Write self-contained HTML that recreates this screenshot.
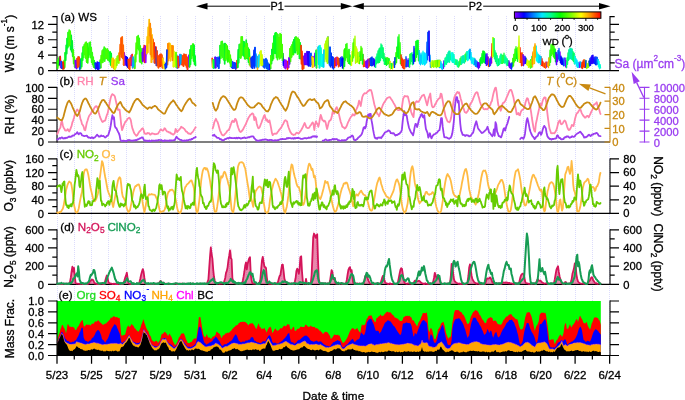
<!DOCTYPE html>
<html lang="en"><head><meta charset="utf-8"><title>Time series</title>
<style>html,body{margin:0;padding:0;background:#fff}svg{display:block}svg text{font-family:"Liberation Sans",sans-serif}</style></head>
<body>
<svg width="685" height="400" viewBox="0 0 685 400" font-family="'Liberation Sans', sans-serif" font-size="12px">
<rect width="685" height="400" fill="#fff"/>
<path d="M57.5,16V355M74.5,16V355M91.5,16V355M108.5,16V355M126.5,16V355M143.5,16V355M160.5,16V355M177.5,16V355M195.5,16V355M212.5,16V355M229.5,16V355M246.5,16V355M264.5,16V355M281.5,16V355M298.5,16V355M316.5,16V355M333.5,16V355M350.5,16V355M367.5,16V355M385.5,16V355M402.5,16V355M419.5,16V355M436.5,16V355M454.5,16V355M471.5,16V355M488.5,16V355M506.5,16V355M523.5,16V355M540.5,16V355M557.5,16V355M575.5,16V355M592.5,16V355M609.5,16V355" stroke="#dcdcfc" stroke-width="1" stroke-dasharray="1,1" fill="none"/>
<g shape-rendering="auto">
<rect x="57.0" y="301.0" width="543.8" height="54.5" fill="#00ff00"/>
<path d="M57.0,355.5 L57.2,341.7 58.0,337.9 58.8,335.0 59.6,332.9 60.4,329.6 61.2,327.6 62.0,324.9 62.8,325.0 63.6,327.2 64.4,328.6 65.2,330.3 66.0,333.6 66.8,329.4 67.6,324.2 68.4,324.4 69.2,326.3 70.0,326.9 70.8,326.4 71.6,327.2 72.4,326.6 73.2,327.4 74.0,327.2 74.8,329.2 75.6,330.2 76.4,329.5 77.2,327.8 78.0,326.6 78.8,325.7 79.6,323.7 80.4,322.6 81.2,321.2 82.0,320.0 82.8,320.5 83.6,325.3 84.4,326.7 85.2,325.6 86.0,325.3 86.8,324.1 87.6,324.9 88.4,324.7 89.2,324.4 90.0,325.4 90.8,325.3 91.6,324.0 92.4,323.5 93.2,324.1 94.0,323.0 94.8,321.7 95.6,321.3 96.4,321.9 97.2,320.6 98.0,321.1 98.8,320.2 99.6,321.9 100.4,322.6 101.2,323.2 102.0,324.1 102.8,324.7 103.6,324.7 104.4,324.0 105.2,323.6 106.0,323.7 106.8,322.6 107.6,322.0 108.4,321.0 109.2,320.2 110.0,319.4 110.8,317.5 111.6,317.8 112.4,317.6 113.2,316.3 114.0,316.5 114.8,316.6 115.6,317.5 116.4,317.1 117.2,317.1 118.0,317.9 118.8,318.1 119.6,317.8 120.4,325.5 121.2,334.4 122.0,336.1 122.8,335.3 123.6,334.9 124.4,334.9 125.2,334.2 126.0,331.6 126.8,327.8 127.6,326.5 128.4,325.3 129.2,327.1 130.0,326.5 130.8,325.4 131.6,323.7 132.4,325.0 133.2,325.6 134.0,326.7 134.8,328.6 135.6,328.8 136.4,330.3 137.2,330.8 138.0,331.5 138.8,331.5 139.6,329.7 140.4,327.9 141.2,325.0 142.0,323.2 142.8,321.1 143.6,319.1 144.4,322.7 145.2,324.8 146.0,327.4 146.8,329.1 147.6,330.5 148.4,331.3 149.2,333.9 150.0,335.6 150.8,336.4 151.6,339.2 152.4,340.6 153.2,341.2 154.0,341.6 154.8,341.9 155.6,340.5 156.4,340.9 157.2,341.3 158.0,343.0 158.8,341.8 159.6,340.8 160.4,338.7 161.2,335.5 162.0,333.6 162.8,334.1 163.6,332.9 164.4,332.0 165.2,331.7 166.0,333.3 166.8,333.5 167.6,335.5 168.4,335.8 169.2,333.7 170.0,334.2 170.8,335.9 171.6,336.9 172.4,339.4 173.2,341.8 174.0,343.0 174.8,344.7 175.6,345.0 176.4,343.8 177.2,342.2 178.0,340.1 178.8,337.7 179.6,336.7 180.4,335.4 181.2,333.8 182.0,333.2 182.8,333.7 183.6,333.0 184.4,334.4 185.2,336.7 186.0,339.3 186.8,340.7 187.6,342.8 188.4,343.0 189.2,343.2 190.0,342.5 190.8,342.1 191.6,341.9 192.4,340.7 193.2,339.6 194.0,338.8 194.8,338.2 195.6,338.6 196.4,338.4 197.2,332.6 198.0,327.1 198.8,317.4 199.6,317.0 200.4,317.0 201.2,322.0 202.0,326.9 202.8,331.3 203.6,334.9 204.4,336.4 205.2,337.3 206.0,336.3 206.8,333.8 207.6,336.4 208.4,337.8 209.2,337.3 210.0,337.9 210.8,338.8 211.6,338.4 212.4,336.8 213.2,336.8 214.0,336.0 214.8,335.7 215.6,334.5 216.4,332.0 217.2,331.5 218.0,333.0 218.8,333.0 219.6,333.9 220.4,335.3 221.2,338.1 222.0,337.4 222.8,335.6 223.6,335.3 224.4,335.0 225.2,333.3 226.0,333.8 226.8,333.0 227.6,332.5 228.4,333.0 229.2,332.5 230.0,331.7 230.8,331.1 231.6,330.2 232.4,328.7 233.2,328.5 234.0,327.0 234.8,327.1 235.6,325.4 236.4,325.6 237.2,325.1 238.0,324.5 238.8,322.9 239.6,322.8 240.4,321.9 241.2,321.9 242.0,321.9 242.8,321.6 243.6,322.0 244.4,321.7 245.2,321.9 246.0,322.5 246.8,323.2 247.6,324.2 248.4,325.5 249.2,323.9 250.0,323.8 250.8,323.3 251.6,323.5 252.4,323.1 253.2,323.9 254.0,325.1 254.8,326.6 255.6,327.9 256.4,329.3 257.2,326.7 258.0,324.7 258.8,323.2 259.6,326.8 260.4,327.0 261.2,328.5 262.0,329.2 262.8,328.2 263.6,328.9 264.4,327.5 265.2,329.7 266.0,330.7 266.8,332.8 267.6,329.8 268.4,328.8 269.2,327.0 270.0,327.4 270.8,326.6 271.6,329.7 272.4,333.3 273.2,332.1 274.0,330.5 274.8,329.0 275.6,328.6 276.4,329.9 277.2,330.7 278.0,330.4 278.8,330.3 279.6,329.3 280.4,328.1 281.2,328.7 282.0,327.7 282.8,327.5 283.6,326.1 284.4,325.6 285.2,326.4 286.0,325.9 286.8,325.3 287.6,324.0 288.4,324.8 289.2,323.9 290.0,327.9 290.8,329.8 291.6,329.4 292.4,328.2 293.2,326.8 294.0,327.0 294.8,330.7 295.6,331.0 296.4,330.3 297.2,328.9 298.0,328.7 298.8,328.7 299.6,328.0 300.4,326.8 301.2,326.6 302.0,327.0 302.8,327.1 303.6,327.0 304.4,326.9 305.2,324.9 306.0,324.5 306.8,325.6 307.6,326.3 308.4,327.1 309.2,326.4 310.0,326.7 310.8,325.2 311.6,326.4 312.4,326.8 313.2,327.0 314.0,327.1 314.8,326.8 315.6,328.4 316.4,327.9 317.2,328.4 318.0,328.7 318.8,329.7 319.6,330.8 320.4,330.4 321.2,332.0 322.0,332.3 322.8,334.0 323.6,333.5 324.4,332.6 325.2,331.5 326.0,332.3 326.8,331.8 327.6,332.4 328.4,333.4 329.2,334.7 330.0,335.9 330.8,338.9 331.6,338.4 332.4,337.4 333.2,336.3 334.0,334.8 334.8,334.6 335.6,335.1 336.4,335.1 337.2,335.0 338.0,334.6 338.8,335.7 339.6,335.4 340.4,337.7 341.2,340.0 342.0,341.2 342.8,342.9 343.6,342.8 344.4,341.9 345.2,341.0 346.0,339.7 346.8,338.4 347.6,337.1 348.4,335.1 349.2,333.0 350.0,330.9 350.8,330.0 351.6,328.7 352.4,328.2 353.2,328.2 354.0,328.7 354.8,329.8 355.6,329.3 356.4,328.7 357.2,327.8 358.0,329.7 358.8,330.7 359.6,331.9 360.4,332.6 361.2,327.2 362.0,324.0 362.8,325.6 363.6,325.1 364.4,325.1 365.2,324.1 366.0,321.3 366.8,318.6 367.6,318.0 368.4,316.0 369.2,315.7 370.0,315.6 370.8,315.5 371.6,315.6 372.4,317.7 373.2,319.7 374.0,320.1 374.8,322.1 375.6,322.0 376.4,318.2 377.2,317.9 378.0,317.2 378.8,316.2 379.6,316.1 380.4,314.2 381.2,315.4 382.0,316.3 382.8,315.5 383.6,315.7 384.4,314.3 385.2,313.4 386.0,312.5 386.8,312.0 387.6,311.5 388.4,312.5 389.2,312.0 390.0,312.8 390.8,312.3 391.6,313.7 392.4,314.8 393.2,315.0 394.0,316.3 394.8,317.5 395.6,317.8 396.4,318.0 397.2,318.8 398.0,318.5 398.8,319.9 399.6,320.4 400.4,321.1 401.2,321.0 402.0,321.1 402.8,319.6 403.6,316.9 404.4,316.9 405.2,316.1 406.0,315.7 406.8,316.2 407.6,315.6 408.4,316.3 409.2,315.5 410.0,316.6 410.8,316.9 411.6,317.7 412.4,320.5 413.2,320.2 414.0,320.8 414.8,322.9 415.6,323.7 416.4,325.2 417.2,326.6 418.0,323.7 418.8,322.0 419.6,321.0 420.4,319.2 421.2,316.9 422.0,315.4 422.8,313.1 423.6,312.9 424.4,312.9 425.2,313.2 426.0,312.9 426.8,312.2 427.6,317.6 428.4,328.5 429.2,332.6 430.0,330.1 430.8,327.8 431.6,328.7 432.4,330.6 433.2,334.2 434.0,338.1 434.8,339.5 435.6,338.7 436.4,336.3 437.2,333.7 438.0,329.2 438.8,328.8 439.6,327.3 440.4,325.8 441.2,323.1 442.0,323.0 442.8,321.7 443.6,321.9 444.4,324.9 445.2,329.0 446.0,332.8 446.8,335.1 447.6,337.0 448.4,338.7 449.2,337.5 450.0,337.1 450.8,336.6 451.6,330.1 452.4,322.8 453.2,318.6 454.0,313.3 454.8,310.8 455.6,310.1 456.4,309.9 457.2,310.3 458.0,310.0 458.8,310.3 459.6,311.3 460.4,311.7 461.2,312.0 462.0,312.9 462.8,314.8 463.6,314.8 464.4,316.5 465.2,318.3 466.0,320.4 466.8,322.8 467.6,324.2 468.4,323.4 469.2,323.1 470.0,319.4 470.8,316.7 471.6,315.2 472.4,313.5 473.2,312.0 474.0,311.5 474.8,310.8 475.6,309.7 476.4,310.7 477.2,310.6 478.0,311.8 478.8,312.9 479.6,315.1 480.4,315.6 481.2,317.3 482.0,318.8 482.8,319.9 483.6,320.7 484.4,322.4 485.2,323.1 486.0,323.2 486.8,320.3 487.6,319.0 488.4,318.2 489.2,317.8 490.0,317.6 490.8,317.0 491.6,317.7 492.4,317.9 493.2,321.1 494.0,321.1 494.8,320.2 495.6,320.7 496.4,321.5 497.2,323.2 498.0,324.3 498.8,324.3 499.6,324.5 500.4,324.8 501.2,324.5 502.0,323.4 502.8,321.4 503.6,319.8 504.4,319.6 505.2,317.4 506.0,317.4 506.8,316.1 507.6,316.4 508.4,315.2 509.2,314.6 510.0,314.5 510.8,313.9 511.6,314.5 512.4,315.9 513.2,316.7 514.0,317.2 514.8,318.0 515.6,319.0 516.4,319.2 517.2,318.9 518.0,321.2 518.8,324.9 519.6,327.5 520.4,329.2 521.2,329.5 522.0,329.2 522.8,328.4 523.6,326.2 524.4,321.6 525.2,317.6 526.0,315.0 526.8,312.5 527.6,312.4 528.4,312.2 529.2,312.1 530.0,313.0 530.8,314.7 531.6,316.7 532.4,319.9 533.2,323.1 534.0,327.2 534.8,331.1 535.6,328.2 536.4,325.9 537.2,324.9 538.0,323.2 538.8,320.9 539.6,314.7 540.4,313.8 541.2,312.7 542.0,312.6 542.8,313.1 543.6,312.4 544.4,313.2 545.2,312.4 546.0,314.8 546.8,320.3 547.6,325.4 548.4,332.2 549.2,339.7 550.0,340.0 550.8,339.8 551.6,339.2 552.4,339.8 553.2,338.8 554.0,341.4 554.8,344.3 555.6,342.3 556.4,340.5 557.2,339.7 558.0,338.6 558.8,336.8 559.6,335.5 560.4,334.6 561.2,335.5 562.0,336.9 562.8,335.5 563.6,332.8 564.4,326.1 565.2,323.6 566.0,323.2 566.8,328.4 567.6,329.1 568.4,328.1 569.2,325.9 570.0,324.2 570.8,326.2 571.6,327.4 572.4,325.5 573.2,324.8 574.0,323.4 574.8,322.5 575.6,320.4 576.4,318.9 577.2,319.8 578.0,322.1 578.8,319.1 579.6,316.2 580.4,315.9 581.2,318.0 582.0,318.9 582.8,321.1 583.6,323.0 584.4,323.2 585.2,323.6 586.0,322.6 586.8,322.0 587.6,324.9 588.4,327.0 589.2,328.2 590.0,329.4 590.8,327.4 591.6,323.7 592.4,322.3 593.2,320.0 594.0,317.9 594.8,317.3 595.6,317.5 596.4,317.2 597.2,317.9 598.0,318.0 598.8,319.9 599.6,320.6 600.4,323.3 600.8,325.0 L600.8,355.5 Z" fill="#ff0000"/>
<path d="M57.0,355.5 L57.2,342.0 58.0,340.8 58.8,338.5 59.6,336.4 60.4,335.3 61.2,332.8 62.0,331.5 62.8,333.1 63.6,334.8 64.4,336.5 65.2,338.7 66.0,339.1 66.8,340.7 67.6,341.1 68.4,341.1 69.2,341.4 70.0,342.5 70.8,342.3 71.6,342.5 72.4,341.5 73.2,341.9 74.0,341.6 74.8,340.4 75.6,340.5 76.4,339.6 77.2,337.8 78.0,336.5 78.8,334.8 79.6,332.5 80.4,331.3 81.2,328.6 82.0,327.4 82.8,328.1 83.6,337.3 84.4,339.2 85.2,340.5 86.0,341.0 86.8,340.9 87.6,341.7 88.4,341.7 89.2,341.0 90.0,340.6 90.8,340.5 91.6,338.7 92.4,337.7 93.2,337.5 94.0,336.0 94.8,334.8 95.6,332.8 96.4,331.5 97.2,330.4 98.0,330.1 98.8,330.4 99.6,331.4 100.4,333.6 101.2,335.6 102.0,338.9 102.8,339.7 103.6,340.2 104.4,341.6 105.2,342.7 106.0,341.3 106.8,339.9 107.6,338.9 108.4,337.2 109.2,335.0 110.0,332.8 110.8,330.9 111.6,328.7 112.4,327.5 113.2,326.3 114.0,325.1 114.8,324.1 115.6,324.9 116.4,325.5 117.2,327.9 118.0,329.6 118.8,331.7 119.6,333.2 120.4,337.5 121.2,341.8 122.0,343.1 122.8,342.5 123.6,341.8 124.4,341.6 125.2,340.8 126.0,340.0 126.8,338.9 127.6,336.9 128.4,335.7 129.2,334.5 130.0,336.5 130.8,338.0 131.6,339.6 132.4,340.8 133.2,341.4 134.0,342.1 134.8,342.2 135.6,342.6 136.4,343.4 137.2,342.7 138.0,342.9 138.8,343.1 139.6,342.3 140.4,342.2 141.2,339.5 142.0,336.1 142.8,332.9 143.6,328.6 144.4,330.2 145.2,331.4 146.0,332.0 146.8,333.5 147.6,335.0 148.4,337.5 149.2,339.1 150.0,341.6 150.8,343.3 151.6,344.2 152.4,344.9 153.2,345.5 154.0,346.0 154.8,346.2 155.6,346.2 156.4,346.6 157.2,346.3 158.0,346.2 158.8,344.9 159.6,343.6 160.4,342.2 161.2,340.3 162.0,339.2 162.8,338.1 163.6,338.7 164.4,337.9 165.2,337.9 166.0,338.4 166.8,340.5 167.6,341.9 168.4,342.7 169.2,343.7 170.0,343.6 170.8,344.8 171.6,344.8 172.4,345.8 173.2,346.5 174.0,347.3 174.8,347.1 175.6,346.3 176.4,345.5 177.2,344.7 178.0,342.9 178.8,341.6 179.6,340.3 180.4,339.0 181.2,338.4 182.0,339.5 182.8,340.2 183.6,341.8 184.4,342.7 185.2,343.8 186.0,345.1 186.8,345.5 187.6,346.7 188.4,346.8 189.2,346.6 190.0,346.9 190.8,347.2 191.6,346.4 192.4,346.5 193.2,345.9 194.0,345.2 194.8,344.5 195.6,343.4 196.4,340.9 197.2,337.0 198.0,332.3 198.8,327.4 199.6,326.8 200.4,326.9 201.2,329.6 202.0,333.7 202.8,337.0 203.6,340.6 204.4,342.7 205.2,343.0 206.0,344.4 206.8,344.5 207.6,343.7 208.4,343.4 209.2,342.8 210.0,342.3 210.8,342.3 211.6,341.4 212.4,340.9 213.2,339.6 214.0,338.5 214.8,338.2 215.6,336.5 216.4,337.3 217.2,337.9 218.0,339.4 218.8,340.5 219.6,341.4 220.4,343.2 221.2,344.7 222.0,345.8 222.8,346.0 223.6,344.9 224.4,344.3 225.2,344.3 226.0,344.2 226.8,343.9 227.6,342.9 228.4,343.0 229.2,342.1 230.0,341.6 230.8,341.1 231.6,340.6 232.4,339.4 233.2,338.0 234.0,336.6 234.8,335.2 235.6,334.3 236.4,334.9 237.2,336.6 238.0,338.8 238.8,340.8 239.6,341.3 240.4,342.0 241.2,342.5 242.0,341.8 242.8,341.5 243.6,341.5 244.4,341.9 245.2,340.7 246.0,340.6 246.8,340.6 247.6,340.4 248.4,339.8 249.2,339.7 250.0,339.6 250.8,337.4 251.6,337.2 252.4,337.0 253.2,337.8 254.0,339.7 254.8,341.2 255.6,340.8 256.4,342.1 257.2,342.3 258.0,342.4 258.8,342.4 259.6,342.9 260.4,342.9 261.2,342.7 262.0,342.2 262.8,341.3 263.6,341.2 264.4,341.1 265.2,341.9 266.0,339.9 266.8,338.7 267.6,337.2 268.4,335.9 269.2,335.3 270.0,335.6 270.8,337.1 271.6,339.0 272.4,341.9 273.2,342.7 274.0,343.1 274.8,342.5 275.6,342.8 276.4,343.4 277.2,343.4 278.0,343.4 278.8,343.4 279.6,342.3 280.4,342.3 281.2,341.2 282.0,341.2 282.8,339.9 283.6,339.2 284.4,338.5 285.2,337.8 286.0,336.4 286.8,335.7 287.6,334.0 288.4,333.6 289.2,332.8 290.0,337.7 290.8,341.4 291.6,341.9 292.4,342.5 293.2,342.2 294.0,343.4 294.8,343.7 295.6,342.7 296.4,342.6 297.2,341.0 298.0,340.6 298.8,339.7 299.6,339.9 300.4,339.2 301.2,338.5 302.0,337.8 302.8,337.0 303.6,336.4 304.4,335.7 305.2,335.7 306.0,335.4 306.8,335.7 307.6,336.5 308.4,337.3 309.2,337.9 310.0,339.7 310.8,340.5 311.6,341.0 312.4,340.9 313.2,341.9 314.0,341.3 314.8,341.5 315.6,341.1 316.4,340.5 317.2,341.1 318.0,341.6 318.8,342.0 319.6,341.3 320.4,341.5 321.2,341.6 322.0,342.6 322.8,343.3 323.6,344.1 324.4,344.7 325.2,344.8 326.0,345.8 326.8,345.8 327.6,345.7 328.4,346.2 329.2,346.3 330.0,346.4 330.8,345.5 331.6,344.3 332.4,343.5 333.2,342.2 334.0,341.9 334.8,341.7 335.6,341.0 336.4,341.0 337.2,339.9 338.0,340.5 338.8,340.7 339.6,340.9 340.4,341.9 341.2,344.8 342.0,346.6 342.8,347.4 343.6,347.1 344.4,346.7 345.2,346.1 346.0,344.8 346.8,344.8 347.6,344.0 348.4,343.0 349.2,341.9 350.0,341.3 350.8,340.2 351.6,339.8 352.4,338.8 353.2,339.4 354.0,340.9 354.8,342.2 355.6,341.3 356.4,340.4 357.2,339.6 358.0,339.7 358.8,339.1 359.6,338.2 360.4,334.6 361.2,332.2 362.0,333.6 362.8,334.1 363.6,335.3 364.4,334.4 365.2,332.4 366.0,328.3 366.8,322.8 367.6,321.4 368.4,320.3 369.2,319.3 370.0,319.1 370.8,318.8 371.6,319.6 372.4,321.8 373.2,323.3 374.0,325.2 374.8,327.9 375.6,330.5 376.4,331.0 377.2,330.7 378.0,330.7 378.8,331.4 379.6,333.7 380.4,332.2 381.2,331.4 382.0,329.3 382.8,327.6 383.6,325.9 384.4,323.8 385.2,322.7 386.0,321.8 386.8,321.4 387.6,320.3 388.4,320.5 389.2,320.8 390.0,321.4 390.8,321.6 391.6,322.9 392.4,324.1 393.2,325.4 394.0,325.9 394.8,327.0 395.6,328.2 396.4,329.7 397.2,331.0 398.0,332.3 398.8,333.2 399.6,334.5 400.4,335.0 401.2,333.7 402.0,329.8 402.8,324.1 403.6,323.3 404.4,323.5 405.2,323.1 406.0,322.8 406.8,322.3 407.6,323.0 408.4,322.9 409.2,323.2 410.0,323.0 410.8,323.9 411.6,326.2 412.4,330.8 413.2,335.4 414.0,336.7 414.8,332.8 415.6,333.5 416.4,334.4 417.2,332.4 418.0,330.0 418.8,328.0 419.6,326.1 420.4,324.2 421.2,322.8 422.0,321.0 422.8,320.5 423.6,320.1 424.4,320.6 425.2,321.0 426.0,322.5 426.8,322.5 427.6,328.8 428.4,338.7 429.2,341.6 430.0,336.8 430.8,333.9 431.6,334.9 432.4,336.0 433.2,339.7 434.0,341.9 434.8,342.9 435.6,342.8 436.4,341.6 437.2,339.1 438.0,335.1 438.8,332.5 439.6,330.9 440.4,329.5 441.2,327.3 442.0,325.5 442.8,324.7 443.6,327.5 444.4,331.1 445.2,335.1 446.0,338.7 446.8,341.0 447.6,344.2 448.4,345.1 449.2,344.8 450.0,345.2 450.8,344.4 451.6,340.3 452.4,329.4 453.2,324.6 454.0,321.9 454.8,320.3 455.6,318.9 456.4,318.7 457.2,318.7 458.0,318.7 458.8,318.0 459.6,318.8 460.4,319.3 461.2,321.0 462.0,321.7 462.8,323.5 463.6,325.0 464.4,327.4 465.2,329.5 466.0,332.5 466.8,335.5 467.6,338.0 468.4,336.5 469.2,335.2 470.0,329.7 470.8,325.2 471.6,322.1 472.4,320.3 473.2,318.0 474.0,317.6 474.8,317.8 475.6,317.8 476.4,319.2 477.2,320.9 478.0,321.9 478.8,323.1 479.6,324.9 480.4,326.0 481.2,327.6 482.0,329.7 482.8,331.0 483.6,333.4 484.4,335.1 485.2,334.1 486.0,333.6 486.8,331.2 487.6,328.7 488.4,330.8 489.2,333.0 490.0,331.5 490.8,330.4 491.6,331.4 492.4,335.4 493.2,337.8 494.0,335.5 494.8,333.4 495.6,332.6 496.4,331.9 497.2,335.1 498.0,337.3 498.8,337.3 499.6,336.3 500.4,334.9 501.2,332.8 502.0,331.2 502.8,329.6 503.6,328.5 504.4,327.3 505.2,325.9 506.0,323.9 506.8,322.8 507.6,322.3 508.4,321.5 509.2,320.1 510.0,320.1 510.8,320.0 511.6,319.5 512.4,320.2 513.2,321.7 514.0,322.3 514.8,325.1 515.6,326.8 516.4,328.8 517.2,332.3 518.0,334.7 518.8,339.0 519.6,342.9 520.4,344.8 521.2,344.1 522.0,342.4 522.8,340.7 523.6,335.6 524.4,331.3 525.2,328.3 526.0,325.5 526.8,323.1 527.6,323.1 528.4,322.9 529.2,325.1 530.0,328.0 530.8,329.8 531.6,331.7 532.4,332.9 533.2,334.3 534.0,336.0 534.8,337.9 535.6,341.3 536.4,343.1 537.2,342.0 538.0,338.5 538.8,332.2 539.6,324.5 540.4,323.9 541.2,324.3 542.0,322.9 542.8,322.0 543.6,320.7 544.4,319.6 545.2,319.3 546.0,321.7 546.8,327.7 547.6,334.2 548.4,341.1 549.2,344.3 550.0,346.5 550.8,347.4 551.6,347.3 552.4,347.8 553.2,347.2 554.0,347.5 554.8,347.7 555.6,346.6 556.4,346.0 557.2,344.1 558.0,342.7 558.8,342.3 559.6,341.9 560.4,341.2 561.2,340.2 562.0,339.8 562.8,341.5 563.6,340.4 564.4,339.4 565.2,339.2 566.0,340.6 566.8,343.3 567.6,344.9 568.4,344.1 569.2,343.0 570.0,343.1 570.8,342.1 571.6,341.6 572.4,341.5 573.2,340.7 574.0,339.9 574.8,339.2 575.6,338.1 576.4,336.2 577.2,334.4 578.0,331.8 578.8,329.0 579.6,327.5 580.4,326.6 581.2,327.9 582.0,330.5 582.8,335.4 583.6,339.9 584.4,340.3 585.2,341.5 586.0,341.7 586.8,341.2 587.6,340.7 588.4,341.1 589.2,341.6 590.0,341.6 590.8,340.1 591.6,337.7 592.4,334.9 593.2,332.7 594.0,331.0 594.8,330.2 595.6,329.1 596.4,329.4 597.2,330.5 598.0,330.6 598.8,332.2 599.6,333.1 600.4,334.0 600.8,334.7 L600.8,355.5 Z" fill="#0000ff"/>
<path d="M57.0,355.5 L57.2,342.6 58.0,340.8 58.8,339.3 59.6,337.4 60.4,335.9 61.2,334.2 62.0,333.7 62.8,334.4 63.6,336.8 64.4,340.1 65.2,341.8 66.0,342.3 66.8,343.0 67.6,343.2 68.4,343.5 69.2,343.9 70.0,344.3 70.8,344.1 71.6,344.2 72.4,344.0 73.2,344.3 74.0,343.8 74.8,344.0 75.6,343.5 76.4,341.7 77.2,341.8 78.0,342.5 78.8,342.2 79.6,342.8 80.4,343.1 81.2,342.9 82.0,343.3 82.8,344.0 83.6,344.1 84.4,344.2 85.2,344.6 86.0,344.6 86.8,344.1 87.6,343.8 88.4,344.0 89.2,344.0 90.0,343.8 90.8,343.1 91.6,343.1 92.4,343.0 93.2,342.8 94.0,342.3 94.8,342.8 95.6,342.9 96.4,343.3 97.2,343.3 98.0,343.2 98.8,343.5 99.6,344.0 100.4,344.1 101.2,344.3 102.0,344.7 102.8,344.8 103.6,344.6 104.4,344.3 105.2,344.3 106.0,344.5 106.8,344.3 107.6,344.3 108.4,344.1 109.2,343.9 110.0,343.8 110.8,343.5 111.6,343.4 112.4,343.6 113.2,343.4 114.0,343.5 114.8,343.3 115.6,343.5 116.4,343.3 117.2,343.8 118.0,344.0 118.8,344.0 119.6,343.8 120.4,343.5 121.2,343.5 122.0,344.3 122.8,344.1 123.6,343.0 124.4,342.3 125.2,341.7 126.0,340.2 126.8,339.5 127.6,338.1 128.4,336.5 129.2,335.3 130.0,337.2 130.8,338.6 131.6,339.8 132.4,341.5 133.2,342.7 134.0,343.1 134.8,343.4 135.6,344.5 136.4,344.4 137.2,344.7 138.0,344.6 138.8,344.3 139.6,343.9 140.4,342.4 141.2,340.1 142.0,337.0 142.8,334.2 143.6,330.3 144.4,330.7 145.2,332.2 146.0,333.3 146.8,334.4 147.6,336.1 148.4,338.1 149.2,340.3 150.0,341.8 150.8,343.2 151.6,345.3 152.4,345.8 153.2,346.5 154.0,346.7 154.8,347.7 155.6,347.8 156.4,347.4 157.2,347.0 158.0,346.6 158.8,345.8 159.6,344.9 160.4,342.8 161.2,341.2 162.0,340.1 162.8,338.9 163.6,339.5 164.4,339.5 165.2,339.2 166.0,339.2 166.8,341.5 167.6,342.7 168.4,344.0 169.2,345.1 170.0,345.4 170.8,346.3 171.6,346.7 172.4,347.5 173.2,348.0 174.0,348.7 174.8,348.2 175.6,347.5 176.4,346.7 177.2,345.4 178.0,343.5 178.8,342.6 179.6,341.1 180.4,339.9 181.2,339.6 182.0,340.3 182.8,341.4 183.6,342.8 184.4,344.4 185.2,345.4 186.0,346.3 186.8,347.4 187.6,348.1 188.4,348.5 189.2,348.5 190.0,348.6 190.8,348.6 191.6,347.9 192.4,348.1 193.2,347.3 194.0,346.9 194.8,346.3 195.6,346.0 196.4,344.2 197.2,342.4 198.0,341.6 198.8,341.8 199.6,342.2 200.4,342.4 201.2,343.3 202.0,344.3 202.8,344.8 203.6,345.3 204.4,346.2 205.2,346.6 206.0,346.9 206.8,346.7 207.6,346.6 208.4,346.2 209.2,346.1 210.0,346.2 210.8,346.0 211.6,345.7 212.4,345.1 213.2,345.2 214.0,344.7 214.8,343.9 215.6,343.0 216.4,343.5 217.2,343.7 218.0,344.2 218.8,344.7 219.6,345.5 220.4,345.8 221.2,346.9 222.0,348.3 222.8,347.9 223.6,347.4 224.4,347.1 225.2,346.5 226.0,346.2 226.8,346.4 227.6,346.3 228.4,345.6 229.2,345.2 230.0,344.5 230.8,344.3 231.6,343.6 232.4,343.4 233.2,343.0 234.0,343.0 234.8,343.0 235.6,343.2 236.4,343.5 237.2,343.6 238.0,343.9 238.8,344.4 239.6,344.3 240.4,344.2 241.2,344.2 242.0,344.3 242.8,343.8 243.6,344.0 244.4,343.9 245.2,343.7 246.0,343.2 246.8,343.2 247.6,342.8 248.4,342.7 249.2,342.9 250.0,342.4 250.8,342.3 251.6,342.1 252.4,342.5 253.2,342.4 254.0,342.7 254.8,343.2 255.6,343.0 256.4,343.3 257.2,343.8 258.0,344.2 258.8,344.0 259.6,344.3 260.4,344.4 261.2,344.3 262.0,344.1 262.8,343.9 263.6,343.4 264.4,343.8 265.2,343.6 266.0,342.6 266.8,341.3 267.6,339.5 268.4,338.4 269.2,339.7 270.0,341.5 270.8,343.0 271.6,344.0 272.4,345.2 273.2,345.7 274.0,345.3 274.8,345.4 275.6,345.3 276.4,344.9 277.2,344.6 278.0,344.5 278.8,344.2 279.6,344.3 280.4,343.7 281.2,343.5 282.0,343.5 282.8,343.0 283.6,342.6 284.4,342.1 285.2,341.5 286.0,341.3 286.8,341.8 287.6,342.6 288.4,342.8 289.2,343.6 290.0,344.0 290.8,344.4 291.6,344.5 292.4,344.6 293.2,345.1 294.0,344.9 294.8,345.5 295.6,345.1 296.4,344.6 297.2,344.1 298.0,343.4 298.8,343.7 299.6,343.4 300.4,343.2 301.2,342.8 302.0,342.0 302.8,341.7 303.6,341.3 304.4,341.3 305.2,341.1 306.0,342.2 306.8,343.4 307.6,343.8 308.4,343.7 309.2,344.5 310.0,344.7 310.8,344.5 311.6,344.3 312.4,344.7 313.2,344.3 314.0,344.7 314.8,344.2 315.6,344.1 316.4,344.1 317.2,344.6 318.0,344.8 318.8,344.8 319.6,345.0 320.4,344.3 321.2,345.0 322.0,345.5 322.8,345.8 323.6,346.2 324.4,346.7 325.2,347.2 326.0,347.4 326.8,347.4 327.6,347.3 328.4,347.7 329.2,347.2 330.0,347.0 330.8,347.0 331.6,346.4 332.4,346.3 333.2,345.7 334.0,345.7 334.8,345.5 335.6,344.8 336.4,345.1 337.2,344.5 338.0,344.5 338.8,344.9 339.6,344.9 340.4,345.2 341.2,347.1 342.0,348.4 342.8,348.8 343.6,349.1 344.4,348.6 345.2,347.4 346.0,346.8 346.8,346.1 347.6,345.6 348.4,345.2 349.2,344.7 350.0,344.8 350.8,344.1 351.6,344.0 352.4,343.6 353.2,343.8 354.0,344.5 354.8,344.6 355.6,344.7 356.4,345.0 357.2,345.0 358.0,345.7 358.8,345.7 359.6,345.7 360.4,346.0 361.2,346.0 362.0,345.8 362.8,346.0 363.6,345.7 364.4,346.0 365.2,346.3 366.0,346.0 366.8,345.4 367.6,344.9 368.4,344.3 369.2,344.1 370.0,344.1 370.8,343.7 371.6,343.8 372.4,344.4 373.2,344.5 374.0,344.9 374.8,345.4 375.6,344.8 376.4,344.6 377.2,344.4 378.0,344.6 378.8,344.3 379.6,344.3 380.4,343.7 381.2,344.0 382.0,343.9 382.8,343.6 383.6,343.5 384.4,343.6 385.2,343.1 386.0,343.3 386.8,343.2 387.6,342.8 388.4,342.5 389.2,342.8 390.0,343.2 390.8,343.5 391.6,343.3 392.4,344.0 393.2,344.0 394.0,344.0 394.8,344.6 395.6,344.6 396.4,344.5 397.2,344.7 398.0,344.6 398.8,345.0 399.6,344.7 400.4,344.6 401.2,344.4 402.0,344.3 402.8,344.2 403.6,344.2 404.4,344.0 405.2,343.8 406.0,343.9 406.8,343.3 407.6,343.1 408.4,343.2 409.2,343.3 410.0,343.7 410.8,343.6 411.6,343.7 412.4,344.1 413.2,344.7 414.0,344.9 414.8,345.5 415.6,345.3 416.4,345.4 417.2,345.7 418.0,346.0 418.8,345.4 419.6,344.6 420.4,344.3 421.2,343.0 422.0,340.1 422.8,342.8 423.6,342.6 424.4,343.0 425.2,342.9 426.0,342.8 426.8,342.6 427.6,343.2 428.4,345.7 429.2,346.1 430.0,346.7 430.8,346.4 431.6,346.8 432.4,347.2 433.2,347.4 434.0,347.1 434.8,347.2 435.6,346.8 436.4,346.4 437.2,345.4 438.0,343.8 438.8,343.4 439.6,342.9 440.4,342.5 441.2,341.6 442.0,342.4 442.8,343.4 443.6,344.4 444.4,345.7 445.2,346.8 446.0,348.1 446.8,348.1 447.6,348.8 448.4,348.5 449.2,348.3 450.0,347.9 450.8,346.7 451.6,345.6 452.4,345.0 453.2,344.2 454.0,343.8 454.8,343.4 455.6,343.2 456.4,343.2 457.2,343.2 458.0,342.9 458.8,342.5 459.6,343.0 460.4,342.9 461.2,343.5 462.0,343.5 462.8,344.1 463.6,343.9 464.4,344.0 465.2,344.1 466.0,344.6 466.8,344.6 467.6,344.2 468.4,344.6 469.2,344.0 470.0,343.3 470.8,343.0 471.6,342.5 472.4,342.2 473.2,342.4 474.0,341.6 474.8,341.9 475.6,341.8 476.4,341.5 477.2,341.9 478.0,341.9 478.8,342.2 479.6,342.6 480.4,343.5 481.2,343.9 482.0,343.8 482.8,344.6 483.6,344.3 484.4,344.5 485.2,344.6 486.0,344.6 486.8,345.0 487.6,344.9 488.4,345.1 489.2,345.3 490.0,345.0 490.8,345.3 491.6,345.0 492.4,344.8 493.2,344.6 494.0,344.7 494.8,344.4 495.6,344.3 496.4,344.4 497.2,344.9 498.0,344.7 498.8,345.0 499.6,345.1 500.4,344.6 501.2,344.6 502.0,344.6 502.8,344.0 503.6,343.9 504.4,343.4 505.2,343.1 506.0,342.8 506.8,342.4 507.6,342.3 508.4,342.0 509.2,342.4 510.0,342.2 510.8,342.5 511.6,342.8 512.4,343.3 513.2,343.3 514.0,343.7 514.8,344.1 515.6,344.4 516.4,344.5 517.2,345.1 518.0,345.4 518.8,345.7 519.6,346.4 520.4,346.7 521.2,346.1 522.0,345.8 522.8,345.3 523.6,344.2 524.4,343.4 525.2,342.6 526.0,342.4 526.8,342.4 527.6,342.1 528.4,342.8 529.2,342.7 530.0,343.8 530.8,344.2 531.6,345.2 532.4,345.7 533.2,346.1 534.0,346.5 534.8,347.1 535.6,345.8 536.4,344.1 537.2,343.3 538.0,343.3 538.8,342.8 539.6,343.0 540.4,343.1 541.2,342.6 542.0,342.6 542.8,342.3 543.6,342.2 544.4,341.8 545.2,342.5 546.0,342.7 546.8,343.7 547.6,345.1 548.4,346.9 549.2,348.8 550.0,349.2 550.8,348.7 551.6,349.1 552.4,348.8 553.2,349.0 554.0,349.6 554.8,349.8 555.6,348.6 556.4,347.8 557.2,347.3 558.0,346.3 558.8,345.8 559.6,344.7 560.4,344.0 561.2,342.1 562.0,341.5 562.8,344.0 563.6,345.9 564.4,345.1 565.2,344.4 566.0,344.9 566.8,345.7 567.6,345.9 568.4,345.0 569.2,344.5 570.0,344.3 570.8,343.9 571.6,343.9 572.4,343.9 573.2,343.1 574.0,342.9 574.8,342.8 575.6,343.0 576.4,342.7 577.2,342.5 578.0,342.5 578.8,342.8 579.6,342.5 580.4,342.6 581.2,342.9 582.0,342.9 582.8,343.3 583.6,343.7 584.4,343.8 585.2,343.9 586.0,344.6 586.8,345.0 587.6,344.7 588.4,345.1 589.2,345.1 590.0,345.4 590.8,345.2 591.6,344.6 592.4,344.8 593.2,344.3 594.0,344.1 594.8,344.4 595.6,344.1 596.4,344.1 597.2,344.1 598.0,344.5 598.8,344.0 599.6,344.6 600.4,344.7 600.8,344.8 L600.8,355.5 Z" fill="#ffa500"/>
<path d="M57.0,355.5 L57.2,342.8 58.0,341.5 58.8,338.5 59.6,337.9 60.4,335.7 61.2,334.2 62.0,334.2 62.8,335.6 63.6,338.0 64.4,341.2 65.2,343.1 66.0,343.8 66.8,344.8 67.6,346.5 68.4,348.7 69.2,350.2 70.0,350.7 70.8,350.9 71.6,350.7 72.4,351.2 73.2,350.1 74.0,349.5 74.8,348.9 75.6,348.0 76.4,346.2 77.2,346.6 78.0,347.3 78.8,348.1 79.6,348.0 80.4,349.0 81.2,349.0 82.0,349.5 82.8,349.5 83.6,350.4 84.4,350.6 85.2,351.0 86.0,350.4 86.8,350.8 87.6,350.5 88.4,350.0 89.2,350.1 90.0,350.5 90.8,349.5 91.6,349.3 92.4,349.7 93.2,348.8 94.0,349.0 94.8,348.6 95.6,349.5 96.4,349.5 97.2,349.9 98.0,349.8 98.8,349.7 99.6,350.6 100.4,350.4 101.2,350.9 102.0,350.4 102.8,350.7 103.6,351.4 104.4,351.2 105.2,351.4 106.0,351.1 106.8,350.4 107.6,351.1 108.4,350.9 109.2,351.5 110.0,350.7 110.8,351.3 111.6,351.4 112.4,350.6 113.2,351.6 114.0,350.7 114.8,351.1 115.6,350.6 116.4,350.7 117.2,351.5 118.0,351.5 118.8,351.2 119.6,351.2 120.4,349.0 121.2,347.0 122.0,347.3 122.8,346.4 123.6,346.2 124.4,344.8 125.2,343.3 126.0,342.8 126.8,341.8 127.6,340.6 128.4,338.7 129.2,337.7 130.0,338.7 130.8,341.5 131.6,342.7 132.4,344.3 133.2,345.7 134.0,345.6 134.8,346.4 135.6,346.8 136.4,346.8 137.2,346.9 138.0,347.4 138.8,347.2 139.6,346.1 140.4,345.1 141.2,342.3 142.0,339.6 142.8,335.1 143.6,331.7 144.4,332.9 145.2,332.9 146.0,334.8 146.8,335.1 147.6,337.3 148.4,339.4 149.2,341.5 150.0,344.0 150.8,345.3 151.6,347.0 152.4,348.2 153.2,349.1 154.0,349.9 154.8,350.6 155.6,350.2 156.4,350.5 157.2,349.6 158.0,349.6 158.8,348.7 159.6,348.1 160.4,345.7 161.2,344.1 162.0,342.9 162.8,342.8 163.6,342.2 164.4,343.1 165.2,342.4 166.0,343.0 166.8,345.0 167.6,346.6 168.4,347.6 169.2,349.9 170.0,350.1 170.8,350.5 171.6,351.4 172.4,351.5 173.2,351.1 174.0,351.6 174.8,351.5 175.6,350.2 176.4,349.1 177.2,346.9 178.0,345.8 178.8,344.1 179.6,341.9 180.4,341.5 181.2,340.8 182.0,342.3 182.8,344.2 183.6,345.6 184.4,346.9 185.2,348.5 186.0,349.5 186.8,350.4 187.6,350.1 188.4,350.8 189.2,350.2 190.0,350.0 190.8,350.7 191.6,349.6 192.4,349.6 193.2,350.3 194.0,349.7 194.8,348.8 195.6,348.5 196.4,348.6 197.2,349.3 198.0,348.4 198.8,348.9 199.6,349.2 200.4,349.9 201.2,350.2 202.0,350.6 202.8,350.5 203.6,350.9 204.4,351.0 205.2,351.7 206.0,351.2 206.8,352.1 207.6,351.7 208.4,351.0 209.2,350.8 210.0,350.9 210.8,349.6 211.6,349.3 212.4,349.0 213.2,347.6 214.0,347.5 214.8,346.7 215.6,346.7 216.4,346.5 217.2,346.4 218.0,347.2 218.8,347.6 219.6,349.5 220.4,349.6 221.2,350.2 222.0,351.4 222.8,352.7 223.6,352.8 224.4,352.7 225.2,351.7 226.0,351.1 226.8,352.0 227.6,351.2 228.4,350.7 229.2,350.6 230.0,350.4 230.8,350.1 231.6,349.8 232.4,348.7 233.2,349.1 234.0,348.3 234.8,348.2 235.6,349.2 236.4,349.3 237.2,348.8 238.0,349.6 238.8,349.9 239.6,350.6 240.4,351.1 241.2,351.5 242.0,350.7 242.8,351.2 243.6,350.5 244.4,350.5 245.2,350.2 246.0,349.7 246.8,349.7 247.6,349.4 248.4,350.1 249.2,350.2 250.0,349.7 250.8,349.9 251.6,350.3 252.4,349.5 253.2,349.5 254.0,349.5 254.8,349.7 255.6,349.1 256.4,349.4 257.2,350.2 258.0,349.6 258.8,350.0 259.6,350.9 260.4,350.8 261.2,349.7 262.0,348.9 262.8,348.7 263.6,348.5 264.4,348.4 265.2,348.7 266.0,345.8 266.8,344.7 267.6,342.2 268.4,341.0 269.2,342.7 270.0,344.1 270.8,346.1 271.6,348.3 272.4,350.1 273.2,351.2 274.0,350.3 274.8,351.1 275.6,350.0 276.4,349.9 277.2,350.1 278.0,350.0 278.8,349.6 279.6,348.8 280.4,349.3 281.2,349.3 282.0,348.7 282.8,348.5 283.6,347.1 284.4,347.2 285.2,346.8 286.0,345.6 286.8,346.4 287.6,347.4 288.4,348.0 289.2,348.5 290.0,349.3 290.8,349.7 291.6,350.0 292.4,350.3 293.2,350.8 294.0,350.2 294.8,350.6 295.6,349.9 296.4,349.8 297.2,349.8 298.0,349.1 298.8,349.4 299.6,348.7 300.4,347.9 301.2,347.5 302.0,347.6 302.8,347.3 303.6,346.1 304.4,346.0 305.2,346.8 306.0,347.5 306.8,348.3 307.6,348.7 308.4,349.0 309.2,349.1 310.0,349.8 310.8,350.1 311.6,350.2 312.4,349.5 313.2,349.8 314.0,349.9 314.8,350.4 315.6,350.3 316.4,349.9 317.2,349.8 318.0,350.1 318.8,350.4 319.6,349.5 320.4,349.3 321.2,349.5 322.0,350.3 322.8,350.6 323.6,351.0 324.4,350.9 325.2,350.8 326.0,351.4 326.8,351.4 327.6,352.3 328.4,352.3 329.2,352.0 330.0,351.5 330.8,351.0 331.6,350.9 332.4,350.5 333.2,350.1 334.0,349.0 334.8,349.2 335.6,349.6 336.4,349.3 337.2,348.3 338.0,348.6 338.8,348.3 339.6,348.5 340.4,349.2 341.2,350.0 342.0,350.9 342.8,351.0 343.6,351.3 344.4,351.4 345.2,350.2 346.0,350.7 346.8,350.1 347.6,349.5 348.4,349.3 349.2,349.8 350.0,349.1 350.8,349.7 351.6,349.2 352.4,348.4 353.2,349.2 354.0,349.9 354.8,350.1 355.6,350.4 356.4,350.5 357.2,350.8 358.0,350.5 358.8,351.5 359.6,350.9 360.4,351.5 361.2,351.8 362.0,352.3 362.8,352.2 363.6,352.1 364.4,352.1 365.2,353.0 366.0,352.3 366.8,352.4 367.6,352.2 368.4,351.7 369.2,352.3 370.0,352.1 370.8,351.9 371.6,351.4 372.4,351.7 373.2,352.1 374.0,351.9 374.8,352.0 375.6,352.6 376.4,352.6 377.2,353.3 378.0,352.2 378.8,352.5 379.6,351.8 380.4,352.5 381.2,351.8 382.0,351.8 382.8,352.3 383.6,352.1 384.4,351.7 385.2,351.3 386.0,351.7 386.8,351.6 387.6,351.4 388.4,350.6 389.2,350.6 390.0,351.1 390.8,350.9 391.6,351.4 392.4,351.2 393.2,351.2 394.0,351.3 394.8,351.9 395.6,352.3 396.4,351.5 397.2,351.9 398.0,352.2 398.8,351.7 399.6,351.6 400.4,352.4 401.2,352.0 402.0,352.1 402.8,352.2 403.6,351.8 404.4,351.0 405.2,351.7 406.0,351.6 406.8,351.8 407.6,351.4 408.4,351.0 409.2,351.7 410.0,351.4 410.8,351.8 411.6,351.4 412.4,351.9 413.2,351.7 414.0,351.4 414.8,351.6 415.6,351.9 416.4,352.1 417.2,351.4 418.0,351.7 418.8,352.1 419.6,351.2 420.4,351.5 421.2,350.1 422.0,347.0 422.8,350.6 423.6,350.9 424.4,351.8 425.2,351.4 426.0,351.6 426.8,352.0 427.6,351.4 428.4,352.1 429.2,351.1 430.0,352.0 430.8,351.1 431.6,351.5 432.4,351.8 433.2,351.7 434.0,352.1 434.8,351.3 435.6,350.8 436.4,351.2 437.2,350.1 438.0,349.2 438.8,349.9 439.6,349.3 440.4,346.8 441.2,346.8 442.0,348.5 442.8,349.7 443.6,350.2 444.4,351.2 445.2,351.7 446.0,352.4 446.8,351.8 447.6,351.7 448.4,351.9 449.2,351.5 450.0,351.0 450.8,350.7 451.6,350.3 452.4,350.5 453.2,350.7 454.0,351.8 454.8,352.0 455.6,351.9 456.4,351.7 457.2,351.4 458.0,352.1 458.8,352.5 459.6,352.7 460.4,352.5 461.2,352.1 462.0,352.5 462.8,351.7 463.6,351.6 464.4,352.1 465.2,352.2 466.0,352.3 466.8,352.2 467.6,351.4 468.4,351.5 469.2,351.2 470.0,350.7 470.8,350.8 471.6,351.1 472.4,351.0 473.2,350.6 474.0,351.0 474.8,351.0 475.6,351.2 476.4,351.0 477.2,351.7 478.0,350.9 478.8,351.2 479.6,351.7 480.4,351.7 481.2,352.0 482.0,351.5 482.8,351.6 483.6,351.6 484.4,351.4 485.2,352.4 486.0,351.8 486.8,351.7 487.6,352.4 488.4,351.8 489.2,352.6 490.0,352.1 490.8,352.5 491.6,351.6 492.4,351.5 493.2,351.9 494.0,351.3 494.8,350.5 495.6,349.9 496.4,351.9 497.2,352.3 498.0,351.8 498.8,352.2 499.6,352.5 500.4,352.5 501.2,352.0 502.0,352.1 502.8,351.6 503.6,351.5 504.4,351.7 505.2,351.1 506.0,351.4 506.8,351.4 507.6,350.6 508.4,350.3 509.2,350.2 510.0,350.9 510.8,350.9 511.6,351.1 512.4,351.0 513.2,351.5 514.0,351.9 514.8,351.7 515.6,352.3 516.4,351.6 517.2,352.5 518.0,351.8 518.8,351.6 519.6,351.9 520.4,351.7 521.2,352.0 522.0,351.6 522.8,350.9 523.6,350.5 524.4,350.2 525.2,349.7 526.0,350.3 526.8,351.3 527.6,351.4 528.4,351.5 529.2,351.5 530.0,351.8 530.8,351.9 531.6,352.2 532.4,351.7 533.2,352.5 534.0,352.5 534.8,352.4 535.6,351.9 536.4,351.1 537.2,351.4 538.0,351.9 538.8,351.2 539.6,351.8 540.4,351.3 541.2,351.1 542.0,350.3 542.8,351.0 543.6,349.8 544.4,349.9 545.2,350.8 546.0,351.1 546.8,351.5 547.6,351.3 548.4,351.9 549.2,351.8 550.0,351.5 550.8,352.4 551.6,351.8 552.4,352.5 553.2,351.5 554.0,351.5 554.8,352.1 555.6,350.3 556.4,349.2 557.2,348.0 558.0,347.4 558.8,347.5 559.6,347.2 560.4,346.5 561.2,344.3 562.0,344.4 562.8,346.7 563.6,348.2 564.4,349.8 565.2,349.9 566.0,350.9 566.8,351.4 567.6,351.2 568.4,351.3 569.2,351.5 570.0,351.1 570.8,351.0 571.6,350.4 572.4,351.3 573.2,351.0 574.0,350.9 574.8,350.4 575.6,350.2 576.4,350.2 577.2,349.9 578.0,350.0 578.8,350.8 579.6,351.1 580.4,350.7 581.2,351.8 582.0,351.2 582.8,351.8 583.6,351.1 584.4,351.5 585.2,352.1 586.0,351.1 586.8,352.2 587.6,351.5 588.4,352.2 589.2,351.2 590.0,351.8 590.8,352.1 591.6,351.7 592.4,351.1 593.2,350.8 594.0,350.7 594.8,351.5 595.6,351.1 596.4,351.2 597.2,351.6 598.0,352.1 598.8,352.1 599.6,351.4 600.4,352.2 600.8,351.7 L600.8,355.5 Z" fill="#000000"/>
<polyline points="57.2,342.7 59.5,337.7 61.7,333.2 63.2,334.7 64.7,341.5 67.0,343.0 70.0,344.5 73.0,344.2 75.7,343.7 76.3,341.8 79.0,342.5 82.0,343.4 85.0,344.5 89.5,343.7 94.0,342.5 98.5,343.4 103.0,344.8 107.5,344.2 112.0,343.4 116.5,343.4 120.2,344.2 120.7,343.0 122.5,344.5 124.7,342.2 127.0,339.2 129.2,335.5 130.7,338.5 133.0,342.2 136.0,344.5 139.0,344.5 140.8,342.2 142.7,334.7 143.8,329.5 145.0,331.7 147.2,334.7 149.5,340.7 151.7,345.2 154.0,346.7 154.5,347.5 156.7,347.5 159.0,346.0 161.2,341.5 162.7,338.8 164.2,339.7 165.7,338.8 167.2,342.2 169.5,345.2 171.7,346.7 174.0,348.7 176.2,347.2 178.5,343.0 180.7,339.2 182.2,340.3 184.5,344.5 187.5,348.2 190.5,348.7 193.5,347.5 195.7,345.7 197.2,342.2 198.7,341.5 201.0,343.0 203.2,345.2 205.5,346.7 208.5,346.3 211.5,345.7 213.7,344.8 216.0,343.0 218.2,344.2 220.5,346.0 222.0,348.2 225.0,346.7 228.0,346.0 231.7,343.7 234.0,343.0 237.0,343.7 240.0,344.5 244.5,343.7 247.5,343.0 250.0,342.7 251.0,342.2 254.0,342.7 257.0,343.7 260.0,344.5 263.0,343.7 265.2,343.7 267.5,340.0 268.5,338.2 269.7,340.7 271.2,343.7 272.7,345.7 275.0,345.2 278.0,344.5 281.0,343.7 284.0,342.2 286.2,341.5 288.5,343.0 290.7,344.2 293.0,344.8 295.2,345.7 297.5,343.7 300.5,343.0 303.5,341.5 305.0,340.7 306.5,343.0 309.5,344.5 313.2,344.5 316.2,344.2 318.5,345.2 320.7,344.5 323.0,346.0 325.2,347.2 328.2,347.5 330.5,347.2 332.7,346.0 335.0,345.2 338.0,344.5 340.2,344.8 341.7,348.2 344.0,349.0 346.0,346.7 348.2,345.2 350.5,344.5 352.7,343.7 355.0,344.8 357.2,345.2 359.5,345.7 362.5,346.0 365.5,346.0 368.5,344.5 371.5,343.7 374.5,345.2 377.5,344.5 381.2,343.7 385.0,343.3 388.7,342.7 392.5,343.7 396.2,344.8 400.0,344.8 403.7,344.2 407.5,343.3 411.2,343.7 415.0,345.2 418.0,346.0 421.0,343.7 422.2,340.0 422.9,343.0 425.5,342.7 427.7,343.0 428.5,346.0 431.5,346.7 434.5,347.5 436.7,346.0 438.2,343.7 440.0,343.0 441.3,341.8 443.2,343.7 445.5,347.5 447.7,348.7 450.0,348.2 451.8,345.2 453.7,343.7 456.7,343.0 459.7,342.7 462.7,343.7 465.7,344.5 468.7,344.5 471.0,343.0 474.0,341.8 477.0,341.5 480.0,343.0 483.0,344.5 486.7,344.8 490.5,345.2 494.2,344.5 496.5,344.5 499.5,345.2 502.5,344.2 505.5,343.0 508.5,342.2 511.5,342.7 514.5,343.7 517.5,345.2 520.5,346.7 522.7,345.2 525.0,343.0 527.2,342.2 529.5,343.0 531.7,345.2 534.0,346.7 535.0,347.5 536.7,343.7 539.0,343.0 542.0,342.7 544.2,341.8 546.5,343.0 548.0,346.0 549.5,349.0 552.5,349.0 554.7,349.7 556.7,347.5 558.5,346.0 560.7,343.7 561.8,340.7 562.7,343.7 563.7,346.0 565.2,344.5 567.2,346.0 569.3,344.8 572.0,343.7 575.0,343.0 578.0,342.7 581.0,342.7 584.0,343.7 587.0,344.8 590.0,345.2 593.0,344.5 596.0,344.2 599.0,344.2 600.8,344.8" fill="none" stroke="#e040e0" stroke-width="0.6" opacity="0.7"/>
</g>
<path d="M57.0,16.1V71.1" stroke="#000" stroke-width="1.1" fill="none"/>
<path d="M57.0,70.60h-9.0M57.0,55.17h-9.0M57.0,39.74h-9.0M57.0,24.31h-9.0M57.0,62.89h-4.7M57.0,47.46h-4.7M57.0,32.03h-4.7M57.0,16.60h-4.7" stroke="#000" stroke-width="1.2" fill="none"/>
<text x="43.9" y="74.8" text-anchor="end" fill="#000" font-size="11.2px" stroke="#000" stroke-width="0.3">0</text>
<text x="43.9" y="59.4" text-anchor="end" fill="#000" font-size="11.2px" stroke="#000" stroke-width="0.3">4</text>
<text x="43.9" y="43.9" text-anchor="end" fill="#000" font-size="11.2px" stroke="#000" stroke-width="0.3">8</text>
<text x="43.9" y="28.5" text-anchor="end" fill="#000" font-size="11.2px" stroke="#000" stroke-width="0.3">12</text>
<path d="M610.0,16.1V71.1" stroke="#000" stroke-width="1.1" fill="none"/>
<path d="M610.0,70.60h9.0M610.0,55.17h9.0M610.0,39.74h9.0M610.0,24.31h9.0M610.0,62.89h4.7M610.0,47.46h4.7M610.0,32.03h4.7M610.0,16.60h4.7" stroke="#000" stroke-width="1.2" fill="none"/>
<path d="M57,70.6H610.0" stroke="#000" stroke-width="1.2"/>
<path d="M57.0,86.9V142.5" stroke="#000" stroke-width="1.1" fill="none"/>
<path d="M57.0,142.00h-9.0M57.0,131.08h-9.0M57.0,120.16h-9.0M57.0,109.24h-9.0M57.0,98.32h-9.0M57.0,87.40h-9.0" stroke="#000" stroke-width="1.2" fill="none"/>
<text x="43.9" y="146.2" text-anchor="end" fill="#000" font-size="11.2px" stroke="#000" stroke-width="0.3">0</text>
<text x="43.9" y="135.3" text-anchor="end" fill="#000" font-size="11.2px" stroke="#000" stroke-width="0.3">20</text>
<text x="43.9" y="124.4" text-anchor="end" fill="#000" font-size="11.2px" stroke="#000" stroke-width="0.3">40</text>
<text x="43.9" y="113.4" text-anchor="end" fill="#000" font-size="11.2px" stroke="#000" stroke-width="0.3">60</text>
<text x="43.9" y="102.5" text-anchor="end" fill="#000" font-size="11.2px" stroke="#000" stroke-width="0.3">80</text>
<text x="43.9" y="91.6" text-anchor="end" fill="#000" font-size="11.2px" stroke="#000" stroke-width="0.3">100</text>
<path d="M57,142.0H610.0" stroke="#000" stroke-width="1.2"/>
<path d="M610.0,86.9V142.5" stroke="#c98a12" stroke-width="1.1" fill="none"/>
<path d="M610.0,142.00h-5.5M610.0,128.35h-5.5M610.0,114.70h-5.5M610.0,101.05h-5.5M610.0,87.40h-5.5" stroke="#c98a12" stroke-width="1.2" fill="none"/>
<text x="612.3" y="146.2" text-anchor="start" fill="#c98a12" font-size="11.2px" stroke="#c98a12" stroke-width="0.3">0</text>
<text x="612.3" y="132.5" text-anchor="start" fill="#c98a12" font-size="11.2px" stroke="#c98a12" stroke-width="0.3">10</text>
<text x="612.3" y="118.9" text-anchor="start" fill="#c98a12" font-size="11.2px" stroke="#c98a12" stroke-width="0.3">20</text>
<text x="612.3" y="105.3" text-anchor="start" fill="#c98a12" font-size="11.2px" stroke="#c98a12" stroke-width="0.3">30</text>
<text x="612.3" y="91.6" text-anchor="start" fill="#c98a12" font-size="11.2px" stroke="#c98a12" stroke-width="0.3">40</text>
<path d="M644.5,86.9V142.5" stroke="#9a3df0" stroke-width="1.1"/>
<text x="653.8" y="146.5" fill="#9a3df0" font-size="11.2px" stroke="#9a3df0" stroke-width="0.3">0</text>
<text x="653.8" y="135.6" fill="#9a3df0" font-size="11.2px" stroke="#9a3df0" stroke-width="0.3">2000</text>
<text x="653.8" y="124.7" fill="#9a3df0" font-size="11.2px" stroke="#9a3df0" stroke-width="0.3">4000</text>
<text x="653.8" y="113.7" fill="#9a3df0" font-size="11.2px" stroke="#9a3df0" stroke-width="0.3">6000</text>
<text x="653.8" y="102.8" fill="#9a3df0" font-size="11.2px" stroke="#9a3df0" stroke-width="0.3">8000</text>
<text x="653.8" y="91.9" fill="#9a3df0" font-size="11.2px" stroke="#9a3df0" stroke-width="0.3">10000</text>
<path d="M639.5,142.00h10M639.5,131.08h10M639.5,120.16h10M639.5,109.24h10M639.5,98.32h10M639.5,87.40h10" stroke="#9a3df0" stroke-width="1.1"/>
<path d="M57.0,158.4V213.9" stroke="#000" stroke-width="1.1" fill="none"/>
<path d="M57.0,213.40h-9.0M57.0,199.78h-9.0M57.0,186.15h-9.0M57.0,172.53h-9.0M57.0,158.90h-9.0M57.0,206.59h-4.7M57.0,192.96h-4.7M57.0,179.34h-4.7M57.0,165.71h-4.7" stroke="#000" stroke-width="1.2" fill="none"/>
<text x="43.9" y="217.6" text-anchor="end" fill="#000" font-size="11.2px" stroke="#000" stroke-width="0.3">0</text>
<text x="43.9" y="204.0" text-anchor="end" fill="#000" font-size="11.2px" stroke="#000" stroke-width="0.3">40</text>
<text x="43.9" y="190.3" text-anchor="end" fill="#000" font-size="11.2px" stroke="#000" stroke-width="0.3">80</text>
<text x="43.9" y="176.7" text-anchor="end" fill="#000" font-size="11.2px" stroke="#000" stroke-width="0.3">120</text>
<text x="43.9" y="163.1" text-anchor="end" fill="#000" font-size="11.2px" stroke="#000" stroke-width="0.3">160</text>
<path d="M57,213.4H610.0" stroke="#000" stroke-width="1.2"/>
<path d="M610.0,158.4V213.9" stroke="#000" stroke-width="1.1" fill="none"/>
<path d="M610.0,213.40h9.0M610.0,199.78h9.0M610.0,186.15h9.0M610.0,172.53h9.0M610.0,158.90h9.0" stroke="#000" stroke-width="1.2" fill="none"/>
<text x="623.2" y="217.3" text-anchor="start" fill="#000" font-size="11.2px" stroke="#000" stroke-width="0.3">0</text>
<text x="623.2" y="203.7" text-anchor="start" fill="#000" font-size="11.2px" stroke="#000" stroke-width="0.3">20</text>
<text x="623.2" y="190.1" text-anchor="start" fill="#000" font-size="11.2px" stroke="#000" stroke-width="0.3">40</text>
<text x="623.2" y="176.4" text-anchor="start" fill="#000" font-size="11.2px" stroke="#000" stroke-width="0.3">60</text>
<text x="623.2" y="162.8" text-anchor="start" fill="#000" font-size="11.2px" stroke="#000" stroke-width="0.3">80</text>
<path d="M57.0,229.3V284.8" stroke="#000" stroke-width="1.1" fill="none"/>
<path d="M57.0,284.30h-9.0M57.0,266.13h-9.0M57.0,247.97h-9.0M57.0,229.80h-9.0M57.0,275.22h-4.7M57.0,257.05h-4.7M57.0,238.88h-4.7" stroke="#000" stroke-width="1.2" fill="none"/>
<text x="43.9" y="288.5" text-anchor="end" fill="#000" font-size="11.2px" stroke="#000" stroke-width="0.3">0</text>
<text x="43.9" y="270.3" text-anchor="end" fill="#000" font-size="11.2px" stroke="#000" stroke-width="0.3">200</text>
<text x="43.9" y="252.2" text-anchor="end" fill="#000" font-size="11.2px" stroke="#000" stroke-width="0.3">400</text>
<text x="43.9" y="234.0" text-anchor="end" fill="#000" font-size="11.2px" stroke="#000" stroke-width="0.3">600</text>
<path d="M57,284.3H610.0" stroke="#000" stroke-width="1.2"/>
<path d="M610.0,229.3V284.8" stroke="#000" stroke-width="1.1" fill="none"/>
<path d="M610.0,284.30h9.0M610.0,266.13h9.0M610.0,247.97h9.0M610.0,229.80h9.0M610.0,275.22h4.7M610.0,257.05h4.7M610.0,238.88h4.7" stroke="#000" stroke-width="1.2" fill="none"/>
<text x="623.2" y="288.5" text-anchor="start" fill="#000" font-size="11.2px" stroke="#000" stroke-width="0.3">0</text>
<text x="623.2" y="270.3" text-anchor="start" fill="#000" font-size="11.2px" stroke="#000" stroke-width="0.3">200</text>
<text x="623.2" y="252.2" text-anchor="start" fill="#000" font-size="11.2px" stroke="#000" stroke-width="0.3">400</text>
<text x="623.2" y="234.0" text-anchor="start" fill="#000" font-size="11.2px" stroke="#000" stroke-width="0.3">600</text>
<path d="M57.0,300.5V356.0" stroke="#000" stroke-width="1.1" fill="none"/>
<path d="M57.0,355.50h-9.0M57.0,344.60h-9.0M57.0,333.70h-9.0M57.0,322.80h-9.0M57.0,311.90h-9.0M57.0,301.00h-9.0" stroke="#000" stroke-width="1.2" fill="none"/>
<text x="43.9" y="359.7" text-anchor="end" fill="#000" font-size="11.2px" stroke="#000" stroke-width="0.3">0.0</text>
<text x="43.9" y="348.8" text-anchor="end" fill="#000" font-size="11.2px" stroke="#000" stroke-width="0.3">0.2</text>
<text x="43.9" y="337.9" text-anchor="end" fill="#000" font-size="11.2px" stroke="#000" stroke-width="0.3">0.4</text>
<text x="43.9" y="327.0" text-anchor="end" fill="#000" font-size="11.2px" stroke="#000" stroke-width="0.3">0.6</text>
<text x="43.9" y="316.1" text-anchor="end" fill="#000" font-size="11.2px" stroke="#000" stroke-width="0.3">0.8</text>
<text x="43.9" y="305.2" text-anchor="end" fill="#000" font-size="11.2px" stroke="#000" stroke-width="0.3">1.0</text>
<path d="M610.0,300.5V356.0" stroke="#000" stroke-width="1.1" fill="none"/>
<path d="M610.0,355.50h9.0M610.0,344.60h9.0M610.0,333.70h9.0M610.0,322.80h9.0M610.0,311.90h9.0M610.0,301.00h9.0" stroke="#000" stroke-width="1.2" fill="none"/>
<path d="M57,355.5H610.0" stroke="#000" stroke-width="1.2"/>
<text x="57.0" y="379.2" text-anchor="middle" font-size="11.5px" stroke="#000" stroke-width="0.3">5/23</text>
<text x="91.5" y="379.2" text-anchor="middle" font-size="11.5px" stroke="#000" stroke-width="0.3">5/25</text>
<text x="126.1" y="379.2" text-anchor="middle" font-size="11.5px" stroke="#000" stroke-width="0.3">5/27</text>
<text x="160.6" y="379.2" text-anchor="middle" font-size="11.5px" stroke="#000" stroke-width="0.3">5/29</text>
<text x="195.2" y="379.2" text-anchor="middle" font-size="11.5px" stroke="#000" stroke-width="0.3">5/31</text>
<text x="229.7" y="379.2" text-anchor="middle" font-size="11.5px" stroke="#000" stroke-width="0.3">6/2</text>
<text x="264.2" y="379.2" text-anchor="middle" font-size="11.5px" stroke="#000" stroke-width="0.3">6/4</text>
<text x="298.8" y="379.2" text-anchor="middle" font-size="11.5px" stroke="#000" stroke-width="0.3">6/6</text>
<text x="333.3" y="379.2" text-anchor="middle" font-size="11.5px" stroke="#000" stroke-width="0.3">6/8</text>
<text x="367.9" y="379.2" text-anchor="middle" font-size="11.5px" stroke="#000" stroke-width="0.3">6/10</text>
<text x="402.4" y="379.2" text-anchor="middle" font-size="11.5px" stroke="#000" stroke-width="0.3">6/12</text>
<text x="436.9" y="379.2" text-anchor="middle" font-size="11.5px" stroke="#000" stroke-width="0.3">6/14</text>
<text x="471.5" y="379.2" text-anchor="middle" font-size="11.5px" stroke="#000" stroke-width="0.3">6/16</text>
<text x="506.0" y="379.2" text-anchor="middle" font-size="11.5px" stroke="#000" stroke-width="0.3">6/18</text>
<text x="540.6" y="379.2" text-anchor="middle" font-size="11.5px" stroke="#000" stroke-width="0.3">6/20</text>
<text x="575.1" y="379.2" text-anchor="middle" font-size="11.5px" stroke="#000" stroke-width="0.3">6/22</text>
<text x="609.6" y="379.2" text-anchor="middle" font-size="11.5px" stroke="#000" stroke-width="0.3">6/24</text>
<path d="M57.00,355.5v8.2M74.27,355.5v4M91.54,355.5v8.2M108.81,355.5v4M126.08,355.5v8.2M143.35,355.5v4M160.62,355.5v8.2M177.89,355.5v4M195.16,355.5v8.2M212.43,355.5v4M229.70,355.5v8.2M246.97,355.5v4M264.24,355.5v8.2M281.51,355.5v4M298.78,355.5v8.2M316.05,355.5v4M333.32,355.5v8.2M350.59,355.5v4M367.86,355.5v8.2M385.13,355.5v4M402.40,355.5v8.2M419.67,355.5v4M436.94,355.5v8.2M454.21,355.5v4M471.48,355.5v8.2M488.75,355.5v4M506.02,355.5v8.2M523.29,355.5v4M540.56,355.5v8.2M557.83,355.5v4M575.10,355.5v8.2M592.37,355.5v4M609.64,355.5v8.2" stroke="#000" stroke-width="1.25" fill="none"/>
<text x="333.4" y="400.2" text-anchor="middle" font-size="11.8px" stroke="#000" stroke-width="0.3">Date &amp; time</text>
<polyline points="57.2,134.0 58.0,132.7 58.8,130.3 59.6,128.9 60.4,127.6 61.2,122.6 62.0,120.8 62.8,125.2 63.6,127.8 64.4,128.8 65.2,130.5 66.0,130.7 66.8,130.5 67.6,129.1 68.4,130.1 69.2,131.5 70.0,130.1 70.8,127.9 71.6,125.9 72.4,122.3 73.2,120.3 74.0,117.8 74.8,114.5 75.6,112.4 76.4,110.9 77.2,109.5 78.0,110.4 78.8,111.7 79.6,114.5 80.4,118.8 81.2,120.8 82.0,124.1 82.8,125.0 83.6,126.6 84.4,129.7 85.2,130.3 86.0,126.7 86.8,122.8 87.6,120.5 88.4,117.8 89.2,115.7 90.0,114.7 90.8,113.9 91.6,111.9 92.4,110.8 93.2,110.6 94.0,108.5 94.8,107.3 95.6,106.4 96.4,106.2 97.2,107.0 98.0,109.4 98.8,112.8 99.6,115.5 100.4,117.9 101.2,119.7 102.0,121.5 102.8,122.0 103.6,121.1 104.4,120.9 105.2,120.4 106.0,117.7 106.8,115.2 107.6,113.4 108.4,109.6 109.2,105.3 110.0,101.1 110.8,97.4 111.6,95.2 112.4,94.1 113.2,94.7 114.0,95.3 114.8,96.3 115.6,99.8 116.4,103.2 117.2,107.1 118.0,109.9 118.8,109.6 119.6,109.6 120.4,116.8 121.2,124.6 122.0,130.2 122.8,128.2 123.6,125.7 124.4,124.0 125.2,122.0 126.0,121.2 126.8,120.4 127.6,118.8 128.4,118.3 129.2,117.7 130.0,118.5 130.8,120.1 131.6,124.7 132.4,128.4 133.2,130.4 134.0,132.7 134.8,134.0 135.6,134.9 136.4,135.9 137.2,135.3 138.0,133.8 138.8,132.4 139.6,131.2 140.4,130.9 141.2,129.6 142.0,128.7 142.8,128.2 143.6,130.0 144.4,133.2 145.2,133.8 146.0,133.6 146.8,133.8 147.6,132.9 148.4,133.3 149.2,133.2 150.0,134.6 150.8,134.5 151.6,133.5 152.4,133.4 153.2,133.7 154.0,133.9 154.8,134.3 155.6,134.1 156.4,134.2 157.2,133.8 158.0,133.7 158.8,132.4 159.6,131.1 160.4,129.7 161.2,129.5 162.0,130.3 162.8,130.7 163.6,130.1 164.4,128.3 165.2,128.6 166.0,130.2 166.8,131.3 167.6,131.6 168.4,131.9 169.2,132.6 170.0,132.3 170.8,133.5 171.6,133.5 172.4,134.3 173.2,134.7 174.0,134.0 174.8,133.1 175.6,128.9 176.4,130.1 177.2,132.1 178.0,130.9 178.8,130.1 179.6,129.2 180.4,128.2 181.2,126.7 182.0,127.5 182.8,127.6 183.6,128.4 184.4,129.0 185.2,130.2 186.0,131.5 186.8,131.6 187.6,132.8 188.4,133.5 189.2,133.4 190.0,133.9 190.8,134.1 191.6,132.7 192.4,132.4 193.2,131.1 194.0,129.7 194.8,128.7 195.6,127.2 195.7,127.5" fill="none" stroke="#ff85ad" stroke-width="1.80" stroke-linejoin="round" stroke-linecap="round"/>
<polyline points="212.7,128.6 213.5,126.1 214.3,122.3 215.1,120.5 215.9,118.8 216.7,120.6 217.5,121.9 218.3,124.2 219.1,127.2 219.9,130.3 220.7,132.0 221.5,133.9 222.3,135.1 223.1,135.3 223.9,135.3 224.7,134.1 225.5,133.5 226.3,132.5 227.1,131.1 227.9,130.3 228.7,130.2 229.5,128.5 230.3,126.1 231.1,123.8 231.9,121.6 232.7,120.6 233.5,122.0 234.3,121.8 235.1,118.8 235.9,119.5 236.7,121.6 237.5,125.4 238.3,127.8 239.1,130.0 239.9,131.5 240.7,132.0 241.5,131.4 242.3,130.4 243.1,129.4 243.9,127.7 244.7,126.1 245.5,124.8 246.3,122.9 247.1,121.0 247.9,119.1 248.7,117.3 249.5,116.4 250.3,114.8 251.1,114.5 251.9,113.7 252.7,113.4 253.5,114.6 254.3,120.1 255.1,117.0 255.9,118.5 256.7,123.4 257.5,126.2 258.3,128.3 259.1,127.9 259.9,126.7 260.7,124.5 261.5,122.5 262.3,120.1 263.1,118.4 263.9,116.1 264.7,114.9 265.5,118.1 266.3,120.7 267.1,119.5 267.9,121.8 268.7,122.1 269.5,120.4 270.3,124.1 271.1,128.1 271.9,132.9 272.7,135.1 273.5,134.3 274.3,133.7 275.1,133.5 275.9,133.8 276.7,133.5 277.5,132.3 278.3,131.3 279.1,130.0 279.9,129.2 280.7,128.1 281.5,127.0 282.3,125.3 283.1,124.2 283.9,122.4 284.7,120.7 285.5,120.1 286.3,120.9 287.1,121.5 287.9,125.4 288.7,127.8 289.5,129.9 290.3,131.9 291.1,133.0 291.9,134.1 292.7,134.3 293.5,135.1 294.3,134.6 295.1,134.7 295.9,133.4 296.7,132.6 297.5,133.0 298.3,133.5 299.1,133.1 299.9,131.8 300.7,130.9 301.5,129.5 302.3,128.0 303.1,126.4 303.9,124.7 304.7,123.0 305.5,125.0 306.3,127.4 307.1,127.8 307.9,128.2 308.7,128.0 309.5,127.2 310.3,125.6 311.1,124.8 311.9,123.4 312.7,122.4 313.5,124.2 314.3,130.0 315.1,124.9 315.9,121.4 316.7,123.0 317.5,124.1 318.3,126.8 319.1,123.7 319.9,118.5 320.7,114.9 321.5,117.0 322.3,120.0 323.1,120.4 323.9,121.5 324.7,120.7 325.5,121.9 326.3,125.7 327.1,129.0 327.9,125.9 328.7,122.4 329.5,120.7 330.3,120.5 331.1,119.0 331.9,115.8 332.7,111.8 333.5,112.3 334.3,113.5 335.1,110.3 335.9,108.5 336.7,107.1 337.5,109.1 338.3,111.9 339.1,114.9 339.9,118.5 340.7,121.8 341.5,123.8 342.3,126.7 343.1,127.1 343.9,127.6 344.7,128.6 345.5,128.0 346.3,126.8 347.1,124.9 347.9,122.7 348.7,121.2 349.5,119.4 350.3,117.9 351.1,116.6 351.9,115.9 352.7,114.2 353.5,114.8 354.3,115.5 355.1,114.6 355.9,110.1 356.7,108.7 357.5,107.0 358.3,104.2 359.1,100.7 359.9,102.9 360.7,106.0 361.5,101.5 362.3,97.0 363.1,95.1 363.9,93.9 364.7,93.2 365.5,93.3 366.3,93.3 367.1,92.2 367.9,91.3 368.7,90.9 369.5,89.9 370.3,90.0 371.1,90.2 371.9,92.8 372.7,96.6 373.5,100.4 374.3,104.2 375.1,106.9 375.9,110.1 376.7,112.5 377.5,114.0 378.3,114.5 379.1,116.3 379.9,114.0 380.7,111.7 381.5,108.6 382.3,106.5 383.1,104.4 383.9,102.9 384.7,101.9 385.5,100.5 386.3,99.2 387.1,98.1 387.9,97.7 388.7,97.3 389.5,97.1 390.3,97.6 391.1,98.9 391.9,100.1 392.7,101.4 393.5,102.9 394.3,104.2 395.1,105.7 395.9,107.6 396.7,108.6 397.5,109.7 398.3,110.1 399.1,110.1 399.9,109.5 400.7,109.7 401.5,110.2 402.3,104.5 403.1,98.9 403.9,97.2 404.7,95.9 405.5,96.3 406.3,96.5 407.1,96.2 407.9,96.5 408.7,99.9 409.5,103.1 410.3,107.9 411.1,111.7 411.9,114.0 412.7,115.6 413.5,117.1 414.3,109.3 415.1,103.3 415.9,102.0 416.7,101.1 417.5,101.8 418.3,101.9 419.1,101.0 419.9,99.7 420.7,98.0 421.5,96.8 422.3,95.4 423.1,95.4 423.9,94.7 424.7,96.8 425.5,99.5 426.3,102.6 427.1,105.3 427.9,102.1 428.7,98.0 429.5,95.9 430.3,93.5 431.1,101.0 431.9,105.9 432.7,107.3 433.5,107.1 434.3,106.3 435.1,104.4 435.9,103.4 436.7,101.4 437.5,100.3 438.3,99.1 439.1,98.3 439.9,98.1 440.7,93.7 441.5,94.0 442.3,98.3 443.1,103.2 443.9,108.6 444.7,112.2 445.5,116.4 446.3,118.3 447.1,120.5 447.9,121.7 448.7,122.0 449.5,122.3 450.3,120.9 451.1,117.8 451.9,112.8 452.7,107.1 453.5,101.4 454.3,97.7 455.1,95.7 455.9,94.3 456.7,92.8 457.5,91.9 458.3,93.0 459.1,92.4 459.9,95.3 460.7,98.8 461.5,101.1 462.3,104.6 463.1,107.2 463.9,109.4 464.7,111.9 465.5,112.4 466.3,112.9 467.1,111.7 467.9,110.8 468.7,108.6 469.5,106.6 470.3,103.9 471.1,102.9 471.9,101.7 472.7,99.9 473.5,97.8 474.3,95.8 475.1,94.0 475.9,92.7 476.7,92.2 477.5,92.5 478.3,95.7 479.1,98.3 479.9,101.8 480.7,104.0 481.5,105.8 482.3,106.8 483.1,108.1 483.9,109.2 484.7,109.4 485.5,108.9 486.3,109.1 487.1,109.4 487.9,108.7 488.7,107.8 489.5,105.9 490.3,105.0 491.1,102.3 491.9,101.0 492.7,96.9 493.5,93.3 494.3,90.5 495.1,88.0 495.9,87.6 496.7,92.7 497.5,99.5 498.3,105.0 499.1,106.7 499.9,108.6 500.7,110.7 501.5,108.5 502.3,104.5 503.1,102.9 503.9,102.6 504.7,101.7 505.5,100.4 506.3,98.4 507.1,96.3 507.9,94.6 508.7,92.5 509.5,90.9 510.3,89.8 511.1,89.9 511.9,91.6 512.7,94.7 513.5,97.6 514.3,102.2 515.1,105.5 515.9,109.7 516.7,114.3 517.5,114.1 518.3,113.0 519.1,114.9 519.9,115.3 520.7,112.2 521.5,110.6 522.3,109.8 523.1,109.5 523.9,108.2 524.7,106.2 525.5,102.5 526.3,100.1 527.1,98.1 527.9,98.7 528.7,101.9 529.5,104.6 530.3,107.5 531.1,112.1 531.9,118.0 532.7,123.0 533.5,127.5 534.3,130.6 535.1,131.7 535.9,123.7 536.7,120.3 537.5,116.2 538.3,112.5 539.1,108.7 539.9,104.2 540.7,103.6 541.5,105.7 542.3,102.1 543.1,99.6 543.9,98.0 544.7,97.3 545.5,97.5 546.3,102.9 547.1,110.9 547.9,117.7 548.7,123.6 549.5,128.6 550.3,130.7 551.1,133.2 551.9,133.4 552.7,133.1 553.5,133.1 554.3,133.3 555.1,132.4 555.9,131.0 556.7,129.2 557.5,126.0 558.3,122.5 559.1,121.1 559.9,120.3 560.7,123.8 561.5,124.3 562.3,123.8 563.1,122.7 563.9,121.1 564.7,120.5 565.5,121.4 566.3,123.8 567.1,126.6 567.9,128.8 568.7,130.0 569.5,129.9 570.3,128.8 571.1,127.0 571.9,124.9 572.7,125.6 573.5,126.0 574.3,122.4 575.1,118.5 575.9,115.7 576.7,113.4 577.5,113.0 578.3,111.7 579.1,110.4 579.9,109.5 580.7,110.0 581.5,112.6 582.3,114.1 583.1,115.5 583.9,116.3 584.7,117.6 585.5,117.7 586.3,116.5 587.1,115.9 587.9,115.8 588.7,117.3 589.5,115.7 590.3,114.2 591.1,112.1 591.9,110.6 592.7,109.1 593.5,105.4 594.3,104.4 595.1,104.0 595.9,103.4 596.7,102.3 597.5,105.5 598.3,107.1 599.1,109.3 599.9,112.2 600.5,114.0" fill="none" stroke="#ff85ad" stroke-width="1.80" stroke-linejoin="round" stroke-linecap="round"/>
<polyline points="57.2,139.3 58.0,139.5 58.8,138.6 59.6,138.0 60.4,138.5 61.2,137.7 62.0,137.3 62.8,138.3 63.6,138.5 64.4,137.9 65.2,138.4 66.0,137.7 66.8,138.0 67.6,137.5 68.4,136.9 69.2,136.5 70.0,137.0 70.8,136.6 71.6,136.6 72.4,135.5 73.2,135.7 74.0,135.4 74.8,134.2 75.6,134.1 76.4,133.4 77.2,132.1 78.0,133.5 78.8,134.3 79.6,133.2 80.4,133.2 81.2,133.5 82.0,135.3 82.8,135.5 83.6,136.0 84.4,136.2 85.2,135.8 86.0,135.9 86.8,135.6 87.6,136.8 88.4,137.5 89.2,137.5 90.0,137.7 90.8,138.1 91.6,137.3 92.4,137.4 93.2,138.3 94.0,137.6 94.8,137.5 95.6,136.5 96.4,135.6 97.2,134.7 98.0,135.7 98.8,136.5 99.6,136.5 100.4,136.4 101.2,135.4 102.0,136.1 102.8,136.1 103.6,136.0 104.4,136.9 105.2,137.5 106.0,137.0 106.8,135.9 107.6,135.8 108.4,134.7 109.2,132.0 110.0,129.4 110.8,125.2 111.6,119.3 112.4,115.2 113.2,118.8 114.0,117.3 114.8,125.9 115.6,127.8 116.4,128.0 117.2,130.2 118.0,131.7 118.8,133.1 119.6,135.4 120.4,139.9 121.2,140.6 122.0,141.2 122.8,140.6 123.6,140.6 124.4,140.9 125.2,140.8 126.0,141.0 126.8,141.0 127.6,140.1 128.4,140.1 129.2,140.0 130.0,140.4 130.8,140.4 131.6,140.8 132.4,140.8 133.2,140.4 134.0,140.6 134.8,140.2 135.6,140.0 136.4,140.5 137.2,139.5 138.0,139.5 138.8,139.2 139.6,138.4 140.4,138.4 141.2,137.8 142.0,137.4 142.8,137.6 143.6,139.3 144.4,140.8 145.2,140.6 146.0,140.4 146.8,140.9 147.6,140.7 148.4,141.1 149.2,140.4 150.0,141.2 150.8,141.2 151.6,140.5 152.4,140.6 153.2,140.6 154.0,140.6 154.8,140.8 155.6,140.5 156.4,140.5 157.2,140.3 158.0,140.6 158.8,139.8 159.6,140.0 160.4,140.3 161.2,140.0 162.0,140.6 162.8,140.9 163.6,141.2 164.4,140.2 165.2,140.6 166.0,140.5 166.8,140.7 167.6,140.7 168.4,140.7 169.2,140.9 170.0,140.2 170.8,140.8 171.6,140.3 172.4,140.5 173.2,140.3 174.0,140.2 174.8,140.2 175.6,138.4 176.4,136.8 177.2,137.7 178.0,138.5 178.8,139.0 179.6,139.6 180.4,140.0 181.2,139.8 182.0,140.8 182.8,140.6 183.6,140.9 184.4,140.5 185.2,140.6 186.0,140.8 186.8,140.1 187.6,140.3 188.4,140.3 189.2,139.7 190.0,139.7 190.8,139.8 191.6,139.0 192.4,139.0 193.2,138.4 194.0,137.8 194.8,137.6 195.6,136.8 195.7,137.2" fill="none" stroke="#9a3df0" stroke-width="1.80" stroke-linejoin="round" stroke-linecap="round"/>
<polyline points="212.7,135.4 213.5,135.6 214.3,134.7 215.1,135.9 215.9,136.4 216.7,137.4 217.5,137.9 218.3,137.8 219.1,138.2 219.9,139.3 220.7,139.1 221.5,139.5 222.3,140.5 223.1,140.1 223.9,140.2 224.7,139.2 225.5,139.2 226.3,138.9 227.1,138.3 227.9,138.0 228.7,138.5 229.5,137.6 230.3,137.7 231.1,138.1 231.9,138.0 232.7,138.2 233.5,138.2 234.3,138.2 235.1,137.9 235.9,138.4 236.7,137.7 237.5,138.4 238.3,137.7 239.1,138.0 239.9,138.0 240.7,138.6 241.5,138.4 242.3,137.9 243.1,138.0 243.9,137.6 244.7,137.5 245.5,138.2 246.3,138.0 247.1,137.8 247.9,137.4 248.7,137.2 249.5,137.4 250.3,136.6 251.1,136.7 251.9,136.4 252.7,136.4 253.5,136.7 254.3,138.3 255.1,138.9 255.9,140.1 256.7,140.2 257.5,140.9 258.3,140.7 259.1,140.5 259.9,140.5 260.7,140.2 261.5,140.1 262.3,139.7 263.1,139.9 263.9,139.6 264.7,139.6 265.5,139.3 266.3,139.6 267.1,140.1 267.9,140.0 268.7,140.5 269.5,140.0 270.3,140.0 271.1,139.8 271.9,140.1 272.7,140.6 273.5,140.7 274.3,140.3 275.1,140.2 275.9,140.5 276.7,140.4 277.5,140.2 278.3,140.2 279.1,139.7 279.9,139.5 280.7,139.1 281.5,139.1 282.3,138.9 283.1,139.2 283.9,139.1 284.7,139.2 285.5,139.2 286.3,138.8 287.1,138.0 287.9,138.5 288.7,137.9 289.5,138.1 290.3,138.1 291.1,138.4 291.9,138.5 292.7,138.2 293.5,138.7 294.3,137.9 295.1,138.6 295.9,138.0 296.7,138.1 297.5,138.0 298.3,138.0 299.1,138.1 299.9,138.3 300.7,138.9 301.5,138.9 302.3,138.9 303.1,138.6 303.9,138.4 304.7,138.2 305.5,138.1 306.3,138.5 307.1,138.1 307.9,138.1 308.7,137.5 309.5,137.9 310.3,137.4 311.1,137.7 311.9,136.8 312.7,136.4 313.5,136.6 314.3,136.1 315.1,136.9 315.9,136.1 316.7,137.0 317.0,136.5" fill="none" stroke="#9a3df0" stroke-width="1.80" stroke-linejoin="round" stroke-linecap="round"/>
<polyline points="322.7,140.7 323.5,140.8 324.3,140.3 325.1,139.6 325.9,139.4 326.7,140.1 327.5,140.3 328.3,140.6 329.1,139.9 329.9,140.0 330.7,139.8 331.5,139.8 332.3,139.3 333.1,138.8 333.9,139.6 334.7,139.0 335.5,139.4 336.3,139.0 337.1,139.2 337.9,140.2 338.7,140.1 339.5,140.6 340.3,140.8 341.1,140.5 341.9,140.1 342.7,140.5 343.5,140.6 344.3,140.1 345.1,140.5 345.9,140.1 346.7,139.6 347.5,138.6 348.3,137.6 349.1,137.4 349.9,137.1 350.7,136.8 351.5,135.9 352.3,135.5 353.1,136.4 353.9,139.7 354.7,140.0 355.5,140.4 356.3,139.5 357.1,139.1 357.9,138.1 358.7,137.2 359.5,136.7 360.3,135.8 361.1,135.1 361.9,133.8 362.7,131.2 363.5,127.9 364.3,127.0 365.1,128.5 365.9,126.6 366.7,121.3 367.5,117.7 368.3,114.3 369.1,116.3 369.9,113.8 370.7,113.9 371.5,120.2 372.3,124.3 373.1,129.7 373.9,133.9 374.7,137.4 375.5,138.3 376.3,138.0 377.1,138.9 377.9,137.7 378.7,137.5 379.5,137.8 380.3,137.4 381.1,138.2 381.9,137.0 382.7,135.9 383.5,134.7 384.3,133.5 385.1,132.3 385.9,132.0 386.7,131.5 387.5,131.3 388.3,130.4 389.1,130.7 389.9,131.2 390.7,133.2 391.5,133.2 392.3,133.5 393.1,133.1 393.9,133.4 394.7,134.9 395.5,135.5 396.3,134.8 397.1,135.1 397.9,134.5 398.7,133.8 399.5,133.9 400.3,132.5 401.1,131.9 401.9,129.4 402.7,121.1 403.5,115.0 404.3,111.1 405.1,115.3 405.9,114.3 406.7,115.6 407.5,120.7 408.3,124.6 409.1,128.0 409.9,129.8 410.7,131.7 411.5,132.9 412.3,134.0 413.1,135.4 413.9,131.5 414.7,126.9 415.5,123.8 416.3,124.2 417.1,127.1 417.9,124.2 418.7,120.7 419.5,118.1 420.3,116.6 421.1,114.7 421.9,114.0 422.7,116.8 423.5,117.6 424.3,115.1 425.1,122.8 425.9,128.8 426.7,130.8 427.5,132.8 428.3,137.7 429.1,135.6 429.9,133.3 430.7,136.5 431.5,138.3 432.3,136.5 433.1,135.3 433.9,134.4 434.7,134.1 435.5,133.7 436.3,132.8 437.1,132.7 437.9,131.4 438.7,130.5 439.5,130.1 440.3,124.8 441.1,118.2 441.9,118.2 442.7,126.9 443.5,132.4 444.3,137.1 445.1,137.3 445.9,137.3 446.7,137.4 447.5,137.9 448.3,138.4 449.1,138.8 449.9,138.1 450.7,137.9 451.5,136.2 452.3,133.3 453.1,127.8 453.9,120.7 454.7,108.5 455.5,101.9 456.3,97.2 457.1,97.1 457.9,102.7 458.7,101.0 459.5,113.7 460.3,124.0 461.1,130.7 461.9,132.6 462.7,134.9 463.5,134.8 464.3,135.1 465.1,136.0 465.9,135.1 466.7,135.1 467.5,135.5 468.3,135.5 469.1,136.4 469.9,136.1 470.7,135.9 471.5,134.5 472.3,133.5 473.1,132.7 473.9,129.5 474.7,126.3 475.5,123.5 476.3,121.3 477.1,124.4 477.9,127.8 478.7,129.3 479.5,130.3 480.3,131.3 481.1,132.3 481.9,133.0 482.7,132.8 483.5,132.1 484.3,131.5 485.1,130.6 485.9,129.8 486.7,128.9 487.5,126.8 488.3,129.2 489.1,132.6 489.9,132.9 490.7,134.1 491.5,135.2 492.3,136.2 493.1,134.6 493.9,129.5 494.7,135.8 495.5,122.2 496.3,124.5 497.1,131.7 497.9,133.4 498.7,136.0 499.5,136.1 500.3,137.0 501.1,137.4 501.9,135.1 502.7,132.6 503.5,129.0 504.3,128.1 505.1,130.6 505.9,127.7 506.7,125.0 507.5,123.3 508.3,120.2 509.1,117.6 509.2,117.0" fill="none" stroke="#9a3df0" stroke-width="1.80" stroke-linejoin="round" stroke-linecap="round"/>
<polyline points="520.2,139.0 521.0,138.0 521.8,137.7 522.6,137.8 523.4,138.9 524.2,137.2 525.0,133.7 525.8,126.9 526.6,120.7 527.4,118.1 528.2,121.4 529.0,125.4 529.8,129.6 530.6,132.0 531.4,134.0 532.2,135.7 533.0,136.7 533.8,137.6 534.6,139.1 535.4,138.2 536.2,136.8 537.0,136.4 537.8,135.7 538.6,133.3 539.4,132.4 540.2,132.2 541.0,134.9 541.8,133.4 542.6,130.1 543.4,127.4 544.2,125.9 545.0,127.0 545.8,128.2 546.6,133.0 547.4,136.2 548.2,137.5 549.0,138.3 549.8,139.0 550.6,138.8 551.4,139.7 552.2,138.9 553.0,139.2 553.8,138.9 554.6,138.7 555.4,138.6 556.2,138.2 557.0,135.7 557.8,135.4 558.6,137.2 559.4,138.0 560.2,138.0 561.0,139.1 561.8,139.3 562.6,139.1 563.4,139.2 564.2,137.8 565.0,137.1 565.8,137.3 566.6,136.4 567.4,136.5 568.2,136.5 569.0,137.2 569.8,137.8 570.6,137.2 571.4,137.1 572.2,136.2 573.0,136.6 573.8,136.8 574.6,136.5 575.4,135.2 576.2,134.2 577.0,133.8 577.8,133.3 578.6,132.9 579.4,132.3 580.2,131.6 581.0,132.6 581.8,133.8 582.6,134.5 583.4,135.9 584.2,137.6 585.0,137.1 585.8,137.4 586.6,136.7 587.4,136.4 588.2,135.3 589.0,134.6 589.8,135.5 590.6,136.1 591.4,135.2 592.2,134.5 593.0,134.5 593.8,133.8 594.6,133.7 595.4,133.6 596.2,132.8 597.0,133.1 597.8,134.0 598.6,135.6 599.4,136.0 600.2,136.2 600.5,136.2" fill="none" stroke="#9a3df0" stroke-width="1.80" stroke-linejoin="round" stroke-linecap="round"/>
<polyline points="57.2,117.5 58.0,118.1 58.8,118.8 59.6,119.5 60.4,119.9 61.2,120.3 62.0,120.0 62.8,118.5 63.6,116.3 64.4,112.9 65.2,109.9 66.0,107.1 66.8,104.8 67.6,102.5 68.4,101.5 69.2,100.7 70.0,101.9 70.8,103.1 71.6,104.7 72.4,106.8 73.2,108.6 74.0,110.3 74.8,112.5 75.6,113.7 76.4,114.9 77.2,116.0 78.0,114.9 78.8,113.3 79.6,111.9 80.4,109.1 81.2,106.1 82.0,103.4 82.8,101.5 83.6,99.9 84.4,99.1 85.2,98.5 86.0,98.7 86.8,99.8 87.6,101.3 88.4,103.2 89.2,104.5 90.0,106.4 90.8,107.7 91.6,109.2 92.4,110.8 93.2,111.9 94.0,113.1 94.8,113.6 95.6,113.6 96.4,112.4 97.2,110.8 98.0,109.3 98.8,107.2 99.6,105.3 100.4,103.3 101.2,102.1 102.0,100.4 102.8,100.1 103.6,99.9 104.4,100.5 105.2,102.0 106.0,102.8 106.8,104.2 107.6,105.4 108.4,106.7 109.2,107.9 110.0,108.9 110.8,109.9 111.6,111.0 112.4,112.2 113.2,112.9 114.0,113.0 114.8,111.9 115.6,109.8 116.4,107.8 117.2,106.5 118.0,104.7 118.8,103.5 119.6,102.9 120.4,101.9 121.2,103.5 122.0,105.4 122.8,106.9 123.6,107.5 124.4,108.6 125.2,109.5 126.0,110.3 126.8,110.9 127.6,111.4 128.4,111.8 129.2,112.5 130.0,111.0 130.8,109.7 131.6,107.7 132.4,105.8 133.2,103.8 134.0,102.5 134.8,100.9 135.6,100.1 136.4,99.2 137.2,98.9 138.0,99.0 138.8,99.7 139.6,100.8 140.4,101.5 141.2,102.9 142.0,104.0 142.8,105.1 143.6,105.7 144.4,106.5 145.2,107.1 146.0,107.8 146.8,108.3 147.6,109.0 148.4,108.1 149.2,107.4 150.0,107.3 150.8,107.6 151.6,108.2 152.4,107.3 153.2,106.6 154.0,106.4 154.8,105.8 155.6,106.3 156.4,106.7 157.2,107.9 158.0,109.2 158.8,109.9 159.6,110.7 160.4,111.0 161.2,111.9 162.0,112.5 162.8,113.1 163.6,113.7 164.4,113.7 165.2,113.0 166.0,111.2 166.8,109.3 167.6,107.7 168.4,106.5 169.2,104.9 170.0,103.9 170.8,102.8 171.6,102.0 172.4,101.4 173.2,100.3 174.0,101.1 174.8,102.2 175.6,103.6 176.4,105.1 177.2,105.9 178.0,107.2 178.8,108.2 179.6,109.4 180.4,110.4 181.2,111.2 182.0,110.5 182.8,109.2 183.6,107.2 184.4,105.7 185.2,104.2 186.0,102.9 186.8,101.8 187.6,100.6 188.4,99.7 189.2,98.8 190.0,98.5 190.8,99.7 191.6,101.4 192.4,102.7 193.2,103.4 194.0,103.8 194.8,104.8 195.6,105.5 195.7,105.7" fill="none" stroke="#c98a12" stroke-width="1.80" stroke-linejoin="round" stroke-linecap="round"/>
<polyline points="212.7,102.8 213.5,105.7 214.3,108.2 215.1,109.9 215.9,110.7 216.7,109.4 217.5,108.2 218.3,105.3 219.1,102.5 219.9,100.5 220.7,98.8 221.5,97.5 222.3,96.9 223.1,96.2 223.9,96.4 224.7,96.8 225.5,97.5 226.3,98.4 227.1,99.7 227.9,100.9 228.7,102.4 229.5,103.4 230.3,104.9 231.1,106.1 231.9,107.5 232.7,108.6 233.5,109.8 234.3,109.9 235.1,109.5 235.9,108.1 236.7,105.1 237.5,102.5 238.3,100.6 239.1,98.7 239.9,97.9 240.7,97.3 241.5,97.4 242.3,97.8 243.1,98.2 243.9,99.7 244.7,100.6 245.5,101.8 246.3,102.8 247.1,104.3 247.9,105.3 248.7,105.9 249.5,106.7 250.3,107.2 251.1,107.7 251.9,107.7 252.7,107.6 253.5,107.4 254.3,107.1 255.1,106.0 255.9,105.2 256.7,104.6 257.5,103.6 258.3,103.0 259.1,103.2 259.9,103.6 260.7,104.0 261.5,105.0 262.3,106.5 263.1,107.5 263.9,108.2 264.7,109.3 265.5,110.3 266.3,111.1 267.1,111.3 267.9,111.5 268.7,110.1 269.5,109.1 270.3,106.6 271.1,104.1 271.9,102.4 272.7,100.5 273.5,99.2 274.3,98.1 275.1,97.7 275.9,97.0 276.7,97.6 277.5,97.6 278.3,99.1 279.1,100.5 279.9,102.1 280.7,103.4 281.5,104.7 282.3,105.7 283.1,107.2 283.9,108.7 284.7,109.4 285.5,110.7 286.3,109.6 287.1,108.0 287.9,106.0 288.7,103.0 289.5,100.0 290.3,97.1 291.1,94.3 291.9,92.4 292.7,91.5 293.5,91.7 294.3,92.1 295.1,92.8 295.9,94.4 296.7,95.8 297.5,97.2 298.3,98.0 299.1,99.4 299.9,100.7 300.7,102.4 301.5,103.6 302.3,104.9 303.1,106.0 303.9,105.8 304.7,105.1 305.5,104.1 306.3,102.7 307.1,101.6 307.9,100.5 308.7,99.9 309.5,99.3 310.3,99.2 311.1,99.7 311.9,100.2 312.7,99.7 313.5,99.6 314.3,99.0 315.1,100.2 315.9,101.3 316.7,102.5 317.5,102.7 318.3,103.6 319.1,105.5 319.9,108.5 320.7,107.9 321.5,107.4 322.3,106.5 323.1,104.6 323.9,103.3 324.7,101.8 325.5,101.4 326.3,100.8 327.1,100.1 327.9,100.1 328.7,101.9 329.5,105.3 330.3,106.7 331.1,107.5 331.9,108.5 332.7,109.8 333.5,111.0 334.3,111.4 335.1,111.7 335.9,111.7 336.7,112.6 337.5,113.1 338.3,111.9 339.1,110.3 339.9,108.7 340.7,107.2 341.5,105.3 342.3,104.0 343.1,102.9 343.9,101.9 344.7,101.6 345.5,101.2 346.3,102.0 347.1,102.9 347.9,103.5 348.7,103.8 349.5,104.6 350.3,105.3 351.1,105.5 351.9,106.4 352.7,107.2 353.5,107.9 354.3,109.7 355.1,111.2 355.9,112.7 356.7,113.7 357.5,113.5 358.3,112.8 359.1,112.2 359.9,112.1 360.7,112.8 361.5,114.7 362.3,116.4 363.1,116.7 363.9,116.8 364.7,116.6 365.5,116.5 366.3,116.1 367.1,116.7 367.9,117.5 368.7,117.8 369.5,118.3 370.3,118.3 371.1,118.0 371.9,117.5 372.7,116.5 373.5,115.2 374.3,114.0 375.1,112.8 375.9,111.5 376.7,109.9 377.5,108.8 378.3,108.4 379.1,107.7 379.9,108.5 380.7,109.4 381.5,110.6 382.3,111.5 383.1,112.5 383.9,113.7 384.7,114.0 385.5,114.7 386.3,114.9 387.1,115.3 387.9,115.7 388.7,115.9 389.5,115.4 390.3,115.3 391.1,114.8 391.9,114.5 392.7,113.5 393.5,112.4 394.3,110.9 395.1,109.9 395.9,109.2 396.7,108.2 397.5,108.1 398.3,108.0 399.1,107.6 399.9,108.4 400.7,108.9 401.5,109.3 402.3,110.3 403.1,111.2 403.9,111.7 404.7,112.3 405.5,113.1 406.3,113.3 407.1,112.7 407.9,111.9 408.7,110.3 409.5,108.2 410.3,106.2 411.1,104.4 411.9,103.0 412.7,102.5 413.5,102.2 414.3,106.4 415.1,108.9 415.9,109.1 416.7,109.4 417.5,109.5 418.3,109.1 419.1,109.2 419.9,110.0 420.7,111.0 421.5,111.5 422.3,111.8 423.1,112.3 423.9,112.7 424.7,112.7 425.5,113.2 426.3,112.5 427.1,111.9 427.9,113.0 428.7,114.9 429.5,116.0 430.3,114.1 431.1,112.7 431.9,112.0 432.7,111.8 433.5,112.3 434.3,112.6 435.1,113.0 435.9,113.9 436.7,114.0 437.5,114.9 438.3,115.0 439.1,115.2 439.9,115.3 440.7,115.1 441.5,114.3 442.3,112.8 443.1,110.5 443.9,108.1 444.7,106.6 445.5,104.9 446.3,103.2 447.1,102.2 447.9,101.2 448.7,101.3 449.5,101.4 450.3,103.0 451.1,105.8 451.9,108.0 452.7,110.2 453.5,111.9 454.3,112.7 455.1,113.2 455.9,114.1 456.7,114.1 457.5,114.1 458.3,114.1 459.1,113.0 459.9,111.8 460.7,110.4 461.5,108.9 462.3,107.3 463.1,106.2 463.9,105.3 464.7,104.3 465.5,103.9 466.3,103.5 467.1,104.2 467.9,105.9 468.7,107.1 469.5,108.2 470.3,109.1 471.1,110.4 471.9,111.0 472.7,111.9 473.5,112.6 474.3,113.4 475.1,113.8 475.9,113.9 476.7,113.7 477.5,113.4 478.3,112.1 479.1,111.1 479.9,109.8 480.7,108.1 481.5,107.2 482.3,105.6 483.1,104.5 483.9,103.7 484.7,103.3 485.5,103.3 486.3,103.3 487.1,104.2 487.9,105.5 488.7,105.9 489.5,107.2 490.3,107.7 491.1,108.6 491.9,109.2 492.7,110.1 493.5,113.2 494.3,114.2 495.1,113.1 495.9,112.2 496.7,111.1 497.5,109.6 498.3,108.4 499.1,107.5 499.9,107.0 500.7,106.5 501.5,105.8 502.3,105.7 503.1,106.7 503.9,107.3 504.7,108.1 505.5,109.0 506.3,109.4 507.1,110.3 507.9,111.2 508.7,111.9 509.5,111.9 510.3,112.1 511.1,111.8 511.9,110.7 512.7,109.0 513.5,107.6 514.3,105.8 515.1,103.6 515.9,102.2 516.7,101.1 517.5,100.2 518.3,99.7 519.1,100.7 519.9,103.0 520.7,104.2 521.5,104.9 522.3,105.3 523.1,106.1 523.9,106.7 524.7,107.7 525.5,108.0 526.3,108.5 527.1,109.1 527.9,109.1 528.7,109.0 529.5,108.5 530.3,107.1 531.1,104.7 531.9,102.8 532.7,100.5 533.5,97.7 534.3,96.8 535.1,96.3 535.9,97.5 536.7,99.1 537.5,100.9 538.3,102.6 539.1,104.7 539.9,106.9 540.7,107.6 541.5,108.3 542.3,109.0 543.1,110.1 543.9,110.1 544.7,109.5 545.5,107.7 546.3,105.2 547.1,103.0 547.9,100.6 548.7,98.2 549.5,97.0 550.3,96.1 551.1,94.8 551.9,94.4 552.7,94.4 553.5,94.8 554.3,95.3 555.1,96.7 555.9,98.2 556.7,100.0 557.5,101.3 558.3,102.9 559.1,104.4 559.9,105.4 560.7,106.2 561.5,106.9 562.3,107.0 563.1,106.8 563.9,106.3 564.7,104.2 565.5,102.3 566.3,100.3 567.1,98.7 567.9,97.4 568.7,96.1 569.5,95.9 570.3,96.0 571.1,96.6 571.9,97.9 572.7,98.8 573.5,100.2 574.3,101.5 575.1,102.9 575.9,104.2 576.7,105.4 577.5,106.3 578.3,107.2 579.1,107.7 579.9,108.0 580.7,107.7 581.5,107.0 582.3,105.9 583.1,105.1 583.9,104.0 584.7,103.5 585.5,103.1 586.3,102.7 587.1,102.3 587.9,102.5 588.7,102.7 589.5,102.9 590.3,104.1 591.1,104.9 591.9,106.0 592.7,106.7 593.5,107.7 594.3,108.3 595.1,109.1 595.9,109.6 596.7,109.3 597.5,108.7 598.3,107.2 599.1,105.8 599.9,104.1 600.5,102.7" fill="none" stroke="#c98a12" stroke-width="1.80" stroke-linejoin="round" stroke-linecap="round"/>
<polyline points="57.2,212.5 58.0,213.0 58.8,212.4 59.6,212.0 60.4,212.3 61.2,211.4 62.0,210.0 62.8,208.8 63.6,205.8 64.4,201.1 65.2,196.7 66.0,190.5 66.8,187.5 67.6,184.6 68.4,182.9 69.2,181.5 70.0,182.2 70.8,182.6 71.6,185.6 72.4,190.6 73.2,197.9 74.0,205.1 74.8,208.3 75.6,212.1 76.4,212.6 77.2,212.4 78.0,210.8 78.8,208.2 79.6,203.3 80.4,199.2 81.2,195.0 82.0,192.0 82.8,181.7 83.6,174.8 84.4,171.0 85.2,169.6 86.0,169.4 86.8,169.5 87.6,171.9 88.4,175.3 89.2,179.8 90.0,185.0 90.8,189.3 91.6,192.4 92.4,195.8 93.2,199.1 94.0,200.2 94.8,201.2 95.6,200.1 96.4,198.5 97.2,195.9 98.0,193.2 98.8,186.8 99.6,179.5 100.4,173.9 101.2,167.5 102.0,161.2 102.8,162.9 103.6,167.2 104.4,172.3 105.2,177.0 106.0,180.8 106.8,185.5 107.6,189.7 108.4,192.3 109.2,194.1 110.0,196.0 110.8,198.0 111.6,199.9 112.4,204.0 113.2,207.0 114.0,202.7 114.8,198.6 115.6,194.1 116.4,189.1 117.2,184.6 118.0,180.5 118.8,178.2 119.6,177.2 120.4,178.2 121.2,184.7 122.0,192.8 122.8,196.6 123.6,197.7 124.4,199.4 125.2,201.0 126.0,204.7 126.8,208.7 127.6,210.2 128.4,212.3 129.2,211.2 130.0,210.2 130.8,206.1 131.6,202.1 132.4,197.3 133.2,192.6 134.0,189.7 134.8,187.2 135.6,185.9 136.4,186.0 137.2,184.8 138.0,184.6 138.8,184.4 139.6,186.5 140.4,189.9 141.2,194.1 142.0,198.7 142.8,203.6 143.6,208.3 144.4,212.3 145.2,209.0 146.0,203.8 146.8,200.2 147.6,197.2 148.4,195.6 149.2,194.2 150.0,194.7 150.8,194.5 151.6,194.0 152.4,194.4 153.2,194.7 154.0,194.7 154.8,194.8 155.6,196.1 156.4,198.0 157.2,199.5 158.0,202.5 158.8,206.3 159.6,210.0 160.4,212.5 161.2,211.7 162.0,211.7 162.8,211.1 163.6,211.3 164.4,210.2 165.2,208.1 166.0,204.2 166.8,198.2 167.6,194.2 168.4,192.0 169.2,191.5 170.0,189.9 170.8,190.3 171.6,189.6 172.4,189.7 173.2,190.7 174.0,191.9 174.8,195.4 175.6,199.3 176.4,203.1 177.2,208.1 178.0,210.9 178.8,212.1 179.6,212.7 180.4,212.8 181.2,210.9 182.0,207.7 182.8,200.2 183.6,194.8 184.4,190.6 185.2,187.1 186.0,186.3 186.8,184.6 187.6,184.0 188.4,183.4 189.2,182.3 190.0,181.4 190.8,180.5 191.6,180.5 192.4,182.9 193.2,185.4 194.0,188.5 194.8,199.3 195.6,206.1 196.4,211.4 197.2,212.8 198.0,210.6 198.8,204.7 199.6,198.2 200.4,189.2 201.2,180.5 202.0,174.9 202.8,170.6 203.6,168.9 204.4,167.9 205.2,168.0 206.0,169.6 206.8,168.2 207.6,169.9 208.4,172.6 209.2,176.5 210.0,180.7 210.8,186.1 211.6,190.9 212.4,196.7 213.2,201.9 214.0,207.8 214.8,211.9 215.6,211.9 216.4,211.3 217.2,206.7 218.0,200.9 218.8,193.8 219.6,186.2 220.4,180.6 221.2,176.2 222.0,177.6 222.8,176.5 223.6,173.2 224.4,171.8 225.2,172.4 226.0,175.0 226.8,178.0 227.6,180.5 228.4,184.0 229.2,186.4 230.0,193.3 230.8,201.7 231.6,209.7 232.4,211.5 233.2,212.4 234.0,208.3 234.8,201.5 235.6,193.2 236.4,183.0 237.2,173.8 238.0,166.8 238.8,164.4 239.6,162.7 240.4,162.3 241.2,162.4 242.0,162.1 242.8,162.7 243.6,163.8 244.4,166.7 245.2,168.4 246.0,173.4 246.8,178.6 247.6,183.6 248.4,188.2 249.2,194.2 250.0,199.8 250.8,196.8 251.6,199.9 252.4,203.4 253.2,206.8 254.0,199.6 254.8,195.1 255.6,191.1 256.4,190.2 257.2,188.7 258.0,187.7 258.8,186.8 259.6,186.5 260.4,187.0 261.2,187.8 262.0,191.3 262.8,195.1 263.6,201.9 264.4,206.5 265.2,211.7 266.0,212.0 266.8,213.0 267.6,212.7 268.4,210.9 269.2,206.7 270.0,199.9 270.8,195.1 271.6,191.0 272.4,187.7 273.2,184.5 274.0,182.3 274.8,180.2 275.6,178.7 276.4,180.0 277.2,181.0 278.0,183.4 278.8,185.8 279.6,188.0 280.4,191.2 281.2,193.5 282.0,198.1 282.8,203.0 283.6,208.7 284.4,211.8 285.2,212.8 286.0,209.6 286.8,206.7 287.6,201.3 288.4,195.7 289.2,186.3 290.0,176.8 290.8,168.5 291.6,164.5 292.4,165.1 293.2,169.6 294.0,173.8 294.8,177.0 295.6,179.5 296.4,183.4 297.2,185.7 298.0,186.9 298.8,186.8 299.6,189.9 300.4,192.3 301.2,197.2 302.0,201.4 302.8,204.9 303.6,204.6 304.4,202.0 305.2,197.0 306.0,188.2 306.8,177.0 307.6,170.3 308.4,166.1 309.2,163.6 310.0,164.6 310.8,166.8 311.6,170.0 312.4,168.7 313.2,172.6 314.0,177.3 314.8,175.7 315.6,180.9 316.4,188.6 317.2,191.8 318.0,194.6 318.8,197.2 319.6,198.2 320.4,199.0 321.2,196.9 322.0,194.3 322.8,191.2 323.6,188.2 324.4,184.6 325.2,180.8 326.0,182.5 326.8,182.8 327.6,181.9 328.4,185.3 329.2,188.5 330.0,191.4 330.8,195.0 331.6,199.9 332.4,204.1 333.2,207.3 334.0,210.0 334.8,212.0 335.6,211.3 336.4,210.6 337.2,207.5 338.0,205.4 338.8,201.4 339.6,197.6 340.4,193.7 341.2,190.8 342.0,188.1 342.8,186.6 343.6,184.0 344.4,183.2 345.2,183.6 346.0,182.5 346.8,182.7 347.6,184.4 348.4,187.9 349.2,190.0 350.0,192.2 350.8,194.9 351.6,198.5 352.4,202.6 353.2,206.4 354.0,202.3 354.8,198.3 355.6,195.8 356.4,194.4 357.2,194.8 358.0,195.7 358.8,193.9 359.6,192.7 360.4,191.5 361.2,190.7 362.0,192.3 362.8,193.6 363.6,194.7 364.4,195.0 365.2,195.4 366.0,196.9 366.8,197.5 367.6,201.2 368.4,204.3 369.2,207.5 370.0,209.7 370.8,210.5 371.6,210.7 372.4,209.7 373.2,205.5 374.0,200.6 374.8,196.1 375.6,191.1 376.4,186.7 377.2,183.1 378.0,181.2 378.8,178.4 379.6,177.5 380.4,180.0 381.2,184.0 382.0,186.3 382.8,189.1 383.6,191.1 384.4,192.5 385.2,194.0 386.0,195.5 386.8,196.9 387.6,196.9 388.4,198.0 389.2,198.3 390.0,198.6 390.8,196.8 391.6,195.2 392.4,193.4 393.2,191.7 394.0,188.9 394.8,185.4 395.6,182.2 396.4,180.2 397.2,179.3 398.0,181.2 398.8,183.3 399.6,186.3 400.4,192.8 401.2,200.0 402.0,205.1 402.8,209.1 403.6,211.0 404.4,213.0 405.2,211.9 406.0,210.8 406.8,207.2 407.6,203.8 408.4,196.3 409.2,188.0 410.0,178.3 410.8,172.0 411.6,167.8 412.4,166.2 413.2,169.4 414.0,176.2 414.8,182.9 415.6,186.5 416.4,188.6 417.2,193.2 418.0,198.8 418.8,201.4 419.6,203.3 420.4,202.2 421.2,201.3 422.0,200.0 422.8,199.1 423.6,197.2 424.4,196.1 425.2,193.7 426.0,192.0 426.8,191.9 427.6,193.8 428.4,194.3 429.2,194.9 430.0,194.1 430.8,194.1 431.6,193.7 432.4,192.1 433.2,192.5 434.0,194.4 434.8,198.0 435.6,203.6 436.4,206.9 437.2,209.6 438.0,211.2 438.8,212.4 439.6,212.7 440.4,212.3 441.2,210.5 442.0,205.6 442.8,200.6 443.6,194.2 444.4,187.6 445.2,182.5 446.0,178.5 446.8,175.6 447.6,174.0 448.4,175.6 449.2,176.6 450.0,178.4 450.8,180.9 451.6,185.1 452.4,189.4 453.2,193.0 454.0,194.5 454.8,195.9 455.6,196.0 456.4,197.1 457.2,197.1 458.0,196.8 458.8,195.7 459.6,195.4 460.4,191.0 461.2,187.6 462.0,182.7 462.8,179.0 463.6,174.9 464.4,171.9 465.2,169.5 466.0,168.9 466.8,171.6 467.6,176.2 468.4,182.8 469.2,189.4 470.0,192.8 470.8,196.5 471.6,197.9 472.4,199.9 473.2,200.4 474.0,200.9 474.8,203.1 475.6,204.6 476.4,202.8 477.2,200.5 478.0,197.0 478.8,193.5 479.6,189.0 480.4,183.4 481.2,178.3 482.0,174.5 482.8,171.5 483.6,170.5 484.4,170.8 485.2,170.5 486.0,172.7 486.8,175.6 487.6,181.4 488.4,185.8 489.2,188.5 490.0,190.5 490.8,192.9 491.6,194.6 492.4,196.9 493.2,198.3 494.0,197.1 494.8,194.6 495.6,192.3 496.4,190.3 497.2,188.2 498.0,185.4 498.8,183.9 499.6,182.5 500.4,180.8 501.2,179.9 502.0,179.8 502.8,181.8 503.6,184.5 504.4,189.6 505.2,195.1 506.0,199.9 506.8,205.1 507.6,208.6 508.4,211.4 509.2,211.9 510.0,211.6 510.8,209.8 511.6,205.1 512.4,198.3 513.2,189.7 514.0,181.1 514.8,176.0 515.6,171.9 516.4,170.5 517.2,170.3 518.0,169.2 518.8,172.3 519.6,176.1 520.4,180.6 521.2,187.2 522.0,192.6 522.8,197.0 523.6,200.5 524.4,204.8 525.2,205.6 526.0,205.0 526.8,202.2 527.6,200.1 528.4,195.6 529.2,191.6 530.0,187.5 530.8,182.9 531.6,179.3 532.4,176.1 533.2,174.7 534.0,175.3 534.8,177.6 535.6,178.3 536.4,181.2 537.2,183.2 538.0,185.6 538.8,187.3 539.6,189.7 540.4,190.7 541.2,189.5 542.0,191.9 542.8,199.9 543.6,208.9 544.4,211.6 545.2,210.0 546.0,202.9 546.8,196.9 547.6,191.2 548.4,188.4 549.2,184.7 550.0,183.3 550.8,182.6 551.6,182.1 552.4,182.8 553.2,183.8 554.0,186.4 554.8,190.5 555.6,196.2 556.4,203.9 557.2,211.0 558.0,212.1 558.8,208.9 559.6,200.6 560.4,199.5 561.2,205.3 562.0,210.6 562.8,208.5 563.6,198.0 564.4,187.0 565.2,174.6 566.0,172.4 566.8,169.9 567.6,167.1 568.4,166.8 569.2,171.2 570.0,173.9 570.8,170.1 571.6,161.0 572.4,169.8 573.2,184.3 574.0,190.4 574.8,192.0 575.6,196.2 576.4,202.5 577.2,211.3 578.0,211.5 578.8,211.4 579.6,209.2 580.4,206.0 581.2,201.0 582.0,195.2 582.8,188.1 583.6,184.8 584.4,182.4 585.2,181.8 586.0,181.1 586.8,180.0 587.6,178.8 588.4,179.5 589.2,183.4 590.0,184.8 590.8,187.0 591.6,187.3 592.4,187.0 593.2,187.0 594.0,188.0 594.8,191.0 595.6,189.9 596.4,186.6 597.2,186.4 598.0,184.3 598.8,182.4 599.6,176.5 600.4,172.8 600.5,173.0" fill="none" stroke="#ffbb44" stroke-width="1.80" stroke-linejoin="round" stroke-linecap="round"/>
<polyline points="57.2,187.5 57.8,185.8 58.4,185.6 59.0,186.1 59.6,185.2 60.2,185.4 60.8,188.3 61.4,192.1 62.0,188.4 62.6,183.4 63.2,185.2 63.8,181.8 64.4,181.4 65.0,194.3 65.6,201.1 66.2,205.2 66.8,205.1 67.4,207.2 68.0,205.4 68.6,208.2 69.2,205.8 69.8,206.3 70.4,204.5 71.0,204.4 71.6,206.4 72.2,203.5 72.8,203.3 73.4,200.6 74.0,193.2 74.6,184.8 75.2,180.7 75.8,175.1 76.4,169.9 77.0,173.0 77.6,176.3 78.2,175.1 78.8,177.3 79.4,185.6 80.0,187.2 80.6,183.5 81.2,179.6 81.8,174.2 82.4,172.0 83.0,179.0 83.6,196.1 84.2,200.6 84.8,206.9 85.4,204.3 86.0,205.1 86.6,206.0 87.2,204.5 87.8,202.6 88.4,201.1 89.0,203.0 89.6,201.5 90.2,205.3 90.8,204.4 91.4,205.1 92.0,205.0 92.6,201.2 93.2,201.3 93.8,200.8 94.4,199.7 95.0,199.4 95.6,197.8 96.2,189.5 96.8,184.6 97.4,178.2 98.0,180.2 98.6,188.4 99.2,182.1 99.8,180.9 100.4,192.4 101.0,201.0 101.6,201.2 102.2,205.4 102.8,204.3 103.4,203.8 104.0,204.5 104.6,205.1 105.2,206.5 105.8,205.0 106.4,205.2 107.0,202.7 107.6,202.8 108.2,201.1 108.8,202.7 109.4,204.9 110.0,201.7 110.6,199.8 111.2,201.4 111.8,197.8 112.4,186.7 113.0,183.0 113.6,180.8 114.2,185.9 114.8,190.2 115.4,190.2 116.0,191.2 116.6,194.9 117.2,197.2 117.8,201.1 118.4,203.6 119.0,205.6 119.6,206.8 120.2,206.6 120.8,203.5 121.4,203.9 122.0,205.2 122.6,204.2 123.2,204.9 123.8,206.5 124.4,205.1 125.0,203.5 125.6,204.7 126.2,197.8 126.8,190.7 127.4,185.4 128.0,183.8 128.6,185.2 129.2,184.4 129.8,184.9 130.4,188.4 131.0,190.0 131.6,195.7 132.2,200.7 132.8,201.1 133.4,202.8 134.0,206.9 134.6,205.2 135.2,205.8 135.8,208.5 136.4,207.4 137.0,206.9 137.6,207.2 138.2,205.7 138.8,205.0 139.4,203.3 140.0,200.2 140.6,196.4 141.2,194.2 141.8,194.8 142.4,196.4 143.0,198.3 143.6,195.7 144.2,187.4 144.8,184.7 145.4,195.1 146.0,199.4 146.6,198.4 147.2,197.2 147.8,198.1 148.4,206.3 149.0,206.4 149.6,209.4 150.2,210.1 150.8,210.3 151.4,210.6 152.0,211.6 152.6,210.3 153.2,209.4 153.8,210.0 154.4,211.0 155.0,210.3 155.6,208.8 156.2,208.0 156.8,204.8 157.4,202.5 158.0,197.3 158.6,194.8 159.2,185.7 159.8,184.3 160.4,187.7 161.0,189.1 161.6,185.2 162.2,189.4 162.8,194.7 163.4,193.1 164.0,191.6 164.6,191.6 165.2,192.9 165.8,198.6 166.4,201.4 167.0,206.5 167.6,208.2 168.2,206.4 168.8,210.8 169.4,208.7 170.0,209.5 170.6,209.6 171.2,207.1 171.8,208.0 172.4,206.7 173.0,209.5 173.6,207.9 174.2,205.3 174.8,202.0 175.4,192.1 176.0,183.6 176.6,174.5 177.2,176.4 177.8,179.6 178.4,178.5 179.0,178.5 179.6,180.2 180.2,178.6 180.8,176.9 181.4,186.0 182.0,190.9 182.6,192.5 183.2,195.7 183.8,199.5 184.4,202.8 185.0,204.9 185.6,208.4 186.2,206.5 186.8,206.1 187.4,208.9 188.0,205.9 188.6,207.4 189.2,206.6 189.8,208.2 190.4,207.7 191.0,204.1 191.6,205.0 192.2,203.9 192.8,202.6 193.4,204.6 194.0,204.9 194.6,196.3 195.2,187.3 195.8,177.4 196.4,170.4 197.0,167.8 197.6,174.5 198.2,177.9 198.8,180.0 199.4,186.0 200.0,187.4 200.6,193.2 201.2,195.9 201.8,196.2 202.4,198.1 203.0,203.3 203.6,202.6 204.2,205.0 204.8,207.3 205.4,207.0 206.0,209.1 206.6,208.8 207.2,206.0 207.8,206.2 208.4,205.6 209.0,203.3 209.6,202.1 210.2,201.2 210.8,201.7 211.4,198.7 212.0,186.9 212.6,177.8 213.2,170.0 213.8,163.2 214.4,164.0 215.0,165.9 215.6,170.5 216.2,170.8 216.8,172.8 217.4,170.3 218.0,170.8 218.6,176.8 219.2,184.8 219.8,193.5 220.4,199.7 221.0,203.6 221.6,204.8 222.2,207.3 222.8,206.9 223.4,206.1 224.0,207.3 224.6,206.9 225.2,207.2 225.8,204.4 226.4,206.5 227.0,203.2 227.6,203.0 228.2,204.2 228.8,202.6 229.4,200.7 230.0,191.6 230.6,184.0 231.2,168.4 231.8,168.1 232.4,174.3 233.0,170.3 233.6,167.1 234.2,170.6 234.8,174.7 235.4,179.7 236.0,184.3 236.6,189.3 237.2,197.5 237.8,203.0 238.4,206.5 239.0,207.3 239.6,209.1 240.2,210.0 240.8,209.4 241.4,210.3 242.0,209.6 242.6,209.1 243.2,208.6 243.8,206.4 244.4,205.0 245.0,207.6 245.6,206.9 246.2,204.5 246.8,203.9 247.4,205.6 248.0,204.4 248.6,203.3 249.2,200.8 249.8,201.1 250.4,200.4 251.0,196.3 251.6,187.3 252.2,183.6 252.8,176.6 253.4,191.9 254.0,190.2 254.6,197.4 255.2,202.7 255.8,205.8 256.4,206.6 257.0,207.0 257.6,209.6 258.2,209.5 258.8,208.2 259.4,204.1 260.0,202.6 260.6,202.3 261.2,202.9 261.8,203.1 262.4,198.1 263.0,194.2 263.6,187.3 264.2,183.4 264.8,179.5 265.4,180.5 266.0,185.7 266.6,181.4 267.2,179.8 267.8,187.1 268.4,187.2 269.0,182.0 269.6,181.7 270.2,182.7 270.8,188.1 271.4,191.8 272.0,197.2 272.6,204.9 273.2,207.3 273.8,206.5 274.4,208.3 275.0,209.2 275.6,208.6 276.2,207.2 276.8,207.1 277.4,207.8 278.0,206.2 278.6,205.3 279.2,205.3 279.8,204.2 280.4,202.2 281.0,204.2 281.6,203.3 282.2,200.6 282.8,200.4 283.4,193.1 284.0,186.0 284.6,179.3 285.2,176.9 285.8,179.7 286.4,186.1 287.0,187.0 287.6,184.9 288.2,176.5 288.8,171.6 289.4,182.3 290.0,192.2 290.6,201.2 291.2,203.2 291.8,205.1 292.4,207.1 293.0,203.4 293.6,202.3 294.2,203.7 294.8,202.8 295.4,201.9 296.0,201.4 296.6,200.9 297.2,202.8 297.8,201.5 298.4,204.7 299.0,203.8 299.6,203.0 300.2,205.4 300.8,203.6 301.4,205.1 302.0,192.8 302.6,180.9 303.2,175.3 303.8,176.0 304.4,177.5 305.0,174.8 305.6,174.1 306.2,183.8 306.8,197.3 307.4,200.3 308.0,205.5 308.6,203.6 309.2,205.8 309.8,204.9 310.4,201.7 311.0,201.3 311.6,198.6 312.2,197.8 312.8,194.1 313.4,200.2 314.0,195.5 314.6,192.6 315.2,198.7 315.8,194.9 316.4,188.3 317.0,190.3 317.6,198.5 318.2,201.9 318.8,206.6 319.4,209.7 320.0,209.4 320.6,205.2 321.2,205.7 321.8,202.4 322.4,202.4 323.0,204.9 323.6,207.0 324.2,205.1 324.8,206.8 325.4,208.1 326.0,207.1 326.6,209.4 327.2,206.1 327.8,206.4 328.4,205.4 329.0,203.5 329.6,202.4 330.2,199.9 330.8,196.2 331.4,195.9 332.0,194.6 332.6,190.4 333.2,194.6 333.8,194.7 334.4,186.4 335.0,185.2 335.6,190.3 336.2,192.4 336.8,194.0 337.4,191.1 338.0,193.2 338.6,197.1 339.2,204.0 339.8,204.3 340.4,207.0 341.0,208.6 341.6,206.2 342.2,207.9 342.8,206.5 343.4,208.8 344.0,206.2 344.6,206.8 345.2,208.1 345.8,206.7 346.4,205.2 347.0,207.2 347.6,205.8 348.2,203.1 348.8,204.3 349.4,201.4 350.0,202.2 350.6,201.5 351.2,197.3 351.8,195.9 352.4,188.8 353.0,190.7 353.6,198.9 354.2,191.7 354.8,205.0 355.4,208.1 356.0,207.8 356.6,207.5 357.2,202.8 357.8,202.0 358.4,204.4 359.0,205.6 359.6,205.6 360.2,204.9 360.8,205.6 361.4,204.6 362.0,205.4 362.6,204.9 363.2,206.4 363.8,204.5 364.4,200.8 365.0,197.6 365.6,198.8 366.2,199.5 366.8,197.6 367.4,199.3 368.0,199.2 368.6,196.0 369.2,193.6 369.8,191.5 370.4,191.5 371.0,190.5 371.6,190.6 372.2,195.0 372.8,198.4 373.4,205.0 374.0,205.3 374.6,208.7 375.2,208.3 375.8,205.6 376.4,205.1 377.0,204.0 377.6,205.4 378.2,205.0 378.8,206.4 379.4,206.5 380.0,205.4 380.6,204.3 381.2,205.3 381.8,204.6 382.4,205.6 383.0,202.3 383.6,202.6 384.2,199.5 384.8,200.3 385.4,205.0 386.0,202.3 386.6,202.8 387.2,202.2 387.8,203.9 388.4,200.1 389.0,201.3 389.6,201.1 390.2,200.4 390.8,200.9 391.4,200.5 392.0,203.1 392.6,202.2 393.2,201.9 393.8,202.2 394.4,201.3 395.0,204.5 395.6,207.1 396.2,206.6 396.8,209.9 397.4,206.0 398.0,204.3 398.6,205.8 399.2,204.4 399.8,200.2 400.4,196.5 401.0,192.8 401.6,185.4 402.2,175.0 402.8,174.5 403.4,179.6 404.0,175.6 404.6,172.4 405.2,177.0 405.8,180.2 406.4,184.1 407.0,184.5 407.6,185.7 408.2,189.1 408.8,196.4 409.4,196.3 410.0,199.8 410.6,203.8 411.2,206.4 411.8,209.4 412.4,206.3 413.0,206.6 413.6,206.8 414.2,201.1 414.8,199.5 415.4,197.6 416.0,191.5 416.6,190.0 417.2,184.8 417.8,187.9 418.4,190.6 419.0,188.5 419.6,187.0 420.2,189.6 420.8,193.4 421.4,197.1 422.0,200.4 422.6,200.0 423.2,197.8 423.8,196.1 424.4,200.9 425.0,201.0 425.6,202.0 426.2,200.6 426.8,201.4 427.4,202.9 428.0,205.7 428.6,205.6 429.2,204.6 429.8,205.0 430.4,204.7 431.0,205.3 431.6,203.6 432.2,203.0 432.8,201.8 433.4,198.7 434.0,197.3 434.6,195.2 435.2,193.7 435.8,188.6 436.4,185.6 437.0,185.5 437.6,185.2 438.2,182.8 438.8,179.6 439.4,179.2 440.0,180.2 440.6,188.9 441.2,190.4 441.8,188.7 442.4,193.8 443.0,197.9 443.6,197.9 444.2,198.4 444.8,201.3 445.4,201.2 446.0,205.0 446.6,203.0 447.2,207.0 447.8,205.3 448.4,203.7 449.0,203.9 449.6,201.4 450.2,202.0 450.8,199.4 451.4,200.0 452.0,200.0 452.6,201.3 453.2,199.2 453.8,201.9 454.4,203.9 455.0,202.5 455.6,200.6 456.2,200.1 456.8,203.5 457.4,206.4 458.0,199.5 458.6,195.9 459.2,195.9 459.8,199.3 460.4,203.0 461.0,203.9 461.6,203.5 462.2,204.8 462.8,206.3 463.4,205.8 464.0,204.7 464.6,206.2 465.2,204.6 465.8,205.5 466.4,201.6 467.0,200.9 467.6,199.1 468.2,201.0 468.8,198.7 469.4,199.5 470.0,198.5 470.6,198.1 471.2,199.1 471.8,202.1 472.4,200.8 473.0,200.1 473.6,200.1 474.2,202.3 474.8,201.4 475.4,198.9 476.0,198.7 476.6,198.6 477.2,202.1 477.8,202.3 478.4,200.0 479.0,201.1 479.6,198.6 480.2,201.0 480.8,201.6 481.4,203.9 482.0,205.2 482.6,207.7 483.2,207.1 483.8,206.6 484.4,207.1 485.0,206.3 485.6,200.8 486.2,197.5 486.8,194.3 487.4,195.9 488.0,197.6 488.6,199.0 489.2,193.0 489.8,193.2 490.4,189.3 491.0,189.6 491.6,201.5 492.2,193.9 492.8,196.2 493.4,208.9 494.0,191.8 494.6,188.9 495.2,206.1 495.8,199.2 496.4,195.5 497.0,199.2 497.6,203.8 498.2,205.7 498.8,207.2 499.4,205.9 500.0,207.0 500.6,208.0 501.2,205.4 501.8,207.3 502.4,202.9 503.0,202.4 503.6,202.5 504.2,201.5 504.8,199.8 505.4,200.6 506.0,199.6 506.6,197.7 507.2,200.6 507.8,199.4 508.4,191.8 509.0,190.4 509.6,185.5 510.2,186.8 510.8,190.9 511.4,192.9 512.0,193.8 512.6,194.2 513.2,196.1 513.8,199.2 514.4,201.7 515.0,204.0 515.6,208.2 516.2,208.8 516.8,209.6 517.4,207.5 518.0,210.1 518.6,209.0 519.2,207.9 519.8,206.4 520.4,206.4 521.0,202.3 521.6,202.3 522.2,198.4 522.8,195.8 523.4,193.7 524.0,191.9 524.6,187.7 525.2,192.2 525.8,196.2 526.4,194.2 527.0,195.4 527.6,196.4 528.2,200.1 528.8,202.6 529.4,201.1 530.0,200.8 530.6,201.1 531.2,200.3 531.8,204.4 532.4,203.6 533.0,205.6 533.6,207.3 534.2,205.9 534.8,208.7 535.4,208.5 536.0,207.4 536.6,205.0 537.2,203.7 537.8,201.9 538.4,201.7 539.0,203.4 539.6,204.1 540.2,205.0 540.8,207.8 541.4,206.9 542.0,207.2 542.6,205.7 543.2,199.8 543.8,189.6 544.4,187.4 545.0,193.8 545.6,196.5 546.2,196.7 546.8,199.3 547.4,198.2 548.0,199.8 548.6,202.0 549.2,203.7 549.8,206.6 550.4,207.2 551.0,208.4 551.6,207.1 552.2,205.3 552.8,206.3 553.4,205.3 554.0,205.2 554.6,200.8 555.2,199.6 555.8,195.1 556.4,182.1 557.0,169.7 557.6,165.9 558.2,175.8 558.8,188.0 559.4,194.1 560.0,188.2 560.6,182.7 561.2,179.4 561.8,181.9 562.4,179.2 563.0,185.2 563.6,193.6 564.2,198.0 564.8,202.3 565.4,202.7 566.0,204.5 566.6,207.6 567.2,206.5 567.8,207.3 568.4,205.6 569.0,207.6 569.6,206.5 570.2,206.7 570.8,204.1 571.4,204.2 572.0,203.0 572.6,200.8 573.2,201.8 573.8,200.5 574.4,197.4 575.0,198.7 575.6,198.6 576.2,199.8 576.8,190.3 577.4,181.1 578.0,174.4 578.6,180.1 579.2,187.3 579.8,180.4 580.4,181.0 581.0,185.1 581.6,187.3 582.2,194.1 582.8,201.5 583.4,201.8 584.0,205.8 584.6,204.8 585.2,201.8 585.8,202.3 586.4,200.3 587.0,200.2 587.6,199.6 588.2,199.2 588.8,196.7 589.4,193.0 590.0,184.8 590.6,184.6 591.2,189.1 591.8,196.2 592.4,198.1 593.0,204.3 593.6,203.7 594.2,206.2 594.8,205.6 595.4,206.8 596.0,206.0 596.6,202.0 597.2,202.1 597.8,203.1 598.4,203.2 599.0,203.7 599.6,203.8 600.2,203.6 600.5,203.0" fill="none" stroke="#66cc00" stroke-width="1.80" stroke-linejoin="round" stroke-linecap="round"/>
<polygon points="57.2,284.0 69.2,284.0 70.4,281.0 71.5,272.0 72.5,266.3 73.3,272.0 74.0,267.5 74.8,276.5 75.7,283.2 77.5,283.7 80.5,284.0 88.7,284.0 90.2,281.0 91.7,279.5 93.2,280.2 94.7,283.2 97.0,284.0 104.5,284.0 105.7,279.5 106.7,275.0 107.8,278.0 108.7,283.2 110.5,284.0 123.2,284.0 124.7,279.5 125.9,275.7 127.0,272.7 127.7,278.7 128.5,283.2 130.0,284.0 139.0,284.0 140.2,279.5 141.2,275.0 142.3,270.5 143.2,268.7 144.1,275.0 145.0,282.5 146.5,284.0 155.0,284.0 158.2,284.0 159.7,282.5 160.8,280.2 161.7,283.2 163.5,282.8 165.0,284.0 174.0,284.0 175.2,283.2 176.2,284.0 207.0,284.0 208.5,279.5 209.5,264.5 210.4,251.0 211.2,244.2 211.9,260.0 212.7,258.5 213.4,272.0 214.2,278.0 215.2,282.5 216.7,283.7 223.5,283.7 225.0,279.5 226.2,272.0 227.2,270.5 228.3,261.5 229.2,257.0 229.9,247.2 230.7,263.0 231.3,247.2 231.9,266.0 232.5,278.0 233.7,282.5 235.5,283.7 242.2,283.7 243.7,276.5 244.8,269.0 246.0,261.5 246.7,270.5 247.5,264.5 248.7,260.0 250.0,255.5 250.5,272.0 251.3,279.5 252.5,283.2 254.0,283.7 259.2,283.7 260.4,279.5 261.5,266.0 262.5,255.5 263.4,260.0 264.2,267.5 264.9,264.5 265.7,272.0 266.3,266.0 267.0,281.0 268.2,283.7 277.2,283.7 278.3,281.0 279.5,276.5 280.7,275.0 281.7,266.0 282.5,263.0 283.2,266.0 284.0,275.0 284.7,281.0 286.2,281.7 287.3,283.7 294.5,283.7 295.7,278.0 296.7,269.0 297.8,268.2 298.7,275.0 299.6,270.5 300.5,257.0 301.4,256.2 302.3,276.5 303.2,283.2 305.0,283.7 305.7,283.7 306.2,277.2 306.8,283.7 311.0,283.7 311.9,272.0 312.8,249.5 313.5,230.7 314.4,236.0 315.2,233.7 315.9,240.5 316.7,233.7 317.4,234.5 318.2,264.5 318.9,281.0 320.0,283.7 329.7,283.7 330.8,276.5 331.7,269.7 332.6,272.0 333.5,281.0 334.7,276.5 335.6,283.2 337.2,283.7 345.0,283.7 346.0,283.7 347.2,278.0 348.2,270.5 349.3,267.5 350.2,266.7 350.9,272.0 351.7,269.7 352.4,276.5 353.2,282.5 354.2,283.7 364.0,283.7 364.7,278.0 365.8,275.0 366.7,276.5 367.7,278.7 368.8,281.0 370.0,283.2 372.2,283.7 380.5,283.7 381.7,279.5 382.7,275.7 383.8,276.5 384.7,281.0 385.7,283.2 388.0,283.7 397.7,283.7 398.8,278.0 400.0,272.0 401.0,268.2 401.9,267.5 402.7,273.5 403.6,279.5 404.8,283.2 406.7,283.7 413.5,283.7 414.5,281.0 415.7,280.2 417.2,281.7 418.7,280.2 420.2,281.7 421.7,283.7 433.0,283.7 434.0,278.0 435.1,271.2 436.0,276.5 436.7,279.5 437.8,275.0 438.7,278.0 440.0,281.0 441.0,283.7 450.0,283.7 450.7,278.0 451.5,263.7 452.2,263.0 453.0,272.0 453.7,278.0 454.8,281.7 456.7,283.2 459.0,283.7 467.2,283.7 468.3,278.0 469.2,267.5 469.9,263.0 470.7,269.0 471.4,275.0 472.5,279.5 474.0,281.7 476.2,283.7 485.2,283.7 486.3,280.2 487.5,278.0 489.0,278.7 490.2,277.2 491.2,278.7 492.3,282.5 494.2,283.7 502.5,283.7 504.0,282.5 507.0,282.8 510.0,283.2 513.0,283.7 519.0,283.7 520.0,279.5 520.9,275.0 522.3,274.2 523.5,273.5 524.5,278.0 525.4,282.5 527.2,283.7 535.0,283.7 536.0,283.7 537.2,280.2 538.2,278.7 539.3,281.7 540.5,280.2 542.0,282.5 544.2,283.7 554.0,283.7 555.2,278.0 556.2,270.5 557.3,267.5 558.2,266.0 559.1,273.5 560.0,278.0 561.0,281.7 562.2,283.7 564.5,283.7 565.5,281.0 566.7,283.7 570.5,283.7 571.7,279.5 572.7,272.0 573.8,270.5 574.7,263.0 575.6,264.5 576.5,275.0 577.7,281.0 579.2,283.2 581.7,283.7 587.7,283.7 589.2,281.0 590.7,278.7 591.9,276.5 593.0,279.5 594.5,282.5 596.7,283.7 600.5,283.7 600.5,284 57.2,284" fill="#d4145a" fill-opacity="0.5" stroke="none"/>
<polyline points="57.2,284.0 58.0,283.8 58.8,284.0 59.6,284.0 60.4,284.0 61.2,284.0 62.0,284.0 62.8,284.0 63.6,283.7 64.4,283.6 65.2,284.0 66.0,284.0 66.8,283.7 67.6,283.6 68.4,284.0 69.2,283.6 70.0,281.9 70.8,277.7 71.6,271.4 72.4,266.6 73.2,271.7 74.0,267.9 74.8,276.9 75.6,282.9 76.4,283.6 77.2,283.6 78.0,283.7 78.8,283.8 79.6,283.8 80.4,284.0 81.2,283.7 82.0,284.0 82.8,283.9 83.6,284.0 84.4,283.8 85.2,283.9 86.0,284.0 86.8,284.0 87.6,284.0 88.4,283.8 89.2,283.2 90.0,281.2 90.8,280.7 91.6,279.6 92.4,279.7 93.2,280.0 94.0,281.9 94.8,283.6 95.6,283.5 96.4,284.0 97.2,284.0 98.0,284.0 98.8,284.0 99.6,283.8 100.4,283.6 101.2,283.7 102.0,283.7 102.8,284.0 103.6,284.0 104.4,284.0 105.2,281.1 106.0,278.1 106.8,275.5 107.6,277.9 108.4,282.0 109.2,283.1 110.0,283.4 110.8,283.7 111.6,283.7 112.4,284.0 113.2,284.0 114.0,283.6 114.8,284.0 115.6,284.0 116.4,283.9 117.2,284.0 118.0,284.0 118.8,283.6 119.6,284.0 120.4,283.6 121.2,284.0 122.0,284.0 122.8,284.0 123.6,282.4 124.4,280.6 125.2,277.7 126.0,275.7 126.8,272.7 127.6,278.1 128.4,283.0 129.2,283.8 130.0,283.9 130.8,284.0 131.6,284.0 132.4,283.7 133.2,283.6 134.0,283.6 134.8,284.0 135.6,283.8 136.4,284.0 137.2,283.6 138.0,284.0 138.8,284.0 139.6,281.4 140.4,278.2 141.2,274.4 142.0,271.5 142.8,269.1 143.6,271.8 144.4,277.9 145.2,282.9 146.0,284.0 146.8,283.7 147.6,284.0 148.4,283.9 149.2,283.8 150.0,284.0 150.8,284.0 151.6,284.0 152.4,284.0 153.2,284.0 154.0,284.0 154.8,283.8 155.6,284.0 156.4,283.7 157.2,284.0 158.0,283.6 158.8,283.4 159.6,282.4 160.4,280.9 161.2,281.4 162.0,282.8 162.8,283.3 163.6,283.2 164.4,283.2 165.2,284.0 166.0,283.9 166.8,283.7 167.6,284.0 168.4,283.8 169.2,284.0 170.0,283.7 170.8,284.0 171.6,284.0 172.4,284.0 173.2,283.8 174.0,283.8 174.8,283.7 175.6,283.3 176.4,284.0 177.2,283.9 178.0,284.0 178.8,283.7 179.6,283.9 180.4,283.7 181.2,283.9 182.0,283.6 182.8,283.7 183.6,284.0 184.4,284.0 185.2,284.0 186.0,283.6 186.8,283.8 187.6,284.0 188.4,284.0 189.2,284.0 190.0,283.6 190.8,283.7 191.6,284.0 192.4,283.6 193.2,284.0 194.0,283.6 194.8,284.0 195.6,284.0 196.4,284.0 197.2,284.0 198.0,284.0 198.8,283.8 199.6,284.0 200.4,283.6 201.2,283.9 202.0,284.0 202.8,284.0 203.6,284.0 204.4,284.0 205.2,283.7 206.0,284.0 206.8,284.0 207.6,281.8 208.4,279.5 209.2,268.1 210.0,256.8 210.8,247.5 211.6,254.0 212.4,258.6 213.2,269.3 214.0,277.0 214.8,280.7 215.6,283.1 216.4,283.2 217.2,283.3 218.0,283.7 218.8,283.7 219.6,283.8 220.4,283.7 221.2,283.4 222.0,283.7 222.8,283.3 223.6,283.1 224.4,281.1 225.2,278.0 226.0,272.8 226.8,270.9 227.6,267.1 228.4,260.3 229.2,255.7 230.0,250.4 230.8,258.1 231.6,259.2 232.4,278.2 233.2,281.0 234.0,282.5 234.8,283.3 235.6,283.3 236.4,283.9 237.2,283.5 238.0,283.3 238.8,283.3 239.6,283.9 240.4,284.0 241.2,283.5 242.0,283.5 242.8,280.7 243.6,276.4 244.4,271.5 245.2,265.5 246.0,262.4 246.8,269.3 247.6,264.1 248.4,261.1 249.2,258.2 250.0,257.2 250.8,274.7 251.6,280.3 252.4,283.4 253.2,283.1 254.0,283.7 254.8,283.6 255.6,283.5 256.4,283.9 257.2,284.0 258.0,283.6 258.8,283.4 259.6,282.3 260.4,279.6 261.2,268.8 262.0,260.1 262.8,256.8 263.6,262.0 264.4,266.5 265.2,267.2 266.0,268.1 266.8,277.1 267.6,282.6 268.4,283.5 269.2,283.9 270.0,283.9 270.8,283.4 271.6,283.9 272.4,283.5 273.2,283.8 274.0,283.6 274.8,284.0 275.6,283.6 276.4,283.5 277.2,283.7 278.0,281.9 278.8,278.8 279.6,276.1 280.4,275.0 281.2,269.9 282.0,264.9 282.8,264.6 283.6,271.2 284.4,278.5 285.2,281.3 286.0,281.7 286.8,282.9 287.6,283.3 288.4,283.5 289.2,283.5 290.0,283.4 290.8,283.6 291.6,283.3 292.4,283.6 293.2,283.9 294.0,284.0 294.8,281.8 295.6,278.3 296.4,271.0 297.2,268.7 298.0,270.0 298.8,273.8 299.6,269.1 300.4,257.1 301.2,256.3 302.0,271.6 302.8,281.2 303.6,283.5 304.4,283.3 305.2,283.9 306.0,279.0 306.8,283.5 307.6,283.7 308.4,283.6 309.2,283.4 310.0,283.8 310.8,283.4 311.6,275.1 312.4,257.0 313.2,237.3 314.0,233.6 314.8,235.0 315.6,237.8 316.4,236.0 317.2,234.3 318.0,259.8 318.8,279.3 319.6,282.6 320.4,283.7 321.2,283.7 322.0,283.6 322.8,283.4 323.6,283.7 324.4,283.3 325.2,283.5 326.0,283.4 326.8,283.9 327.6,283.4 328.4,283.6 329.2,283.7 330.0,281.1 330.8,275.6 331.6,270.1 332.4,271.8 333.2,279.3 334.0,279.0 334.8,278.0 335.6,283.5 336.4,283.5 337.2,283.5 338.0,283.3 338.8,283.5 339.6,284.0 340.4,283.4 341.2,283.4 342.0,284.0 342.8,283.4 343.6,283.6 344.4,283.9 345.2,283.8 346.0,283.3 346.8,280.0 347.6,274.5 348.4,269.8 349.2,268.0 350.0,267.2 350.8,271.7 351.6,270.1 352.4,276.4 353.2,282.8 354.0,283.5 354.8,283.7 355.6,283.6 356.4,283.7 357.2,283.3 358.0,283.9 358.8,283.9 359.6,283.5 360.4,284.0 361.2,283.9 362.0,283.4 362.8,283.6 363.6,283.8 364.4,280.2 365.2,276.1 366.0,275.7 366.8,276.9 367.6,278.3 368.4,280.3 369.2,282.1 370.0,283.4 370.8,283.7 371.6,283.6 372.4,284.0 373.2,283.8 374.0,283.9 374.8,283.7 375.6,283.5 376.4,284.0 377.2,283.7 378.0,283.4 378.8,283.3 379.6,283.5 380.4,284.0 381.2,281.3 382.0,278.4 382.8,276.0 383.6,276.5 384.4,279.9 385.2,282.4 386.0,283.2 386.8,283.3 387.6,283.9 388.4,284.0 389.2,283.6 390.0,283.3 390.8,284.0 391.6,283.9 392.4,283.9 393.2,283.8 394.0,283.6 394.8,283.6 395.6,283.8 396.4,283.8 397.2,283.6 398.0,282.0 398.8,277.8 399.6,273.8 400.4,269.9 401.2,268.2 402.0,268.9 402.8,274.5 403.6,279.5 404.4,282.6 405.2,283.4 406.0,283.4 406.8,283.9 407.6,283.4 408.4,283.5 409.2,283.4 410.0,283.8 410.8,283.7 411.6,283.5 412.4,283.7 413.2,283.7 414.0,282.1 414.8,280.6 415.6,280.6 416.4,281.0 417.2,281.3 418.0,281.1 418.8,280.7 419.6,281.0 420.4,281.9 421.2,282.8 422.0,283.3 422.8,283.3 423.6,284.0 424.4,284.0 425.2,283.3 426.0,283.9 426.8,283.8 427.6,284.0 428.4,284.0 429.2,283.8 430.0,283.3 430.8,283.5 431.6,283.4 432.4,283.7 433.2,281.7 434.0,277.9 434.8,272.9 435.6,274.8 436.4,278.2 437.2,277.2 438.0,275.7 438.8,278.5 439.6,280.1 440.4,281.9 441.2,283.5 442.0,283.6 442.8,283.9 443.6,284.0 444.4,283.8 445.2,283.8 446.0,283.8 446.8,283.5 447.6,283.9 448.4,283.4 449.2,283.7 450.0,283.2 450.8,276.2 451.6,263.8 452.4,265.1 453.2,273.8 454.0,279.4 454.8,281.6 455.6,282.1 456.4,282.7 457.2,283.1 458.0,283.4 458.8,283.9 459.6,283.4 460.4,284.0 461.2,283.4 462.0,284.0 462.8,283.3 463.6,283.6 464.4,283.6 465.2,283.8 466.0,283.9 466.8,284.0 467.6,281.4 468.4,276.0 469.2,267.4 470.0,264.3 470.8,270.3 471.6,275.7 472.4,279.1 473.2,280.5 474.0,281.9 474.8,282.7 475.6,283.0 476.4,283.8 477.2,283.5 478.0,283.4 478.8,283.7 479.6,284.0 480.4,283.7 481.2,283.9 482.0,283.5 482.8,283.9 483.6,284.0 484.4,283.8 485.2,283.9 486.0,281.3 486.8,278.8 487.6,278.4 488.4,278.7 489.2,278.3 490.0,277.4 490.8,278.4 491.6,280.1 492.4,282.6 493.2,282.8 494.0,283.5 494.8,284.0 495.6,283.3 496.4,283.7 497.2,283.7 498.0,283.6 498.8,283.4 499.6,283.3 500.4,283.9 501.2,283.9 502.0,283.4 502.8,283.0 503.6,282.4 504.4,282.7 505.2,282.8 506.0,282.3 506.8,282.8 507.6,282.6 508.4,283.3 509.2,282.8 510.0,283.5 510.8,283.3 511.6,283.3 512.4,283.8 513.2,283.8 514.0,283.8 514.8,283.8 515.6,283.7 516.4,283.9 517.2,283.5 518.0,283.5 518.8,284.0 519.6,280.7 520.4,277.3 521.2,275.0 522.0,274.0 522.8,273.7 523.6,274.4 524.4,277.8 525.2,281.7 526.0,282.9 526.8,283.4 527.6,283.3 528.4,283.8 529.2,284.0 530.0,283.7 530.8,283.7 531.6,283.8 532.4,283.7 533.2,283.7 534.0,283.7 534.8,283.3 535.6,283.7 536.4,282.0 537.2,279.9 538.0,279.2 538.8,280.8 539.6,280.9 540.4,280.5 541.2,281.5 542.0,282.3 542.8,282.7 543.6,283.2 544.4,283.6 545.2,283.4 546.0,283.4 546.8,283.6 547.6,283.8 548.4,283.6 549.2,283.6 550.0,283.5 550.8,283.7 551.6,283.5 552.4,283.4 553.2,283.8 554.0,283.1 554.8,279.2 555.6,274.5 556.4,269.9 557.2,267.8 558.0,266.2 558.8,271.9 559.6,276.4 560.4,279.3 561.2,281.8 562.0,283.5 562.8,283.9 563.6,283.5 564.4,284.0 565.2,282.0 566.0,282.2 566.8,283.3 567.6,283.7 568.4,284.0 569.2,283.6 570.0,283.8 570.8,282.1 571.6,279.6 572.4,274.1 573.2,271.2 574.0,268.3 574.8,263.5 575.6,265.2 576.4,274.3 577.2,278.7 578.0,281.5 578.8,282.4 579.6,283.2 580.4,283.3 581.2,283.7 582.0,283.7 582.8,283.5 583.6,283.9 584.4,283.8 585.2,283.8 586.0,284.0 586.8,283.5 587.6,283.3 588.4,282.2 589.2,281.1 590.0,280.1 590.8,278.3 591.6,277.2 592.4,277.6 593.2,280.4 594.0,281.4 594.8,282.5 595.6,283.5 596.4,283.1 597.2,283.9 598.0,283.7 598.8,283.4 599.6,283.4 600.4,283.4 600.5,283.7" fill="none" stroke="#d4145a" stroke-width="1.80" stroke-linejoin="round" stroke-linecap="round"/>
<polyline points="57.2,284.0 57.9,283.4 58.6,283.4 59.3,283.8 60.0,283.2 60.7,283.7 61.4,282.8 62.1,283.4 62.8,283.6 63.5,283.4 64.2,283.6 64.9,284.0 65.6,283.5 66.3,283.7 67.0,283.6 67.7,284.0 68.4,284.0 69.1,283.2 69.8,283.6 70.5,282.8 71.2,283.2 71.9,282.1 72.6,281.2 73.3,278.5 74.0,278.4 74.7,277.4 75.4,275.2 76.1,274.3 76.8,273.4 77.5,276.6 78.2,266.3 78.9,271.3 79.6,279.7 80.3,281.4 81.0,283.4 81.7,282.7 82.4,283.3 83.1,283.0 83.8,284.0 84.5,283.8 85.2,283.2 85.9,283.8 86.6,283.8 87.3,282.7 88.0,282.3 88.7,281.7 89.4,279.6 90.1,276.8 90.8,274.8 91.5,275.1 92.2,273.8 92.9,273.1 93.6,269.9 94.3,270.2 95.0,272.8 95.7,277.6 96.4,280.1 97.1,281.6 97.8,282.8 98.5,283.4 99.2,283.3 99.9,283.7 100.6,283.3 101.3,283.4 102.0,283.0 102.7,283.0 103.4,283.4 104.1,282.7 104.8,283.7 105.5,283.0 106.2,280.5 106.9,279.2 107.6,276.8 108.3,275.2 109.0,273.2 109.7,271.6 110.4,270.3 111.1,268.9 111.8,267.6 112.5,269.7 113.2,271.6 113.9,274.0 114.6,277.1 115.3,279.4 116.0,280.4 116.7,282.4 117.4,282.9 118.1,282.3 118.8,282.8 119.5,282.9 120.2,284.0 120.9,282.9 121.6,283.5 122.3,283.0 123.0,283.7 123.7,283.1 124.4,282.1 125.1,282.1 125.8,280.4 126.5,279.8 127.2,278.2 127.9,280.4 128.6,281.6 129.3,281.4 130.0,281.6 130.7,281.2 131.4,282.7 132.1,283.9 132.8,283.1 133.5,283.7 134.2,283.5 134.9,284.0 135.6,284.0 136.3,283.8 137.0,283.0 137.7,284.0 138.4,284.0 139.1,283.2 139.8,283.7 140.5,282.7 141.2,282.0 141.9,280.8 142.6,280.7 143.3,279.7 144.0,280.5 144.7,281.7 145.4,283.1 146.1,283.2 146.8,284.0 147.5,283.8 148.2,283.0 148.9,283.4 149.6,284.0 150.3,283.5 151.0,283.3 151.7,283.4 152.4,284.0 153.1,283.0 153.8,283.1 154.5,283.7 155.2,283.5 155.9,283.8 156.6,284.0 157.3,283.4 158.0,283.9 158.7,284.0 159.4,282.9 160.1,282.6 160.8,281.4 161.5,282.9 162.2,283.1 162.9,282.8 163.6,282.6 164.3,283.9 165.0,284.0 165.7,284.0 166.4,284.0 167.1,284.0 167.8,283.8 168.5,283.3 169.2,283.6 169.9,284.0 170.6,283.9 171.3,284.0 172.0,284.0 172.7,284.0 173.4,283.7 174.1,283.8 174.8,283.7 175.5,283.3 176.2,283.3 176.9,283.4 177.6,283.4 178.3,284.0 179.0,284.0 179.7,283.8 180.4,284.0 181.1,284.0 181.8,284.0 182.5,283.6 183.2,284.0 183.9,283.4 184.6,283.7 185.3,284.0 186.0,284.0 186.7,283.8 187.4,283.9 188.1,283.3 188.8,284.0 189.5,284.0 190.2,283.1 190.9,283.4 191.6,284.0 192.3,284.0 193.0,283.3 193.7,283.9 194.4,283.9 195.1,284.0 195.8,284.0 196.5,283.5 197.2,283.2 197.9,284.0 198.6,283.6 199.3,283.8 200.0,283.2 200.7,284.0 201.4,284.0 202.1,283.2 202.8,283.7 203.5,284.0 204.2,283.3 204.9,284.0 205.6,283.8 206.3,283.4 207.0,284.0 207.7,283.7 208.4,283.1 209.1,282.7 209.8,281.7 210.5,280.6 211.2,280.7 211.9,279.6 212.6,279.7 213.3,278.4 214.0,280.9 214.7,282.3 215.4,282.9 216.1,282.6 216.8,283.7 217.5,283.0 218.2,283.0 218.9,282.9 219.6,282.5 220.3,282.6 221.0,282.2 221.7,282.4 222.4,282.8 223.1,282.9 223.8,283.3 224.5,284.0 225.2,282.9 225.9,282.9 226.6,282.8 227.3,283.2 228.0,283.0 228.7,282.0 229.4,281.3 230.1,280.5 230.8,278.8 231.5,280.3 232.2,281.3 232.9,281.9 233.6,280.9 234.3,282.6 235.0,282.0 235.7,283.3 236.4,283.8 237.1,283.0 237.8,284.0 238.5,282.9 239.2,283.6 239.9,283.0 240.6,284.0 241.3,283.0 242.0,283.9 242.7,283.4 243.4,283.6 244.1,282.4 244.8,283.3 245.5,282.6 246.2,280.2 246.9,279.2 247.6,277.8 248.3,275.5 249.0,274.2 249.7,272.5 250.4,272.2 251.1,273.9 251.8,274.9 252.5,273.7 253.2,277.4 253.9,280.3 254.6,282.6 255.3,282.2 256.0,282.5 256.7,284.0 257.4,284.0 258.1,283.9 258.8,283.0 259.5,284.0 260.2,283.3 260.9,281.7 261.6,279.3 262.3,275.6 263.0,272.2 263.7,270.1 264.4,271.3 265.1,275.5 265.8,279.2 266.5,282.6 267.2,282.9 267.9,283.1 268.6,282.8 269.3,281.5 270.0,282.4 270.7,282.7 271.4,283.3 272.1,283.5 272.8,283.6 273.5,284.0 274.2,283.2 274.9,283.0 275.6,283.5 276.3,283.7 277.0,284.0 277.7,283.9 278.4,284.0 279.1,283.2 279.8,283.8 280.5,283.5 281.2,282.9 281.9,282.2 282.6,281.3 283.3,282.3 284.0,281.4 284.7,281.7 285.4,281.5 286.1,282.0 286.8,282.8 287.5,282.4 288.2,283.9 288.9,283.3 289.6,283.9 290.3,283.9 291.0,283.7 291.7,283.4 292.4,284.0 293.1,283.2 293.8,283.3 294.5,283.3 295.2,283.5 295.9,283.2 296.6,284.0 297.3,283.6 298.0,283.7 298.7,283.7 299.4,282.3 300.1,282.1 300.8,282.6 301.5,282.6 302.2,282.6 302.9,282.4 303.6,283.6 304.3,282.8 305.0,283.1 305.7,283.3 306.4,283.1 307.1,284.0 307.8,283.7 308.5,283.0 309.2,283.2 309.9,284.0 310.6,284.0 311.3,283.6 312.0,281.9 312.7,280.2 313.4,277.7 314.1,275.7 314.8,272.5 315.5,271.0 316.2,270.5 316.9,270.3 317.6,274.0 318.3,279.1 319.0,282.2 319.7,282.8 320.4,283.7 321.1,283.7 321.8,283.1 322.5,283.7 323.2,283.4 323.9,283.2 324.6,284.0 325.3,283.2 326.0,283.7 326.7,283.9 327.4,283.5 328.1,283.5 328.8,284.0 329.5,283.1 330.2,282.2 330.9,280.1 331.6,277.4 332.3,274.7 333.0,276.8 333.7,278.5 334.4,278.0 335.1,280.2 335.8,282.5 336.5,282.3 337.2,283.8 337.9,283.3 338.6,282.6 339.3,283.9 340.0,283.6 340.7,283.3 341.4,282.9 342.1,283.1 342.8,284.0 343.5,283.7 344.2,283.8 344.9,283.8 345.6,283.6 346.3,283.2 347.0,284.0 347.7,282.6 348.4,282.3 349.1,279.8 349.8,278.3 350.5,276.2 351.2,274.3 351.9,274.1 352.6,274.7 353.3,275.9 354.0,279.7 354.7,283.9 355.4,283.1 356.1,284.0 356.8,284.0 357.5,284.0 358.2,283.9 358.9,283.8 359.6,284.0 360.3,283.7 361.0,284.0 361.7,283.7 362.4,283.4 363.1,283.9 363.8,281.7 364.5,280.6 365.2,277.2 365.9,275.2 366.6,272.8 367.3,273.1 368.0,276.9 368.7,275.3 369.4,275.8 370.1,277.6 370.8,279.8 371.5,281.8 372.2,283.4 372.9,282.7 373.6,283.0 374.3,283.9 375.0,284.0 375.7,283.8 376.4,284.0 377.1,283.1 377.8,283.2 378.5,283.5 379.2,284.0 379.9,283.9 380.6,283.4 381.3,283.1 382.0,282.0 382.7,281.2 383.4,279.4 384.1,275.8 384.8,270.8 385.5,267.6 386.2,266.1 386.9,266.4 387.6,264.1 388.3,261.5 389.0,258.9 389.7,264.9 390.4,269.8 391.1,275.3 391.8,278.2 392.5,280.7 393.2,281.6 393.9,283.5 394.6,284.0 395.3,283.6 396.0,283.8 396.7,284.0 397.4,283.2 398.1,283.0 398.8,282.1 399.5,280.9 400.2,278.1 400.9,275.5 401.6,275.1 402.3,275.3 403.0,277.4 403.7,279.8 404.4,279.9 405.1,280.2 405.8,281.0 406.5,279.8 407.2,279.0 407.9,278.3 408.6,278.7 409.3,281.7 410.0,282.9 410.7,282.8 411.4,283.3 412.1,284.0 412.8,283.1 413.5,283.4 414.2,283.1 414.9,283.1 415.6,282.5 416.3,280.9 417.0,278.3 417.7,276.5 418.4,272.6 419.1,271.3 419.8,275.2 420.5,273.6 421.2,271.1 421.9,267.5 422.6,270.6 423.3,268.7 424.0,266.1 424.7,269.8 425.4,274.0 426.1,276.8 426.8,280.3 427.5,281.0 428.2,282.7 428.9,283.4 429.6,283.5 430.3,283.3 431.0,284.0 431.7,283.9 432.4,283.3 433.1,282.6 433.8,283.0 434.5,282.2 435.2,281.3 435.9,280.6 436.6,279.6 437.3,277.8 438.0,274.9 438.7,275.5 439.4,275.9 440.1,280.0 440.8,283.6 441.5,283.5 442.2,284.0 442.9,284.0 443.6,283.8 444.3,283.3 445.0,283.3 445.7,284.0 446.4,284.0 447.1,283.6 447.8,283.4 448.5,284.0 449.2,283.1 449.9,284.0 450.6,281.0 451.3,279.1 452.0,273.1 452.7,267.1 453.4,262.2 454.1,260.8 454.8,262.2 455.5,266.6 456.2,265.5 456.9,263.0 457.6,261.7 458.3,265.7 459.0,269.1 459.7,272.0 460.4,275.9 461.1,279.7 461.8,281.7 462.5,283.2 463.2,283.2 463.9,284.0 464.6,284.0 465.3,283.6 466.0,283.3 466.7,283.1 467.4,283.1 468.1,280.9 468.8,279.5 469.5,275.8 470.2,271.6 470.9,268.5 471.6,266.4 472.3,264.3 473.0,262.8 473.7,261.8 474.4,261.9 475.1,264.5 475.8,268.2 476.5,272.4 477.2,276.6 477.9,279.3 478.6,281.2 479.3,282.4 480.0,283.5 480.7,282.8 481.4,283.0 482.1,283.7 482.8,283.2 483.5,284.0 484.2,283.7 484.9,281.5 485.6,277.6 486.3,272.7 487.0,269.0 487.7,266.6 488.4,264.7 489.1,268.9 489.8,269.7 490.5,272.3 491.2,274.0 491.9,272.9 492.6,276.9 493.3,279.6 494.0,281.7 494.7,283.5 495.4,284.0 496.1,283.1 496.8,283.2 497.5,284.0 498.2,283.3 498.9,283.8 499.6,283.2 500.3,283.8 501.0,283.1 501.7,283.1 502.4,279.0 503.1,275.4 503.8,271.1 504.5,269.2 505.2,266.1 505.9,263.5 506.6,261.9 507.3,264.5 508.0,265.2 508.7,265.1 509.4,269.0 510.1,269.3 510.8,268.5 511.5,274.0 512.2,276.2 512.9,279.5 513.6,282.1 514.3,282.6 515.0,282.9 515.7,284.0 516.4,283.2 517.1,283.4 517.8,284.0 518.5,283.1 519.2,283.7 519.9,283.1 520.6,281.5 521.3,280.9 522.0,280.0 522.7,279.2 523.4,278.6 524.1,277.9 524.8,265.7 525.5,254.5 526.2,242.9 526.9,233.6 527.6,237.5 528.3,246.1 529.0,258.5 529.7,273.3 530.4,280.2 531.1,283.8 531.8,283.1 532.5,283.6 533.2,283.2 533.9,283.3 534.6,283.5 535.3,283.4 536.0,284.0 536.7,282.2 537.4,280.8 538.1,275.8 538.8,267.7 539.5,259.2 540.2,270.1 540.9,271.4 541.6,270.6 542.3,267.9 543.0,270.8 543.7,272.7 544.4,274.3 545.1,271.8 545.8,275.9 546.5,280.0 547.2,282.4 547.9,283.3 548.6,284.0 549.3,283.9 550.0,284.0 550.7,283.3 551.4,283.2 552.1,284.0 552.8,283.8 553.5,283.4 554.2,283.0 554.9,283.2 555.6,282.8 556.3,280.7 557.0,279.0 557.7,276.8 558.4,277.9 559.1,279.8 559.8,279.4 560.5,279.8 561.2,281.1 561.9,282.5 562.6,283.0 563.3,283.8 564.0,283.7 564.7,283.6 565.4,283.5 566.1,283.0 566.8,284.0 567.5,284.0 568.2,283.6 568.9,283.5 569.6,283.7 570.3,284.0 571.0,283.3 571.7,282.6 572.4,282.7 573.1,280.6 573.8,278.9 574.5,277.1 575.2,272.5 575.9,263.1 576.6,256.6 577.3,254.7 578.0,266.3 578.7,262.1 579.4,265.1 580.1,270.7 580.8,275.0 581.5,278.3 582.2,280.0 582.9,281.7 583.6,282.2 584.3,282.9 585.0,283.0 585.7,283.9 586.4,283.9 587.1,284.0 587.8,282.9 588.5,279.6 589.2,272.6 589.9,270.3 590.6,272.5 591.3,267.3 592.0,265.2 592.7,269.5 593.4,274.5 594.1,276.2 594.8,276.7 595.5,277.9 596.2,279.4 596.9,279.6 597.6,281.1 598.3,281.3 599.0,282.6 599.7,283.1 600.4,283.9 600.5,283.7" fill="none" stroke="#169c54" stroke-width="2.00" stroke-linejoin="round" stroke-linecap="round"/>
<path d="M57.2,61.4 L57.7,68.1M57.7,68.1 L58.2,59.3M58.2,59.3 L58.7,65.5M58.7,65.5 L59.2,57.2M59.2,57.2 L59.7,64.7M63.7,68.6 L64.2,60.4M64.2,60.4 L64.7,67.3M64.7,67.3 L65.2,52.8M80.2,59.8 L80.7,68.7M80.7,68.7 L81.2,58.9M86.7,62.1 L87.2,43.7M87.2,43.7 L87.7,63.0M87.7,63.0 L88.2,49.5M88.2,49.5 L88.7,57.3M88.7,57.3 L89.2,42.8M89.2,42.8 L89.7,54.4M99.7,67.8 L100.2,60.2M100.2,60.2 L100.7,67.6M110.7,65.0 L111.2,53.7M192.0,45.7 L192.5,55.4M192.5,55.4 L193.0,43.9M193.0,43.9 L193.5,61.1M193.5,61.1 L194.0,45.4M220.2,45.6 L220.7,58.1M226.7,58.0 L227.2,46.1M227.2,46.1 L227.7,62.0M227.7,62.0 L228.2,50.3M228.2,50.3 L228.7,60.9M228.7,60.9 L229.2,51.4M237.2,60.5 L237.7,67.3M247.2,44.3 L247.7,58.7M247.7,58.7 L248.2,48.4M248.2,48.4 L248.7,59.2M248.7,59.2 L249.2,49.6M249.2,49.6 L249.7,59.4M272.0,49.6 L272.5,60.5M272.5,60.5 L273.0,43.3M273.0,43.3 L273.5,58.6M273.5,58.6 L274.0,36.2M276.0,32.8 L276.5,57.6M276.5,57.6 L277.0,34.0M281.0,34.7 L281.5,56.8M281.5,56.8 L282.0,44.6M291.5,57.0 L292.0,44.9M292.0,44.9 L292.5,54.4M292.5,54.4 L293.0,42.0M293.0,42.0 L293.5,54.6M293.5,54.6 L294.0,39.9" fill="none" stroke="#22ff00" stroke-width="1.70" stroke-linecap="round"/>
<path d="M59.7,64.7 L60.2,56.6M124.7,64.6 L125.2,56.3M125.2,56.3 L125.7,64.7M125.7,64.7 L126.2,56.8M126.2,56.8 L126.7,65.6M126.7,65.6 L127.2,57.5M127.2,57.5 L127.7,67.2M127.7,67.2 L128.2,59.6M133.7,66.1 L134.2,60.5M176.5,67.5 L177.0,56.2M177.0,56.2 L177.5,67.6M283.0,53.8 L283.5,65.4M283.5,65.4 L284.0,59.8M284.0,59.8 L284.5,67.5M331.5,64.8 L332.0,56.9M332.0,56.9 L332.5,67.7M332.5,67.7 L333.0,57.7" fill="none" stroke="#0000ff" stroke-width="1.70" stroke-linecap="round"/>
<path d="M60.2,56.6 L60.7,67.3M61.7,68.1 L62.2,62.2M62.2,62.2 L62.7,69.0M62.7,69.0 L63.2,62.1M63.2,62.1 L63.7,68.6M123.7,65.0 L124.2,53.0M143.2,48.7 L143.7,60.7M143.7,60.7 L144.2,45.5M144.2,45.5 L144.7,62.4M144.7,62.4 L145.2,46.3M155.0,47.0 L155.5,62.8M155.5,62.8 L156.0,47.2M156.0,47.2 L156.5,65.4M159.0,56.9 L159.5,66.1M159.5,66.1 L160.0,54.7M160.0,54.7 L160.5,66.4M160.5,66.4 L161.0,54.3M189.0,55.4 L189.5,66.8M235.7,69.0 L236.2,63.7M236.2,63.7 L236.7,67.7M236.7,67.7 L237.2,60.5M286.5,67.0 L287.0,61.3M287.0,61.3 L287.5,69.1M287.5,69.1 L288.0,62.0M288.0,62.0 L288.5,67.5M334.0,59.0 L334.5,67.2" fill="none" stroke="#ff2200" stroke-width="1.70" stroke-linecap="round"/>
<path d="M60.7,67.3 L61.2,61.5M124.2,53.0 L124.7,64.6M130.2,58.1 L130.7,65.2M130.7,65.2 L131.2,55.6M131.2,55.6 L131.7,65.4M131.7,65.4 L132.2,54.6M145.2,46.3 L145.7,62.5M145.7,62.5 L146.2,46.0M146.2,46.0 L146.7,53.6M187.5,69.3 L188.0,57.1M188.0,57.1 L188.5,66.5M188.5,66.5 L189.0,55.4M232.7,68.2 L233.2,62.3M233.2,62.3 L233.7,68.2M233.7,68.2 L234.2,62.9M284.5,67.5 L285.0,60.2M285.0,60.2 L285.5,68.7M285.5,68.7 L286.0,60.4M286.0,60.4 L286.5,67.0M288.5,67.5 L289.0,58.0" fill="none" stroke="#9900ff" stroke-width="1.70" stroke-linecap="round"/>
<path d="M61.2,61.5 L61.7,68.1M74.7,66.8 L75.2,60.6M79.2,57.3 L79.7,69.2M79.7,69.2 L80.2,59.8M154.5,62.8 L155.0,47.0M156.5,65.4 L157.0,51.0M231.2,59.6 L231.7,67.4M231.7,67.4 L232.2,61.8M232.2,61.8 L232.7,68.2M234.2,62.9 L234.7,67.9M234.7,67.9 L235.2,63.0M235.2,63.0 L235.7,69.0M333.0,57.7 L333.5,69.0M333.5,69.0 L334.0,59.0" fill="none" stroke="#0044ff" stroke-width="1.70" stroke-linecap="round"/>
<path d="M65.2,52.8 L65.7,60.2M65.7,60.2 L66.2,45.4M66.2,45.4 L66.7,53.7M66.7,53.7 L67.2,38.7M70.2,31.4 L70.7,49.7M70.7,49.7 L71.2,35.4M71.2,35.4 L71.7,51.8M71.7,51.8 L72.2,40.8M72.2,40.8 L72.7,56.3M72.7,56.3 L73.2,49.8M94.2,60.9 L94.7,67.6M94.7,67.6 L95.2,63.0M111.2,53.7 L111.7,66.8M195.0,56.1 L195.5,65.4M219.2,57.2 L219.7,63.3M219.7,63.3 L220.2,45.6M223.7,59.7 L224.2,43.7M224.2,43.7 L224.7,63.9M224.7,63.9 L225.2,43.7M225.2,43.7 L225.7,60.1M237.7,67.3 L238.2,49.8M238.2,49.8 L238.7,62.8M238.7,62.8 L239.2,44.7M239.2,44.7 L239.7,57.2M242.2,37.1 L242.7,54.9M242.7,54.9 L243.2,41.6M243.2,41.6 L243.7,55.7M244.2,42.0 L244.7,58.6M244.7,58.6 L245.2,46.7M245.2,46.7 L245.7,58.0M245.7,58.0 L246.2,40.2M246.2,40.2 L246.7,58.3M246.7,58.3 L247.2,44.3M271.0,55.9 L271.5,63.6M271.5,63.6 L272.0,49.6M294.0,39.9 L294.5,52.4M294.5,52.4 L295.0,37.6M295.0,37.6 L295.5,52.7M295.5,52.7 L296.0,37.1M300.0,42.9 L300.5,58.7M300.5,58.7 L301.0,45.5" fill="none" stroke="#00f030" stroke-width="1.70" stroke-linecap="round"/>
<path d="M67.2,38.7 L67.7,47.8M67.7,47.8 L68.2,32.7M81.2,58.9 L81.7,66.6M81.7,66.6 L82.2,53.1M82.2,53.1 L82.7,60.1M82.7,60.1 L83.2,47.2M93.7,66.9 L94.2,60.9M108.7,60.3 L109.2,52.0M109.2,52.0 L109.7,61.7M109.7,61.7 L110.2,51.9M110.2,51.9 L110.7,65.0M189.5,66.8 L190.0,49.9M190.0,49.9 L190.5,64.4M190.5,64.4 L191.0,45.9M191.0,45.9 L191.5,58.2M194.0,45.4 L194.5,64.1M194.5,64.1 L195.0,56.1M243.7,55.7 L244.2,42.0M247.5,57.4 L248.0,48.1M248.0,48.1 L248.5,62.2M248.5,62.2 L249.0,52.7M249.0,52.7 L249.5,64.8M249.5,64.8 L250.0,57.6M269.5,69.3 L270.0,64.3M270.0,64.3 L270.5,68.5M274.0,36.2 L274.5,53.2M274.5,53.2 L275.0,33.4M275.0,33.4 L275.5,53.5M275.5,53.5 L276.0,32.8M299.0,39.8 L299.5,58.4M299.5,58.4 L300.0,42.9" fill="none" stroke="#00ff22" stroke-width="1.70" stroke-linecap="round"/>
<path d="M68.2,32.7 L68.7,46.3M68.7,46.3 L69.2,30.2M69.2,30.2 L69.7,44.9M83.2,47.2 L83.7,57.4M83.7,57.4 L84.2,44.9M84.2,44.9 L84.7,54.4M89.7,54.4 L90.2,42.2M90.2,42.2 L90.7,57.6M90.7,57.6 L91.2,47.5M91.2,47.5 L91.7,62.5M91.7,62.5 L92.2,52.7M92.2,52.7 L92.7,64.6M92.7,64.6 L93.2,57.0M93.2,57.0 L93.7,66.9M102.7,62.3 L103.2,49.5M103.2,49.5 L103.7,59.8M103.7,59.8 L104.2,47.0M104.2,47.0 L104.7,61.2M104.7,61.2 L105.2,48.4M105.2,48.4 L105.7,58.4M107.2,49.2 L107.7,60.0M107.7,60.0 L108.2,50.4M108.2,50.4 L108.7,60.3M134.2,60.5 L134.7,68.3M137.2,36.9 L137.7,48.5M137.7,48.5 L138.2,35.7M138.2,35.7 L138.7,49.8M138.7,49.8 L139.2,38.3M139.2,38.3 L139.7,61.8M139.7,61.8 L140.2,45.9M140.2,45.9 L140.7,62.1M140.7,62.1 L141.2,48.8M141.2,48.8 L141.7,63.7M141.7,63.7 L142.2,52.6M191.5,58.2 L192.0,45.7M220.7,58.1 L221.2,41.9M221.2,41.9 L221.7,55.4M221.7,55.4 L222.2,41.4M222.2,41.4 L222.7,57.3M222.7,57.3 L223.2,44.7M223.2,44.7 L223.7,59.7M230.7,66.3 L231.2,59.6M239.7,57.2 L240.2,44.0M240.2,44.0 L240.7,57.9M277.0,34.0 L277.5,59.6M277.5,59.6 L278.0,34.6M278.0,34.6 L278.5,57.0M278.5,57.0 L279.0,38.2M289.5,63.9 L290.0,48.9" fill="none" stroke="#33ff11" stroke-width="1.70" stroke-linecap="round"/>
<path d="M69.7,44.9 L70.2,31.4M73.2,49.8 L73.7,63.6M73.7,63.6 L74.2,56.9M74.2,56.9 L74.7,66.8M84.7,54.4 L85.2,43.2M85.2,43.2 L85.7,58.2M85.7,58.2 L86.2,42.2M86.2,42.2 L86.7,62.1M100.7,67.6 L101.2,55.5M101.2,55.5 L101.7,62.5M101.7,62.5 L102.2,50.8M102.2,50.8 L102.7,62.3M105.7,58.4 L106.2,50.6M106.2,50.6 L106.7,58.1M106.7,58.1 L107.2,49.2M134.7,68.3 L135.2,54.9M135.2,54.9 L135.7,61.8M135.7,61.8 L136.2,43.1M136.2,43.1 L136.7,54.0M136.7,54.0 L137.2,36.9M225.7,60.1 L226.2,44.5M226.2,44.5 L226.7,58.0M229.2,51.4 L229.7,62.8M229.7,62.8 L230.2,55.0M230.2,55.0 L230.7,66.3M240.7,57.9 L241.2,36.9M241.2,36.9 L241.7,55.8M241.7,55.8 L242.2,37.1M245.0,47.9 L245.5,59.0M245.5,59.0 L246.0,43.9M246.0,43.9 L246.5,57.4M246.5,57.4 L247.0,43.5M247.0,43.5 L247.5,57.4M270.5,68.5 L271.0,55.9M279.0,38.2 L279.5,58.8M279.5,58.8 L280.0,33.7M280.0,33.7 L280.5,57.9M280.5,57.9 L281.0,34.7M282.0,44.6 L282.5,60.1M282.5,60.1 L283.0,53.8M290.0,48.9 L290.5,61.4M290.5,61.4 L291.0,46.7M291.0,46.7 L291.5,57.0M296.0,37.1 L296.5,50.5M296.5,50.5 L297.0,38.3M297.0,38.3 L297.5,54.1M297.5,54.1 L298.0,38.1M298.0,38.1 L298.5,53.4M298.5,53.4 L299.0,39.8" fill="none" stroke="#44ff00" stroke-width="1.70" stroke-linecap="round"/>
<path d="M75.2,60.6 L75.7,67.7M75.7,67.7 L76.2,60.8M76.2,60.8 L76.7,68.7M76.7,68.7 L77.2,58.6M142.2,52.6 L142.7,61.4M142.7,61.4 L143.2,48.7M177.5,67.6 L178.0,56.7M178.5,67.3 L179.0,56.5M179.0,56.5 L179.5,65.3M179.5,65.3 L180.0,54.5M289.0,58.0 L289.5,63.9M313.5,66.4 L314.0,56.5M314.0,56.5 L314.5,66.0M314.5,66.0 L315.0,53.3M315.0,53.3 L315.5,64.8" fill="none" stroke="#7700ff" stroke-width="1.70" stroke-linecap="round"/>
<path d="M77.2,58.6 L77.7,67.2M77.7,67.2 L78.2,56.9M78.2,56.9 L78.7,66.4M78.7,66.4 L79.2,57.3M128.2,59.6 L128.7,68.2M128.7,68.2 L129.2,60.7M129.2,60.7 L129.7,69.3M129.7,69.3 L130.2,58.1M132.2,54.6 L132.7,67.6M152.5,58.7 L153.0,39.4M153.0,39.4 L153.5,57.4M153.5,57.4 L154.0,42.8M154.0,42.8 L154.5,62.8M157.0,51.0 L157.5,65.6M157.5,65.6 L158.0,55.6M158.0,55.6 L158.5,67.6M178.0,56.7 L178.5,67.3M181.0,55.1 L181.5,64.4M181.5,64.4 L182.0,55.5M182.0,55.5 L182.5,65.0M182.5,65.0 L183.0,56.4M183.0,56.4 L183.5,66.2M183.5,66.2 L184.0,54.1M184.0,54.1 L184.5,63.6M184.5,63.6 L185.0,55.3M185.0,55.3 L185.5,65.0M185.5,65.0 L186.0,54.6M186.0,54.6 L186.5,67.0M186.5,67.0 L187.0,57.6M187.0,57.6 L187.5,69.3" fill="none" stroke="#ff4400" stroke-width="1.70" stroke-linecap="round"/>
<path d="M95.2,63.0 L95.7,68.7M98.7,69.0 L99.2,62.9M217.2,57.6 L217.7,66.1M217.7,66.1 L218.2,59.5M218.7,68.2 L219.2,57.2M311.5,64.3 L312.0,56.7M331.0,53.4 L331.5,64.8" fill="none" stroke="#0022ff" stroke-width="1.70" stroke-linecap="round"/>
<path d="M95.7,68.7 L96.2,63.7M96.2,63.7 L96.7,68.0M214.2,59.9 L214.7,67.6M214.7,67.6 L215.2,57.3M262.5,64.9 L263.0,59.3M263.0,59.3 L263.5,66.7M268.5,69.3 L269.0,64.5M309.0,51.9 L309.5,65.6M309.5,65.6 L310.0,53.9M330.0,47.4 L330.5,66.8M330.5,66.8 L331.0,53.4" fill="none" stroke="#0033ee" stroke-width="1.70" stroke-linecap="round"/>
<path d="M96.7,68.0 L97.2,62.2M97.2,62.2 L97.7,69.3M97.7,69.3 L98.2,62.5M98.2,62.5 L98.7,69.0M269.0,64.5 L269.5,69.3M306.5,64.3 L307.0,51.7M307.0,51.7 L307.5,64.7M307.5,64.7 L308.0,52.2M308.0,52.2 L308.5,66.0M308.5,66.0 L309.0,51.9" fill="none" stroke="#2200ff" stroke-width="1.70" stroke-linecap="round"/>
<path d="M99.2,62.9 L99.7,67.8M215.7,67.7 L216.2,57.9M216.2,57.9 L216.7,65.0M216.7,65.0 L217.2,57.6M218.2,59.5 L218.7,68.2M263.5,66.7 L264.0,60.5M264.0,60.5 L264.5,67.9M264.5,67.9 L265.0,59.5M265.0,59.5 L265.5,65.9M265.5,65.9 L266.0,58.6M266.0,58.6 L266.5,68.3M266.5,68.3 L267.0,60.1M267.0,60.1 L267.5,68.9M267.5,68.9 L268.0,63.0M268.0,63.0 L268.5,69.3M310.0,53.9 L310.5,66.2M310.5,66.2 L311.0,53.3M311.0,53.3 L311.5,64.3M328.0,37.0 L328.5,62.7M328.5,62.7 L329.0,47.8M329.0,47.8 L329.5,65.1M329.5,65.1 L330.0,47.4" fill="none" stroke="#0055ff" stroke-width="1.70" stroke-linecap="round"/>
<path d="M111.7,66.8 L112.2,58.4M112.2,58.4 L112.7,66.9M112.7,66.9 L113.2,58.3M113.2,58.3 L113.7,68.3M146.7,53.6 L147.2,36.9M147.2,36.9 L147.7,52.2M169.0,43.4 L169.5,58.0M169.5,58.0 L170.0,43.7M170.0,43.7 L170.5,60.8M170.5,60.8 L171.0,45.7M171.0,45.7 L171.5,56.4M171.5,56.4 L172.0,45.8M173.0,46.1 L173.5,66.6" fill="none" stroke="#ffcc00" stroke-width="1.70" stroke-linecap="round"/>
<path d="M113.7,68.3 L114.2,60.0M114.2,60.0 L114.7,69.4M151.7,56.8 L152.2,38.2M150.0,24.8 L150.5,54.5M150.5,54.5 L151.0,28.7M151.0,28.7 L151.5,62.2M168.0,43.8 L168.5,60.6M168.5,60.6 L169.0,43.4M250.0,57.6 L250.5,66.4M250.5,66.4 L251.0,58.4M257.0,56.7 L257.5,69.2M257.5,69.2 L258.0,58.1M258.0,58.1 L258.5,66.9M312.0,56.7 L312.5,67.2M312.5,67.2 L313.0,58.1M316.5,67.8 L317.0,49.9M317.0,49.9 L317.5,62.4" fill="none" stroke="#ffaa00" stroke-width="1.70" stroke-linecap="round"/>
<path d="M114.7,69.4 L115.2,60.9M115.2,60.9 L115.7,67.8M116.2,58.9 L116.7,65.3M118.7,63.0 L119.2,53.0M175.0,56.5 L175.5,65.5M175.5,65.5 L176.0,52.7M259.0,55.1 L259.5,65.8M259.5,65.8 L260.0,52.4M260.5,62.8 L261.0,50.8M261.0,50.8 L261.5,65.5M261.5,65.5 L262.0,54.8M262.0,54.8 L262.5,64.9M324.0,50.1 L324.5,61.5M324.5,61.5 L325.0,44.0M325.0,44.0 L325.5,58.8M325.5,58.8 L326.0,41.3" fill="none" stroke="#ccff00" stroke-width="1.70" stroke-linecap="round"/>
<path d="M115.7,67.8 L116.2,58.9M173.5,66.6 L174.0,51.3M174.0,51.3 L174.5,66.3M174.5,66.3 L175.0,56.5M260.0,52.4 L260.5,62.8" fill="none" stroke="#ddff00" stroke-width="1.70" stroke-linecap="round"/>
<path d="M116.7,65.3 L117.2,56.6M117.2,56.6 L117.7,62.2M117.7,62.2 L118.2,55.5M118.2,55.5 L118.7,63.0" fill="none" stroke="#88ff00" stroke-width="1.70" stroke-linecap="round"/>
<path d="M119.2,53.0 L119.7,60.1M119.7,60.1 L120.2,44.5M120.2,44.5 L120.7,53.9M120.7,53.9 L121.2,38.2M121.7,57.0 L122.2,36.8M122.2,36.8 L122.7,58.5M122.7,58.5 L123.2,45.1M123.2,45.1 L123.7,65.0M152.2,38.2 L152.7,58.6M152.7,58.6 L153.2,42.3M153.2,42.3 L153.7,57.7M153.7,57.7 L154.2,43.3M302.5,69.1 L303.0,57.3M303.0,57.3 L303.5,68.4" fill="none" stroke="#ff6600" stroke-width="1.70" stroke-linecap="round"/>
<path d="M121.2,38.2 L121.7,57.0M158.5,67.6 L159.0,56.9M161.0,54.3 L161.5,65.5M161.5,65.5 L162.0,55.0M162.0,55.0 L162.5,67.7M303.5,68.4 L304.0,56.3" fill="none" stroke="#ff5500" stroke-width="1.70" stroke-linecap="round"/>
<path d="M132.7,67.6 L133.2,57.0M133.2,57.0 L133.7,66.1M180.0,54.5 L180.5,64.0M180.5,64.0 L181.0,55.1M255.0,47.7 L255.5,65.7M255.5,65.7 L256.0,54.0M256.0,54.0 L256.5,66.9M256.5,66.9 L257.0,56.7" fill="none" stroke="#00aaff" stroke-width="1.70" stroke-linecap="round"/>
<path d="M147.7,52.2 L148.2,27.3M148.2,27.3 L148.7,42.9M148.7,42.9 L149.2,19.5M149.2,19.5 L149.7,35.5M151.5,62.2 L152.0,34.8M152.0,34.8 L152.5,58.7" fill="none" stroke="#ffbb00" stroke-width="1.70" stroke-linecap="round"/>
<path d="M149.7,35.5 L150.2,23.5M150.2,23.5 L150.7,54.1M150.7,54.1 L151.2,35.3M151.2,35.3 L151.7,56.8M167.0,50.0 L167.5,64.6M167.5,64.6 L168.0,43.8M172.0,45.8 L172.5,60.2M172.5,60.2 L173.0,46.1" fill="none" stroke="#ff8800" stroke-width="1.70" stroke-linecap="round"/>
<path d="M154.2,43.3 L154.7,57.1M162.5,67.7 L163.0,58.4M212.2,58.4 L212.7,67.1M301.0,45.5 L301.5,64.0M301.5,64.0 L302.0,51.3M302.0,51.3 L302.5,69.1" fill="none" stroke="#ff3300" stroke-width="1.70" stroke-linecap="round"/>
<path d="M163.0,58.4 L163.5,67.8M163.5,67.8 L164.0,62.0M164.0,62.0 L164.5,68.9M164.5,68.9 L165.0,64.5M212.7,67.1 L213.2,60.2M313.0,58.1 L313.5,66.4M317.5,62.4 L318.0,47.3" fill="none" stroke="#ffee00" stroke-width="1.70" stroke-linecap="round"/>
<path d="M165.0,64.5 L165.5,68.6M165.5,68.6 L166.0,63.1M166.0,63.1 L166.5,67.1M166.5,67.1 L167.0,50.0M251.0,58.4 L251.5,67.3M251.5,67.3 L252.0,57.2M252.0,57.2 L252.5,68.2M252.5,68.2 L253.0,56.3M253.0,56.3 L253.5,66.0M253.5,66.0 L254.0,50.3M254.0,50.3 L254.5,67.9M254.5,67.9 L255.0,47.7" fill="none" stroke="#0033ff" stroke-width="1.70" stroke-linecap="round"/>
<path d="M176.0,52.7 L176.5,67.5" fill="none" stroke="#55ff00" stroke-width="1.70" stroke-linecap="round"/>
<path d="M213.2,60.2 L213.7,68.1M213.7,68.1 L214.2,59.9M315.5,64.8 L316.0,50.4M316.0,50.4 L316.5,67.8" fill="none" stroke="#00ff44" stroke-width="1.70" stroke-linecap="round"/>
<path d="M215.2,57.3 L215.7,67.7M304.0,56.3 L304.5,64.5M304.5,64.5 L305.0,53.5M305.0,53.5 L305.5,64.3M305.5,64.3 L306.0,53.5M306.0,53.5 L306.5,64.3" fill="none" stroke="#6600ff" stroke-width="1.70" stroke-linecap="round"/>
<path d="M258.5,66.9 L259.0,55.1M318.0,47.3 L318.5,64.1M318.5,64.1 L319.0,46.1M319.0,46.1 L319.5,67.7" fill="none" stroke="#00ddff" stroke-width="1.70" stroke-linecap="round"/>
<path d="M319.5,67.7 L320.0,45.6M320.0,45.6 L320.5,65.3M320.5,65.3 L321.0,48.0M321.0,48.0 L321.5,66.0M322.0,54.7 L322.5,66.3M322.5,66.3 L323.0,55.2M323.0,55.2 L323.5,66.9" fill="none" stroke="#00ffcc" stroke-width="1.70" stroke-linecap="round"/>
<path d="M321.5,66.0 L322.0,54.7" fill="none" stroke="#00ffee" stroke-width="1.70" stroke-linecap="round"/>
<path d="M323.5,66.9 L324.0,50.1" fill="none" stroke="#00ccff" stroke-width="1.70" stroke-linecap="round"/>
<path d="M326.0,41.3 L326.5,61.5M326.5,61.5 L327.0,38.4M327.0,38.4 L327.5,63.2M327.5,63.2 L328.0,37.0" fill="none" stroke="#aaff00" stroke-width="1.70" stroke-linecap="round"/>
<path d="M334.5,67.2 L335.0,58.3M335.0,58.3 L335.5,65.3M335.5,65.3 L336.0,57.8M339.0,58.6 L339.5,65.9M339.5,65.9 L340.0,58.8M340.0,58.8 L340.5,66.4M340.5,66.4 L341.0,57.4M368.5,67.0 L369.0,58.9M369.0,58.9 L369.5,65.7M369.5,65.7 L370.0,58.6M491.5,62.9 L492.0,43.7M492.0,43.7 L492.5,57.3M519.5,62.3 L520.0,47.6M520.0,47.6 L520.5,62.4M520.5,62.4 L521.0,53.4M521.0,53.4 L521.5,65.7M521.5,65.7 L522.0,52.9M541.5,65.4 L542.0,58.7M542.0,58.7 L542.5,65.9M542.5,65.9 L543.0,61.9M543.0,61.9 L543.5,66.5" fill="none" stroke="#ff2200" stroke-width="1.35" stroke-linecap="round"/>
<path d="M336.0,57.8 L336.5,65.8M336.5,65.8 L337.0,57.1M341.0,57.4 L341.5,65.4M341.5,65.4 L342.0,56.8M364.5,66.3 L365.0,61.9M365.0,61.9 L365.5,66.7M365.5,66.7 L366.0,61.3M406.5,66.6 L407.0,59.0M407.0,59.0 L407.5,66.3M407.5,66.3 L408.0,60.6M430.5,67.0 L431.0,62.5" fill="none" stroke="#9900ff" stroke-width="1.35" stroke-linecap="round"/>
<path d="M337.0,57.1 L337.5,64.3M337.5,64.3 L338.0,57.7M338.0,57.7 L338.5,66.9M338.5,66.9 L339.0,58.6M363.0,54.5 L363.5,66.6M363.5,66.6 L364.0,60.0M364.0,60.0 L364.5,66.3M368.0,59.5 L368.5,67.0M488.0,57.1 L488.5,66.5M488.5,66.5 L489.0,60.8M489.0,60.8 L489.5,66.3" fill="none" stroke="#ff4400" stroke-width="1.35" stroke-linecap="round"/>
<path d="M342.0,56.8 L342.5,65.5M429.5,61.0 L430.0,55.3M430.0,55.3 L430.5,67.0M438.5,66.4 L439.0,60.3M439.0,60.3 L439.5,67.6M439.5,67.6 L440.0,60.7M440.0,60.7 L440.5,67.3M444.0,61.0 L444.5,66.4M563.5,65.6 L564.0,58.0M564.0,58.0 L564.5,65.2M564.5,65.2 L565.0,58.1M579.5,67.3 L580.0,61.8M580.0,61.8 L580.5,66.8M580.5,66.8 L581.0,62.2M581.0,62.2 L581.5,67.7" fill="none" stroke="#00aaff" stroke-width="1.35" stroke-linecap="round"/>
<path d="M342.5,65.5 L343.0,57.7M366.0,61.3 L366.5,67.6M366.5,67.6 L367.0,60.5M367.0,60.5 L367.5,68.0M367.5,68.0 L368.0,59.5M442.5,69.0 L443.0,64.5M443.0,64.5 L443.5,68.2M443.5,68.2 L444.0,61.0M490.0,59.0 L490.5,65.3M490.5,65.3 L491.0,56.9M491.0,56.9 L491.5,62.9M508.0,60.7 L508.5,65.7M508.5,65.7 L509.0,61.0M509.0,61.0 L509.5,67.5M509.5,67.5 L510.0,63.2M510.0,63.2 L510.5,68.3M510.5,68.3 L511.0,64.2M546.0,62.2 L546.5,67.1M546.5,67.1 L547.0,62.2M547.0,62.2 L547.5,66.1M559.5,60.3 L560.0,51.9M560.0,51.9 L560.5,62.7M565.0,58.1 L565.5,66.8M565.5,66.8 L566.0,60.7M566.0,60.7 L566.5,67.5M578.5,66.9 L579.0,62.6M579.0,62.6 L579.5,67.3" fill="none" stroke="#7700ff" stroke-width="1.35" stroke-linecap="round"/>
<path d="M343.0,57.7 L343.5,66.7M340.0,58.3 L340.5,66.4M340.5,66.4 L341.0,57.9M341.0,57.9 L341.5,65.4M341.5,65.4 L342.0,58.9M370.0,58.6 L370.5,65.4M370.5,65.4 L371.0,58.0M405.0,59.6 L405.5,66.7M405.5,66.7 L406.0,56.8M406.0,56.8 L406.5,66.6M408.0,60.6 L408.5,66.5M408.5,66.5 L409.0,58.6M409.0,58.6 L409.5,66.9M489.5,66.3 L490.0,59.0M562.5,64.2 L563.0,59.0M563.0,59.0 L563.5,65.6" fill="none" stroke="#0044ff" stroke-width="1.35" stroke-linecap="round"/>
<path d="M343.5,66.7 L344.0,49.9M344.0,49.9 L344.5,66.4M343.0,58.2 L343.5,68.9M343.5,68.9 L344.0,53.3M344.0,53.3 L344.5,62.9M344.5,62.9 L345.0,48.8M360.5,60.3 L361.0,46.4M361.0,46.4 L361.5,60.1M361.5,60.1 L362.0,48.3M362.0,48.3 L362.5,63.9M386.5,65.3 L387.0,57.6M482.5,62.9 L483.0,51.1M513.0,58.5 L513.5,65.9M513.5,65.9 L514.0,54.4M551.5,55.2 L552.0,44.7M552.0,44.7 L552.5,53.7M552.5,53.7 L553.0,43.8M553.0,43.8 L553.5,56.7" fill="none" stroke="#44ff00" stroke-width="1.35" stroke-linecap="round"/>
<path d="M344.5,66.4 L345.0,49.1M349.0,49.4 L349.5,63.8M349.5,63.8 L350.0,55.1M350.0,55.1 L350.5,64.7M384.5,64.1 L385.0,57.1M385.0,57.1 L385.5,64.3M385.5,64.3 L386.0,58.7M397.0,47.1 L397.5,56.6M435.0,62.4 L435.5,66.0M435.5,66.0 L436.0,61.7M436.0,61.7 L436.5,65.9M436.5,65.9 L437.0,60.9M438.0,60.5 L438.5,66.4M479.5,67.2 L480.0,59.3M480.0,59.3 L480.5,65.2M480.5,65.2 L481.0,57.8M483.0,51.1 L483.5,61.9M483.5,61.9 L484.0,51.4" fill="none" stroke="#00f030" stroke-width="1.35" stroke-linecap="round"/>
<path d="M342.0,58.9 L342.5,68.0M342.5,68.0 L343.0,58.2M560.5,62.7 L561.0,56.2M561.0,56.2 L561.5,64.2M561.5,64.2 L562.0,57.9M562.0,57.9 L562.5,64.2" fill="none" stroke="#0000ff" stroke-width="1.35" stroke-linecap="round"/>
<path d="M345.0,48.8 L345.5,60.1M345.5,60.1 L346.0,44.4M359.0,57.2 L359.5,63.6M359.5,63.6 L360.0,51.6M360.0,51.6 L360.5,60.3M389.5,67.2 L390.0,61.5M395.0,57.6 L395.5,64.3M395.5,64.3 L396.0,52.6M396.0,52.6 L396.5,62.6M396.5,62.6 L397.0,47.1M399.5,58.0 L400.0,42.6M400.0,42.6 L400.5,63.8M400.5,63.8 L401.0,54.9M418.0,40.4 L418.5,60.8M418.5,60.8 L419.0,50.5M512.0,62.9 L512.5,66.9M512.5,66.9 L513.0,58.5M549.0,58.0 L549.5,65.2M553.5,56.7 L554.0,46.5M554.0,46.5 L554.5,58.3M554.5,58.3 L555.0,49.1" fill="none" stroke="#22ff00" stroke-width="1.35" stroke-linecap="round"/>
<path d="M346.0,44.4 L346.5,57.6M346.5,57.6 L347.0,43.5M347.0,43.5 L347.5,61.5M347.5,61.5 L348.0,51.1M348.0,51.1 L348.5,63.4M348.5,63.4 L349.0,49.4M387.0,57.6 L387.5,64.3M387.5,64.3 L388.0,58.3M388.0,58.3 L388.5,63.6M388.5,63.6 L389.0,58.8M398.5,58.2 L399.0,34.8M399.0,34.8 L399.5,58.0M414.5,61.2 L415.0,48.8M415.0,48.8 L415.5,61.1M415.5,61.1 L416.0,41.5M437.0,60.9 L437.5,65.6M437.5,65.6 L438.0,60.5M514.0,54.4 L514.5,61.9M514.5,61.9 L515.0,49.3M515.0,49.3 L515.5,60.4M515.5,60.4 L516.0,46.7M516.0,46.7 L516.5,58.4M530.0,61.9 L530.5,67.2M530.5,67.2 L531.0,59.6M549.5,65.2 L550.0,50.1M550.0,50.1 L550.5,62.2M550.5,62.2 L551.0,44.5M551.0,44.5 L551.5,55.2" fill="none" stroke="#33ff11" stroke-width="1.35" stroke-linecap="round"/>
<path d="M350.5,64.7 L351.0,57.7M362.5,63.9 L363.0,54.5M386.0,58.7 L386.5,65.3M389.0,58.8 L389.5,67.2M397.5,56.6 L398.0,37.0M398.0,37.0 L398.5,58.2M416.0,41.5 L416.5,57.3M416.5,57.3 L417.0,40.5M417.0,40.5 L417.5,54.2M417.5,54.2 L418.0,40.4M481.0,57.8 L481.5,63.1M481.5,63.1 L482.0,53.8M482.0,53.8 L482.5,62.9M484.0,51.4 L484.5,62.5M484.5,62.5 L485.0,52.9M485.0,52.9 L485.5,63.4M516.5,58.4 L517.0,48.8M517.0,48.8 L517.5,61.2M517.5,61.2 L518.0,47.4M531.0,59.6 L531.5,67.1M531.5,67.1 L532.0,56.4M532.0,56.4 L532.5,64.3M555.0,49.1 L555.5,61.7M555.5,61.7 L556.0,52.5" fill="none" stroke="#00ff22" stroke-width="1.35" stroke-linecap="round"/>
<path d="M351.0,57.7 L351.5,65.4M351.5,65.4 L352.0,51.4M352.0,51.4 L352.5,61.1M492.5,57.3 L493.0,37.6M526.0,58.2 L526.5,64.5M526.5,64.5 L527.0,59.5M527.0,59.5 L527.5,65.2M527.5,65.2 L528.0,60.6M528.0,60.6 L528.5,67.4M528.5,67.4 L529.0,61.4" fill="none" stroke="#ddff00" stroke-width="1.35" stroke-linecap="round"/>
<path d="M352.5,61.1 L353.0,42.9M353.0,42.9 L353.5,57.8M353.5,57.8 L354.0,38.9M354.0,38.9 L354.5,55.6M436.5,67.1 L437.0,60.3M437.0,60.3 L437.5,66.5M437.5,66.5 L438.0,60.7M438.0,60.7 L438.5,66.5M493.5,55.9 L494.0,38.7M530.0,61.1 L530.5,68.1M530.5,68.1 L531.0,60.7M531.0,60.7 L531.5,65.8M531.5,65.8 L532.0,58.6" fill="none" stroke="#55ff00" stroke-width="1.35" stroke-linecap="round"/>
<path d="M354.5,55.6 L355.0,36.3M355.0,36.3 L355.5,63.3M355.5,63.3 L356.0,47.0M438.5,66.5 L439.0,60.4M439.0,60.4 L439.5,66.4M439.5,66.4 L440.0,60.2M529.0,61.4 L529.5,66.8M529.5,66.8 L530.0,61.1M586.0,60.7 L586.5,68.5M586.5,68.5 L587.0,63.4M587.0,63.4 L587.5,67.6" fill="none" stroke="#aaff00" stroke-width="1.35" stroke-linecap="round"/>
<path d="M356.0,47.0 L356.5,62.4M356.5,62.4 L357.0,49.0M357.0,49.0 L357.5,61.7M358.0,52.5 L358.5,63.3M358.5,63.3 L359.0,57.2M431.0,62.5 L431.5,67.5M431.5,67.5 L432.0,60.8M432.0,60.8 L432.5,66.4M433.5,67.0 L434.0,61.5M434.0,61.5 L434.5,66.8M434.5,66.8 L435.0,60.7M518.0,47.4 L518.5,58.7M518.5,58.7 L519.0,35.9M519.0,35.9 L519.5,62.3" fill="none" stroke="#ccff00" stroke-width="1.35" stroke-linecap="round"/>
<path d="M357.5,61.7 L358.0,52.5M432.5,66.4 L433.0,60.7M433.0,60.7 L433.5,67.0M435.0,60.7 L435.5,66.6M435.5,66.6 L436.0,60.7M436.0,60.7 L436.5,67.1M493.0,37.6 L493.5,55.9M587.5,67.6 L588.0,63.6M588.0,63.6 L588.5,67.3M588.5,67.3 L589.0,61.2" fill="none" stroke="#88ff00" stroke-width="1.35" stroke-linecap="round"/>
<path d="M371.0,58.0 L371.5,65.8M371.5,65.8 L372.0,57.0M372.0,57.0 L372.5,65.5M372.5,65.5 L373.0,58.4M375.0,60.2 L375.5,67.4M428.0,32.4 L428.5,55.2M428.5,55.2 L429.0,31.1M485.5,63.4 L486.0,54.1M486.0,54.1 L486.5,65.4M589.0,61.2 L589.5,65.9M589.5,65.9 L590.0,58.4M590.0,58.4 L590.5,65.1M591.5,63.4 L592.0,55.8M593.5,62.9 L594.0,57.4M594.0,57.4 L594.5,63.2M597.0,57.4 L597.5,64.0M597.5,64.0 L598.0,59.6" fill="none" stroke="#0033ee" stroke-width="1.35" stroke-linecap="round"/>
<path d="M373.0,58.4 L373.5,64.6M426.5,62.6 L427.0,42.1M427.0,42.1 L427.5,59.7M427.5,59.7 L428.0,32.4M476.5,66.5 L477.0,61.4M477.0,61.4 L477.5,66.9M557.5,61.3 L558.0,50.8M558.0,50.8 L558.5,58.9M558.5,58.9 L559.0,48.5M559.0,48.5 L559.5,60.3M595.5,64.5 L596.0,56.9M596.0,56.9 L596.5,64.8M596.5,64.8 L597.0,57.4" fill="none" stroke="#0055ff" stroke-width="1.35" stroke-linecap="round"/>
<path d="M373.5,64.6 L374.0,59.0M374.0,59.0 L374.5,66.3M374.5,66.3 L375.0,60.2M429.0,31.1 L429.5,61.0M477.5,66.9 L478.0,62.6M556.0,52.5 L556.5,64.5M590.5,65.1 L591.0,57.1M591.0,57.1 L591.5,63.4M592.0,55.8 L592.5,63.2M592.5,63.2 L593.0,55.3M593.0,55.3 L593.5,62.9" fill="none" stroke="#2200ff" stroke-width="1.35" stroke-linecap="round"/>
<path d="M375.5,67.4 L376.0,57.1M376.0,57.1 L376.5,63.8M376.5,63.8 L377.0,53.9M377.0,53.9 L377.5,62.5M380.0,48.1 L380.5,60.5M380.5,60.5 L381.0,44.0M381.0,44.0 L381.5,57.2M381.5,57.2 L382.0,45.1M382.0,45.1 L382.5,58.4M382.5,58.4 L383.0,47.9M411.0,53.8 L411.5,61.4M411.5,61.4 L412.0,52.6M412.0,52.6 L412.5,64.5M494.0,38.7 L494.5,58.8M494.5,58.8 L495.0,50.6M495.0,50.6 L495.5,61.5M495.5,61.5 L496.0,53.1M502.0,55.3 L502.5,63.3M574.0,53.3 L574.5,63.8" fill="none" stroke="#00ff77" stroke-width="1.35" stroke-linecap="round"/>
<path d="M377.5,62.5 L378.0,50.9M378.0,50.9 L378.5,62.8M378.5,62.8 L379.0,49.0M379.0,49.0 L379.5,62.4M379.5,62.4 L380.0,48.1M383.0,47.9 L383.5,60.9M383.5,60.9 L384.0,53.4M384.0,53.4 L384.5,64.1M410.0,54.4 L410.5,63.9M410.5,63.9 L411.0,53.8M412.5,64.5 L413.0,54.7M456.0,60.1 L456.5,64.6M456.5,64.6 L457.0,60.2M496.0,53.1 L496.5,63.6M496.5,63.6 L497.0,55.8M497.5,65.6 L498.0,59.2M498.0,59.2 L498.5,65.4M498.5,65.4 L499.0,58.8M499.0,58.8 L499.5,64.2M507.0,59.0 L507.5,65.3M507.5,65.3 L508.0,60.7M566.5,67.5 L567.0,58.0M567.0,58.0 L567.5,64.2M567.5,64.2 L568.0,53.0M568.0,53.0 L568.5,60.3M568.5,60.3 L569.0,50.0M572.0,49.1 L572.5,60.0M572.5,60.0 L573.0,51.7M573.0,51.7 L573.5,61.5M573.5,61.5 L574.0,53.3" fill="none" stroke="#00ff66" stroke-width="1.35" stroke-linecap="round"/>
<path d="M390.0,61.5 L390.5,69.0M390.5,69.0 L391.0,63.5M392.0,63.8 L392.5,69.0M392.5,69.0 L393.0,62.9M393.0,62.9 L393.5,67.4M393.5,67.4 L394.0,61.7" fill="none" stroke="#ffee00" stroke-width="1.35" stroke-linecap="round"/>
<path d="M391.0,63.5 L391.5,68.4M391.5,68.4 L392.0,63.8M584.5,67.3 L585.0,60.1M585.0,60.1 L585.5,67.2" fill="none" stroke="#00ff44" stroke-width="1.35" stroke-linecap="round"/>
<path d="M394.0,61.7 L394.5,67.4M394.5,67.4 L395.0,57.6M511.0,64.2 L511.5,69.1M511.5,69.1 L512.0,62.9M585.5,67.2 L586.0,60.7" fill="none" stroke="#0033ff" stroke-width="1.35" stroke-linecap="round"/>
<path d="M401.0,54.9 L401.5,65.4M401.5,65.4 L402.0,58.0M402.0,58.0 L402.5,67.4M402.5,67.4 L403.0,59.5M403.0,59.5 L403.5,68.6M403.5,68.6 L404.0,60.7M404.0,60.7 L404.5,68.6M541.0,56.7 L541.5,65.4M544.0,63.4 L544.5,67.3M544.5,67.3 L545.0,63.2M545.0,63.2 L545.5,67.9M581.5,67.7 L582.0,62.6M582.0,62.6 L582.5,68.5M582.5,68.5 L583.0,61.0M583.0,61.0 L583.5,66.7M583.5,66.7 L584.0,59.6M584.0,59.6 L584.5,67.3" fill="none" stroke="#ff3300" stroke-width="1.35" stroke-linecap="round"/>
<path d="M404.5,68.6 L405.0,59.6M522.0,52.9 L522.5,65.2M522.5,65.2 L523.0,54.6" fill="none" stroke="#ff5500" stroke-width="1.35" stroke-linecap="round"/>
<path d="M409.5,66.9 L410.0,54.4M447.0,54.7 L447.5,62.1M455.0,59.4 L455.5,64.2M455.5,64.2 L456.0,60.1M458.0,62.4 L458.5,67.1M458.5,67.1 L459.0,61.4M459.0,61.4 L459.5,65.7M459.5,65.7 L460.0,58.7M460.0,58.7 L460.5,64.2M460.5,64.2 L461.0,57.0M461.0,57.0 L461.5,64.0M464.5,62.8 L465.0,54.4M465.0,54.4 L465.5,61.2M465.5,61.2 L466.0,53.0M466.0,53.0 L466.5,59.2M501.0,54.2 L501.5,63.4M501.5,63.4 L502.0,55.3M502.5,63.3 L503.0,55.5M503.0,55.5 L503.5,62.6M503.5,62.6 L504.0,53.1M504.0,53.1 L504.5,62.8" fill="none" stroke="#22ff44" stroke-width="1.35" stroke-linecap="round"/>
<path d="M413.0,54.7 L413.5,63.8M413.5,63.8 L414.0,46.5M414.0,46.5 L414.5,61.2M524.5,63.5 L525.0,56.5M525.0,56.5 L525.5,63.3M525.5,63.3 L526.0,58.2M594.5,63.2 L595.0,57.0M595.0,57.0 L595.5,64.5" fill="none" stroke="#0022ff" stroke-width="1.35" stroke-linecap="round"/>
<path d="M419.0,50.5 L419.5,63.3M419.5,63.3 L420.0,53.2M420.0,53.2 L420.5,64.8M420.5,64.8 L421.0,55.1M421.0,55.1 L421.5,63.0M421.5,63.0 L422.0,53.0M422.0,53.0 L422.5,64.3M425.5,63.8 L426.0,53.8M426.0,53.8 L426.5,62.6M452.0,52.7 L452.5,62.2M535.5,56.7 L536.0,46.1M538.0,54.3 L538.5,62.8M538.5,62.8 L539.0,55.1M539.0,55.1 L539.5,62.4M539.5,62.4 L540.0,55.9M540.0,55.9 L540.5,64.4M540.5,64.4 L541.0,56.7M577.5,67.2 L578.0,62.1M578.0,62.1 L578.5,66.9" fill="none" stroke="#00ccff" stroke-width="1.35" stroke-linecap="round"/>
<path d="M422.5,64.3 L423.0,51.3M423.0,51.3 L423.5,63.5M450.5,59.6 L451.0,53.7M451.0,53.7 L451.5,60.9M451.5,60.9 L452.0,52.7M467.0,51.6 L467.5,60.6M467.5,60.6 L468.0,51.6M468.0,51.6 L468.5,59.9M468.5,59.9 L469.0,50.5M472.5,63.0 L473.0,58.1M473.0,58.1 L473.5,64.6M473.5,64.6 L474.0,58.3M536.0,46.1 L536.5,60.8M536.5,60.8 L537.0,52.1M537.0,52.1 L537.5,62.0M537.5,62.0 L538.0,54.3M598.0,59.6 L598.5,66.7M598.5,66.7 L599.0,61.4M599.0,61.4 L599.5,68.7M599.5,68.7 L600.0,64.8" fill="none" stroke="#00ffee" stroke-width="1.35" stroke-linecap="round"/>
<path d="M423.5,63.5 L424.0,52.6M424.0,52.6 L424.5,65.0M424.5,65.0 L425.0,53.1M425.0,53.1 L425.5,63.8M469.0,50.5 L469.5,58.1M470.0,49.3 L470.5,59.7M470.5,59.7 L471.0,52.4M471.0,52.4 L471.5,63.1M471.5,63.1 L472.0,57.4M472.0,57.4 L472.5,63.0M575.0,56.3 L575.5,63.1M575.5,63.1 L576.0,58.7M576.0,58.7 L576.5,65.9M576.5,65.9 L577.0,60.2M577.0,60.2 L577.5,67.2" fill="none" stroke="#00e5ff" stroke-width="1.35" stroke-linecap="round"/>
<path d="M440.5,67.3 L441.0,61.6M441.0,61.6 L441.5,68.8M441.5,68.8 L442.0,64.0M442.0,64.0 L442.5,69.0" fill="none" stroke="#00ddff" stroke-width="1.35" stroke-linecap="round"/>
<path d="M444.5,66.4 L445.0,58.2M445.0,58.2 L445.5,64.0M445.5,64.0 L446.0,57.2M446.0,57.2 L446.5,64.3M446.5,64.3 L447.0,54.7M449.0,51.3 L449.5,62.3M449.5,62.3 L450.0,51.3M450.0,51.3 L450.5,59.6M457.0,60.2 L457.5,66.6M457.5,66.6 L458.0,62.4M497.0,55.8 L497.5,65.6M499.5,64.2 L500.0,55.9M500.0,55.9 L500.5,63.0M500.5,63.0 L501.0,54.2M504.5,62.8 L505.0,55.3M505.0,55.3 L505.5,62.9M505.5,62.9 L506.0,57.1M506.0,57.1 L506.5,65.0M506.5,65.0 L507.0,59.0" fill="none" stroke="#00ff99" stroke-width="1.35" stroke-linecap="round"/>
<path d="M447.5,62.1 L448.0,52.7M448.0,52.7 L448.5,61.7M448.5,61.7 L449.0,51.3M461.5,64.0 L462.0,56.4M462.0,56.4 L462.5,62.9M462.5,62.9 L463.0,55.6M463.0,55.6 L463.5,62.5M463.5,62.5 L464.0,55.6M464.0,55.6 L464.5,62.8M466.5,59.2 L467.0,51.6M569.0,50.0 L569.5,59.0M569.5,59.0 L570.0,48.2M570.0,48.2 L570.5,58.5M570.5,58.5 L571.0,48.4M571.0,48.4 L571.5,59.2M571.5,59.2 L572.0,49.1" fill="none" stroke="#00f0b0" stroke-width="1.35" stroke-linecap="round"/>
<path d="M452.5,62.2 L453.0,53.0M453.0,53.0 L453.5,62.3M453.5,62.3 L454.0,54.6M454.0,54.6 L454.5,64.1M454.5,64.1 L455.0,59.4M474.0,58.3 L474.5,64.6M574.5,63.8 L575.0,56.3M600.0,64.8 L600.5,67.9" fill="none" stroke="#00ffcc" stroke-width="1.35" stroke-linecap="round"/>
<path d="M469.5,58.1 L470.0,49.3M474.5,64.6 L475.0,59.0M475.0,59.0 L475.5,66.3M475.5,66.3 L476.0,60.5M476.0,60.5 L476.5,66.5" fill="none" stroke="#0088ff" stroke-width="1.35" stroke-linecap="round"/>
<path d="M478.0,62.6 L478.5,68.7M478.5,68.7 L479.0,62.6M479.0,62.6 L479.5,67.2M486.5,65.4 L487.0,53.8M487.0,53.8 L487.5,64.2M487.5,64.2 L488.0,57.1M523.0,54.6 L523.5,65.5M523.5,65.5 L524.0,56.2M524.0,56.2 L524.5,63.5M556.5,64.5 L557.0,54.3M557.0,54.3 L557.5,61.3" fill="none" stroke="#6600ff" stroke-width="1.35" stroke-linecap="round"/>
<path d="M532.0,58.6 L532.5,66.9M532.5,66.9 L533.0,53.3M533.0,53.3 L533.5,63.2M533.5,63.2 L534.0,47.3M534.0,47.3 L534.5,63.5M534.5,63.5 L535.0,45.2M534.0,47.1 L534.5,58.1" fill="none" stroke="#ffbb00" stroke-width="1.35" stroke-linecap="round"/>
<path d="M532.5,64.3 L533.0,51.9M533.0,51.9 L533.5,63.5" fill="none" stroke="#ff8800" stroke-width="1.35" stroke-linecap="round"/>
<path d="M533.5,63.5 L534.0,47.1" fill="none" stroke="#ffcc00" stroke-width="1.35" stroke-linecap="round"/>
<path d="M534.5,58.1 L535.0,43.8M535.0,43.8 L535.5,56.7M547.5,66.1 L548.0,62.1M548.0,62.1 L548.5,67.5M548.5,67.5 L549.0,58.0" fill="none" stroke="#ffaa00" stroke-width="1.35" stroke-linecap="round"/>
<path d="M543.5,66.5 L544.0,63.4M545.5,67.9 L546.0,62.2" fill="none" stroke="#ff6600" stroke-width="1.35" stroke-linecap="round"/>
<text transform="translate(13.5,43.5) rotate(-90)" text-anchor="middle" fill="#000" stroke="#000" stroke-width="0.3">WS (m s<tspan dy="-7" font-size="8.2px">-1</tspan><tspan dy="7">)</tspan></text>
<text transform="translate(13.5,114.5) rotate(-90)" text-anchor="middle" fill="#000" stroke="#000" stroke-width="0.3">RH (%)</text>
<text transform="translate(13.3,185.8) rotate(-90)" text-anchor="middle" fill="#000" stroke="#000" stroke-width="0.3">O<tspan dy="2.8" font-size="8.4px">3</tspan><tspan dy="-2.8"> (ppbv)</tspan></text>
<text transform="translate(13.3,257.0) rotate(-90)" text-anchor="middle" fill="#000" stroke="#000" stroke-width="0.3">N<tspan dy="2.8" font-size="8.4px">2</tspan><tspan dy="-2.8">O</tspan><tspan dy="2.8" font-size="8.4px">5</tspan><tspan dy="-2.8"> (pptv)</tspan></text>
<text transform="translate(13.5,328.5) rotate(-90)" text-anchor="middle" fill="#000" stroke="#000" stroke-width="0.3">Mass Frac.</text>
<text transform="translate(653.5,186.2) rotate(90)" text-anchor="middle" fill="#000" stroke="#000" stroke-width="0.3">NO<tspan dy="2.8" font-size="8.4px">2</tspan><tspan dy="-2.8"> (ppbv)</tspan></text>
<text transform="translate(653.5,257.5) rotate(90)" text-anchor="middle" fill="#000" stroke="#000" stroke-width="0.3">ClNO<tspan dy="2.8" font-size="8.4px">2</tspan><tspan dy="-2.8"> (pptv)</tspan></text>
<text x="60.6" y="20.5" fill="#000" font-size="11.6px" stroke="#000" stroke-width="0.3">(a)</text>
<text x="78.3" y="20.5" fill="#000" font-size="11.6px" stroke="#000" stroke-width="0.3">WS</text>
<text x="59.6" y="84.9" fill="#000" font-size="11.6px" stroke="#000" stroke-width="0.3">(b)</text>
<text x="77.0" y="84.9" fill="#ff85ad" font-size="11.6px" stroke="#ff85ad" stroke-width="0.3">RH</text>
<text x="98.8" y="84.9" fill="#c98a12" font-size="11.6px" stroke="#c98a12" stroke-width="0.3"><tspan font-style="italic">T</tspan></text>
<text x="110.7" y="84.9" fill="#9a3df0" font-size="11.6px" stroke="#9a3df0" stroke-width="0.3">Sa</text>
<text x="59.6" y="157.7" fill="#000" font-size="11.6px" stroke="#000" stroke-width="0.3">(c)</text>
<text x="76.7" y="157.7" fill="#66cc00" font-size="11.6px" stroke="#66cc00" stroke-width="0.3">NO<tspan dy="2.8" font-size="8.4px">2</tspan><tspan dy="-2.8"></tspan></text>
<text x="101.6" y="157.7" fill="#ffbb44" font-size="11.6px" stroke="#ffbb44" stroke-width="0.3">O<tspan dy="2.8" font-size="8.4px">3</tspan><tspan dy="-2.8"></tspan></text>
<text x="60.3" y="230.6" fill="#000" font-size="11.6px" stroke="#000" stroke-width="0.3">(d)</text>
<text x="77.8" y="230.6" fill="#d4145a" font-size="11.6px" stroke="#d4145a" stroke-width="0.3">N<tspan dy="2.8" font-size="8.4px">2</tspan><tspan dy="-2.8">O</tspan><tspan dy="2.8" font-size="8.4px">5</tspan><tspan dy="-2.8"></tspan></text>
<text x="107.4" y="230.6" fill="#169c54" font-size="11.6px" stroke="#169c54" stroke-width="0.3">ClNO<tspan dy="2.8" font-size="8.4px">2</tspan><tspan dy="-2.8"></tspan></text>
<text x="58.4" y="298.6" fill="#000" font-size="11.6px" stroke="#000" stroke-width="0.3">(e)</text>
<text x="76.6" y="298.6" fill="#22dd22" font-size="11.6px" stroke="#22dd22" stroke-width="0.3">Org</text>
<text x="99.0" y="298.6" fill="#ff0000" font-size="11.6px" stroke="#ff0000" stroke-width="0.3">SO<tspan dy="2.8" font-size="8.4px">4</tspan><tspan dy="-2.8"></tspan></text>
<text x="124.0" y="298.6" fill="#0000ff" font-size="11.6px" stroke="#0000ff" stroke-width="0.3">NO<tspan dy="2.8" font-size="8.4px">3</tspan><tspan dy="-9.8" dx="0.5" font-size="8.4px">-</tspan></text>
<text x="151.5" y="298.6" fill="#ffa500" font-size="11.6px" stroke="#ffa500" stroke-width="0.3">NH<tspan dy="2.8" font-size="8.4px">4</tspan><tspan dy="-2.8"></tspan></text>
<text x="176.3" y="298.6" fill="#ff00ff" font-size="11.6px" stroke="#ff00ff" stroke-width="0.3">Chl</text>
<text x="197.2" y="298.6" fill="#000" font-size="11.6px" stroke="#000" stroke-width="0.3">BC</text>
<path d="M200,6.2H270.3 M284.5,6.2H348" stroke="#000" stroke-width="1"/>
<path d="M196.0,6.2 L207.5,3.0 L207.5,9.4 Z" fill="#000"/>
<path d="M352.3,6.2 L340.8,3.0 L340.8,9.4 Z" fill="#000"/>
<text x="277.2" y="10.2" text-anchor="middle" font-size="10.8px" stroke="#000" stroke-width="0.3">P1</text>
<path d="M357,6.2H467.8 M483.2,6.2H606" stroke="#000" stroke-width="1"/>
<path d="M352.3,6.2 L363.8,3.0 L363.8,9.4 Z" fill="#000"/>
<path d="M610.5,6.2 L599.0,3.0 L599.0,9.4 Z" fill="#000"/>
<text x="475.4" y="10.2" text-anchor="middle" font-size="10.8px" stroke="#000" stroke-width="0.3">P2</text>
<defs><linearGradient id="wd" x1="0" x2="1" y1="0" y2="0"><stop offset="0" stop-color="#8800ff"/><stop offset="0.11" stop-color="#0000ff"/><stop offset="0.22" stop-color="#0080ff"/><stop offset="0.32" stop-color="#00e8ff"/><stop offset="0.42" stop-color="#00ff90"/><stop offset="0.53" stop-color="#00ff00"/><stop offset="0.66" stop-color="#80ff00"/><stop offset="0.77" stop-color="#ffff00"/><stop offset="0.88" stop-color="#ff9000"/><stop offset="1" stop-color="#ff0000"/></linearGradient></defs>
<rect x="514.4" y="11.9" width="86.5" height="6.4" fill="url(#wd)" stroke="#000" stroke-width="1"/>
<path d="M515.30,18.3v2.6M527.06,18.3v1.5M538.82,18.3v2.6M550.58,18.3v1.5M562.34,18.3v2.6M574.10,18.3v1.5M585.86,18.3v2.6M597.62,18.3v1.5" stroke="#000" stroke-width="1"/>
<text x="515.3" y="31.4" text-anchor="middle" font-size="9.4px" stroke="#000" stroke-width="0.3">0</text>
<text x="538.8" y="31.4" text-anchor="middle" font-size="9.4px" stroke="#000" stroke-width="0.3">100</text>
<text x="562.3" y="31.4" text-anchor="middle" font-size="9.4px" stroke="#000" stroke-width="0.3">200</text>
<text x="585.9" y="31.4" text-anchor="middle" font-size="9.4px" stroke="#000" stroke-width="0.3">300</text>
<text x="542.6" y="44.6" font-size="9.7px" stroke="#000" stroke-width="0.3">WD <tspan font-size="11px">(</tspan><tspan dy="-5.8" font-size="7.2px">o</tspan><tspan dy="5.8" font-size="11px">)</tspan></text>
<text x="614.6" y="68.2" fill="#9a3df0" font-size="12px" stroke="#9a3df0" stroke-width="0.3">Sa (µm<tspan dy="-7" font-size="8.2px">2</tspan><tspan dy="7">cm</tspan><tspan dy="-7" font-size="8.2px">-3</tspan><tspan dy="7">)</tspan></text>
<text x="546.2" y="84.7" fill="#c98a12" font-size="11.4px" stroke="#c98a12" stroke-width="0.3"><tspan font-style="italic">T</tspan> (<tspan dy="-7" font-size="9px">o</tspan><tspan dy="7">C)</tspan></text>
<path d="M605.5,93.8L589.6,87.8" stroke="#c98a12" stroke-width="1.3"/>
<path d="M578.8,83.8L590.8,84.6L588.4,91.0Z" fill="#c98a12"/>
<path d="M643.8,97.5L636.7,82.6" stroke="#9a3df0" stroke-width="1.3"/>
<path d="M631.6,71.8L639.8,81.2L633.7,84.1Z" fill="#9a3df0"/>
</svg>
</body></html>
